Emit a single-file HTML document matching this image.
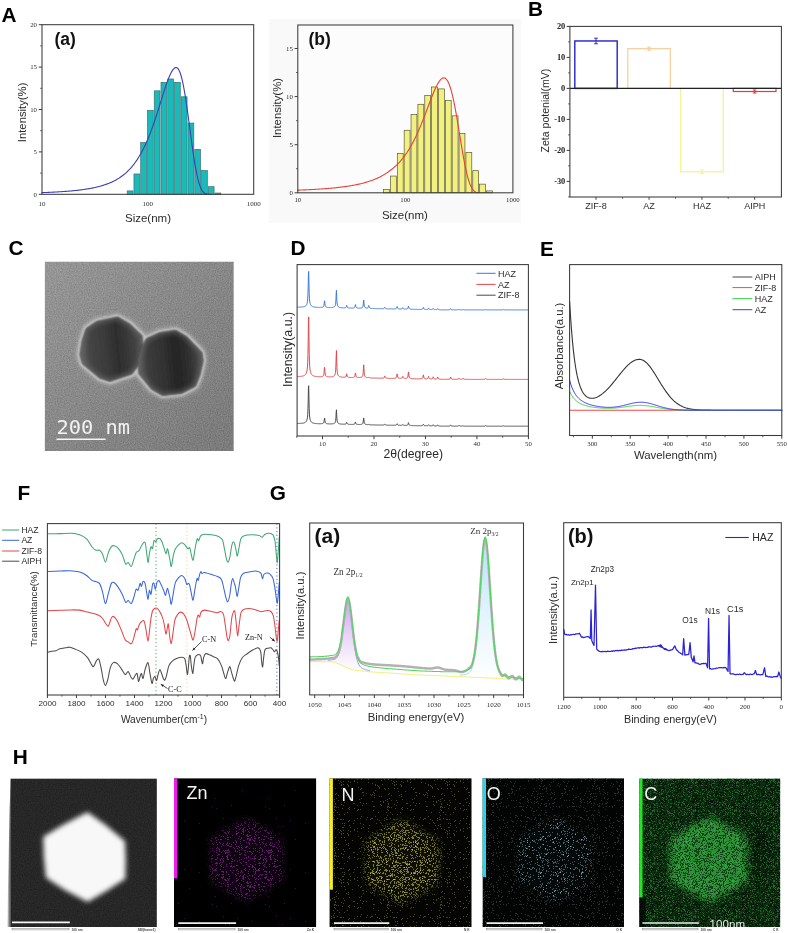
<!DOCTYPE html>
<html lang="en"><head><meta charset="utf-8"><title>Figure: characterization of HAZ nanoparticles</title>
<style>html,body{margin:0;padding:0;background:#fff}body{width:788px;height:933px;overflow:hidden}svg{display:block;filter:blur(0.35px)}text{white-space:pre}</style>
</head><body>
<svg width="788" height="933" viewBox="0 0 788 933">
<defs>
<clipPath id="clipC"><rect x="44.7" y="261.6" width="189.1" height="189.4"/></clipPath>
<clipPath id="clipH1"><rect x="7" y="778.4" width="149.9" height="148.6"/></clipPath>
<clipPath id="clipH5"><rect x="639.2" y="778.4" width="141.2" height="148.6"/></clipPath>
<linearGradient id="temBg" x1="0" y1="0" x2="1" y2="1"><stop offset="0" stop-color="#9a9a9a"/><stop offset="0.5" stop-color="#898989"/><stop offset="1" stop-color="#7a7a7a"/></linearGradient>
<linearGradient id="p1g" x1="0" y1="0.1" x2="1" y2="0"><stop offset="0" stop-color="#5c5c5c"/><stop offset="0.12" stop-color="#454545"/><stop offset="0.38" stop-color="#3a3a3a"/><stop offset="0.55" stop-color="#2e2e2e"/><stop offset="0.72" stop-color="#393939"/><stop offset="0.9" stop-color="#4a4a4a"/><stop offset="1" stop-color="#5e5e5e"/></linearGradient>
<linearGradient id="p2g" x1="0" y1="0.1" x2="1" y2="0"><stop offset="0" stop-color="#545454"/><stop offset="0.12" stop-color="#3c3c3c"/><stop offset="0.36" stop-color="#313131"/><stop offset="0.55" stop-color="#242424"/><stop offset="0.74" stop-color="#303030"/><stop offset="0.88" stop-color="#444"/><stop offset="1" stop-color="#5a5a5a"/></linearGradient>
<linearGradient id="stripG" x1="0" y1="0" x2="1" y2="0"><stop offset="0" stop-color="#e8e8e8"/><stop offset="1" stop-color="#3a3a3a"/></linearGradient>
<linearGradient id="fillP" x1="0" y1="0" x2="0" y2="1"><stop offset="0" stop-color="#d2a2f4"/><stop offset="0.5" stop-color="#ead6fb"/><stop offset="1" stop-color="#ffffff"/></linearGradient>
<linearGradient id="fillB" x1="0" y1="0" x2="0" y2="1"><stop offset="0" stop-color="#b4e2f8"/><stop offset="0.5" stop-color="#e0f3fc"/><stop offset="1" stop-color="#ffffff"/></linearGradient>
<filter id="blur04" x="0" y="0" width="100%" height="100%"><feGaussianBlur stdDeviation="0.45"/></filter>
<filter id="blur05" x="-20%" y="-5%" width="140%" height="110%"><feGaussianBlur stdDeviation="0.6"/></filter>
<filter id="blur1" x="-10%" y="-10%" width="120%" height="120%"><feGaussianBlur stdDeviation="1.1"/></filter>
<filter id="blur2" x="-20%" y="-20%" width="140%" height="140%"><feGaussianBlur stdDeviation="2.2"/></filter>
<filter id="blur25" x="-20%" y="-20%" width="140%" height="140%"><feGaussianBlur stdDeviation="2.4"/></filter>
<filter id="blur3b" x="-30%" y="-30%" width="160%" height="160%"><feGaussianBlur stdDeviation="3"/></filter>
<filter id="blur3" x="-30%" y="-30%" width="160%" height="160%"><feGaussianBlur stdDeviation="4"/></filter>
<filter id="grain" color-interpolation-filters="sRGB" x="0" y="0" width="100%" height="100%"><feTurbulence type="fractalNoise" baseFrequency="0.85" numOctaves="2" seed="4"/><feColorMatrix type="matrix" values="1.4 0 0 0 -0.2  1.4 0 0 0 -0.2  1.4 0 0 0 -0.2  0 0 0 0 1"/></filter>
<pattern id="dZn" width="43" height="47" patternUnits="userSpaceOnUse"><path d="M0 13h1v1h-1zM0 17h1v1h-1zM0 23h1v1h-1zM0 24h1v1h-1zM0 30h1v1h-1zM0 33h1v1h-1zM0 38h1v1h-1zM0 39h1v1h-1zM1 2h1v1h-1zM1 4h1v1h-1zM1 6h1v1h-1zM1 13h1v1h-1zM1 16h1v1h-1zM1 17h1v1h-1zM1 19h1v1h-1zM1 22h1v1h-1zM1 24h1v1h-1zM1 29h1v1h-1zM1 38h1v1h-1zM1 41h1v1h-1zM1 43h1v1h-1zM2 1h1v1h-1zM2 9h1v1h-1zM2 11h1v1h-1zM2 12h1v1h-1zM2 17h1v1h-1zM2 28h1v1h-1zM2 32h1v1h-1zM2 45h1v1h-1zM3 2h1v1h-1zM3 8h1v1h-1zM3 29h1v1h-1zM3 40h1v1h-1zM4 3h1v1h-1zM4 4h1v1h-1zM4 5h1v1h-1zM4 8h1v1h-1zM4 17h1v1h-1zM4 28h1v1h-1zM4 36h1v1h-1zM4 43h1v1h-1zM5 13h1v1h-1zM5 14h1v1h-1zM5 16h1v1h-1zM5 19h1v1h-1zM5 23h1v1h-1zM5 40h1v1h-1zM5 44h1v1h-1zM6 0h1v1h-1zM6 6h1v1h-1zM6 12h1v1h-1zM6 18h1v1h-1zM6 20h1v1h-1zM6 25h1v1h-1zM6 31h1v1h-1zM6 37h1v1h-1zM6 40h1v1h-1zM7 10h1v1h-1zM7 13h1v1h-1zM7 16h1v1h-1zM7 25h1v1h-1zM7 28h1v1h-1zM7 31h1v1h-1zM7 32h1v1h-1zM7 45h1v1h-1zM8 4h1v1h-1zM8 12h1v1h-1zM8 14h1v1h-1zM8 15h1v1h-1zM8 21h1v1h-1zM8 25h1v1h-1zM8 26h1v1h-1zM8 28h1v1h-1zM8 30h1v1h-1zM8 31h1v1h-1zM8 37h1v1h-1zM8 44h1v1h-1zM8 46h1v1h-1zM9 5h1v1h-1zM9 33h1v1h-1zM10 4h1v1h-1zM10 6h1v1h-1zM10 7h1v1h-1zM10 33h1v1h-1zM10 34h1v1h-1zM10 39h1v1h-1zM11 4h1v1h-1zM11 6h1v1h-1zM11 10h1v1h-1zM11 18h1v1h-1zM11 20h1v1h-1zM11 25h1v1h-1zM11 26h1v1h-1zM11 34h1v1h-1zM11 45h1v1h-1zM12 4h1v1h-1zM12 6h1v1h-1zM12 9h1v1h-1zM12 10h1v1h-1zM12 11h1v1h-1zM12 12h1v1h-1zM12 13h1v1h-1zM12 32h1v1h-1zM12 36h1v1h-1zM12 38h1v1h-1zM12 40h1v1h-1zM12 43h1v1h-1zM12 44h1v1h-1zM12 46h1v1h-1zM13 3h1v1h-1zM13 4h1v1h-1zM13 6h1v1h-1zM13 8h1v1h-1zM13 13h1v1h-1zM13 28h1v1h-1zM13 33h1v1h-1zM13 34h1v1h-1zM13 38h1v1h-1zM13 40h1v1h-1zM13 46h1v1h-1zM14 0h1v1h-1zM14 5h1v1h-1zM14 17h1v1h-1zM14 30h1v1h-1zM14 32h1v1h-1zM14 44h1v1h-1zM15 0h1v1h-1zM15 9h1v1h-1zM15 20h1v1h-1zM15 24h1v1h-1zM15 38h1v1h-1zM16 0h1v1h-1zM16 12h1v1h-1zM16 15h1v1h-1zM16 17h1v1h-1zM16 19h1v1h-1zM16 20h1v1h-1zM16 45h1v1h-1zM17 13h1v1h-1zM17 15h1v1h-1zM17 21h1v1h-1zM17 26h1v1h-1zM17 36h1v1h-1zM18 1h1v1h-1zM18 20h1v1h-1zM18 24h1v1h-1zM18 43h1v1h-1zM19 2h1v1h-1zM19 9h1v1h-1zM19 14h1v1h-1zM19 20h1v1h-1zM20 4h1v1h-1zM20 5h1v1h-1zM20 28h1v1h-1zM20 41h1v1h-1zM20 45h1v1h-1zM21 0h1v1h-1zM21 19h1v1h-1zM21 24h1v1h-1zM21 29h1v1h-1zM21 32h1v1h-1zM21 34h1v1h-1zM21 35h1v1h-1zM21 42h1v1h-1zM21 43h1v1h-1zM22 2h1v1h-1zM22 5h1v1h-1zM22 15h1v1h-1zM22 19h1v1h-1zM22 23h1v1h-1zM22 27h1v1h-1zM22 34h1v1h-1zM23 0h1v1h-1zM23 25h1v1h-1zM23 27h1v1h-1zM23 33h1v1h-1zM23 39h1v1h-1zM24 1h1v1h-1zM24 4h1v1h-1zM24 6h1v1h-1zM24 8h1v1h-1zM24 11h1v1h-1zM24 14h1v1h-1zM24 30h1v1h-1zM24 37h1v1h-1zM25 8h1v1h-1zM25 16h1v1h-1zM25 26h1v1h-1zM25 29h1v1h-1zM25 40h1v1h-1zM25 42h1v1h-1zM25 44h1v1h-1zM26 1h1v1h-1zM26 3h1v1h-1zM26 7h1v1h-1zM26 13h1v1h-1zM26 17h1v1h-1zM26 24h1v1h-1zM26 25h1v1h-1zM26 34h1v1h-1zM26 38h1v1h-1zM26 39h1v1h-1zM26 46h1v1h-1zM27 2h1v1h-1zM27 26h1v1h-1zM27 30h1v1h-1zM27 32h1v1h-1zM28 15h1v1h-1zM28 19h1v1h-1zM28 29h1v1h-1zM28 30h1v1h-1zM28 31h1v1h-1zM28 32h1v1h-1zM28 33h1v1h-1zM28 35h1v1h-1zM28 41h1v1h-1zM29 4h1v1h-1zM29 8h1v1h-1zM29 12h1v1h-1zM29 23h1v1h-1zM29 28h1v1h-1zM29 41h1v1h-1zM30 1h1v1h-1zM30 4h1v1h-1zM30 6h1v1h-1zM30 9h1v1h-1zM30 16h1v1h-1zM30 22h1v1h-1zM30 24h1v1h-1zM30 31h1v1h-1zM31 0h1v1h-1zM31 1h1v1h-1zM31 11h1v1h-1zM31 12h1v1h-1zM31 16h1v1h-1zM31 18h1v1h-1zM31 36h1v1h-1zM31 43h1v1h-1zM32 0h1v1h-1zM32 5h1v1h-1zM32 30h1v1h-1zM32 35h1v1h-1zM32 36h1v1h-1zM32 37h1v1h-1zM32 39h1v1h-1zM32 40h1v1h-1zM33 10h1v1h-1zM33 11h1v1h-1zM33 14h1v1h-1zM33 20h1v1h-1zM33 25h1v1h-1zM33 27h1v1h-1zM33 32h1v1h-1zM33 37h1v1h-1zM33 39h1v1h-1zM33 43h1v1h-1zM34 2h1v1h-1zM34 5h1v1h-1zM34 20h1v1h-1zM34 23h1v1h-1zM34 29h1v1h-1zM34 33h1v1h-1zM34 36h1v1h-1zM34 40h1v1h-1zM34 41h1v1h-1zM34 44h1v1h-1zM34 45h1v1h-1zM35 5h1v1h-1zM35 12h1v1h-1zM35 18h1v1h-1zM35 36h1v1h-1zM35 39h1v1h-1zM35 40h1v1h-1zM35 41h1v1h-1zM36 6h1v1h-1zM36 8h1v1h-1zM36 38h1v1h-1zM37 7h1v1h-1zM37 12h1v1h-1zM37 19h1v1h-1zM37 20h1v1h-1zM37 21h1v1h-1zM37 29h1v1h-1zM37 30h1v1h-1zM37 40h1v1h-1zM37 44h1v1h-1zM38 2h1v1h-1zM38 5h1v1h-1zM38 20h1v1h-1zM38 23h1v1h-1zM38 25h1v1h-1zM38 41h1v1h-1zM39 10h1v1h-1zM39 12h1v1h-1zM39 13h1v1h-1zM39 15h1v1h-1zM39 21h1v1h-1zM39 28h1v1h-1zM39 31h1v1h-1zM39 37h1v1h-1zM39 39h1v1h-1zM39 41h1v1h-1zM39 42h1v1h-1zM40 2h1v1h-1zM40 4h1v1h-1zM40 9h1v1h-1zM40 12h1v1h-1zM40 18h1v1h-1zM40 22h1v1h-1zM40 23h1v1h-1zM40 25h1v1h-1zM40 26h1v1h-1zM40 27h1v1h-1zM40 33h1v1h-1zM40 35h1v1h-1zM40 39h1v1h-1zM40 44h1v1h-1zM41 24h1v1h-1zM41 32h1v1h-1zM41 36h1v1h-1zM41 45h1v1h-1zM42 5h1v1h-1zM42 24h1v1h-1z" fill="#601f68" opacity="1"/></pattern>
<pattern id="dZnBg" width="53" height="49" patternUnits="userSpaceOnUse"><path d="M0 22h1v1h-1zM3 14h1v1h-1zM4 24h1v1h-1zM11 34h1v1h-1zM13 42h1v1h-1zM17 42h1v1h-1zM19 21h1v1h-1zM25 36h1v1h-1zM30 6h1v1h-1zM40 39h1v1h-1z" fill="#3a1040" opacity="1"/></pattern>
<pattern id="dN" width="43" height="47" patternUnits="userSpaceOnUse"><path d="M0 4h1v1h-1zM0 6h1v1h-1zM0 7h1v1h-1zM0 15h1v1h-1zM0 18h1v1h-1zM0 24h1v1h-1zM0 30h1v1h-1zM0 38h1v1h-1zM0 46h1v1h-1zM1 12h1v1h-1zM1 14h1v1h-1zM1 29h1v1h-1zM1 33h1v1h-1zM1 40h1v1h-1zM1 41h1v1h-1zM2 0h1v1h-1zM2 8h1v1h-1zM2 9h1v1h-1zM2 10h1v1h-1zM2 19h1v1h-1zM2 20h1v1h-1zM2 24h1v1h-1zM2 25h1v1h-1zM2 29h1v1h-1zM2 33h1v1h-1zM2 39h1v1h-1zM2 40h1v1h-1zM2 44h1v1h-1zM3 0h1v1h-1zM3 9h1v1h-1zM3 12h1v1h-1zM3 13h1v1h-1zM3 27h1v1h-1zM3 30h1v1h-1zM3 36h1v1h-1zM3 37h1v1h-1zM3 41h1v1h-1zM4 2h1v1h-1zM4 3h1v1h-1zM4 5h1v1h-1zM4 7h1v1h-1zM4 21h1v1h-1zM4 23h1v1h-1zM4 28h1v1h-1zM4 29h1v1h-1zM4 35h1v1h-1zM4 43h1v1h-1zM4 45h1v1h-1zM4 46h1v1h-1zM5 1h1v1h-1zM5 6h1v1h-1zM5 8h1v1h-1zM5 10h1v1h-1zM5 16h1v1h-1zM5 17h1v1h-1zM5 21h1v1h-1zM5 23h1v1h-1zM5 25h1v1h-1zM5 27h1v1h-1zM5 28h1v1h-1zM5 29h1v1h-1zM5 30h1v1h-1zM5 34h1v1h-1zM5 41h1v1h-1zM5 44h1v1h-1zM6 8h1v1h-1zM6 12h1v1h-1zM6 14h1v1h-1zM6 15h1v1h-1zM6 19h1v1h-1zM6 20h1v1h-1zM6 23h1v1h-1zM6 33h1v1h-1zM6 39h1v1h-1zM6 40h1v1h-1zM7 1h1v1h-1zM7 3h1v1h-1zM7 4h1v1h-1zM7 19h1v1h-1zM7 20h1v1h-1zM7 21h1v1h-1zM7 25h1v1h-1zM7 28h1v1h-1zM7 29h1v1h-1zM7 33h1v1h-1zM7 35h1v1h-1zM7 36h1v1h-1zM7 37h1v1h-1zM7 39h1v1h-1zM7 45h1v1h-1zM8 2h1v1h-1zM8 4h1v1h-1zM8 5h1v1h-1zM8 6h1v1h-1zM8 7h1v1h-1zM8 9h1v1h-1zM8 15h1v1h-1zM8 16h1v1h-1zM8 19h1v1h-1zM8 21h1v1h-1zM8 24h1v1h-1zM8 31h1v1h-1zM8 33h1v1h-1zM8 41h1v1h-1zM8 42h1v1h-1zM9 3h1v1h-1zM9 6h1v1h-1zM9 7h1v1h-1zM9 14h1v1h-1zM9 15h1v1h-1zM9 16h1v1h-1zM9 18h1v1h-1zM9 23h1v1h-1zM9 30h1v1h-1zM9 36h1v1h-1zM9 37h1v1h-1zM9 39h1v1h-1zM9 41h1v1h-1zM10 7h1v1h-1zM10 11h1v1h-1zM10 12h1v1h-1zM10 16h1v1h-1zM10 19h1v1h-1zM10 20h1v1h-1zM10 24h1v1h-1zM10 26h1v1h-1zM10 30h1v1h-1zM10 35h1v1h-1zM10 40h1v1h-1zM11 0h1v1h-1zM11 3h1v1h-1zM11 4h1v1h-1zM11 5h1v1h-1zM11 9h1v1h-1zM11 11h1v1h-1zM11 16h1v1h-1zM11 19h1v1h-1zM11 22h1v1h-1zM11 27h1v1h-1zM11 31h1v1h-1zM11 35h1v1h-1zM11 36h1v1h-1zM11 38h1v1h-1zM11 40h1v1h-1zM11 42h1v1h-1zM11 46h1v1h-1zM12 9h1v1h-1zM12 12h1v1h-1zM12 17h1v1h-1zM12 21h1v1h-1zM12 25h1v1h-1zM12 33h1v1h-1zM12 36h1v1h-1zM12 38h1v1h-1zM13 2h1v1h-1zM13 3h1v1h-1zM13 8h1v1h-1zM13 9h1v1h-1zM13 12h1v1h-1zM13 17h1v1h-1zM13 19h1v1h-1zM13 21h1v1h-1zM13 24h1v1h-1zM13 25h1v1h-1zM13 26h1v1h-1zM13 32h1v1h-1zM13 34h1v1h-1zM13 37h1v1h-1zM13 38h1v1h-1zM13 39h1v1h-1zM13 45h1v1h-1zM14 2h1v1h-1zM14 6h1v1h-1zM14 19h1v1h-1zM14 23h1v1h-1zM14 25h1v1h-1zM14 27h1v1h-1zM14 31h1v1h-1zM14 37h1v1h-1zM14 41h1v1h-1zM15 2h1v1h-1zM15 7h1v1h-1zM15 10h1v1h-1zM15 11h1v1h-1zM15 12h1v1h-1zM15 16h1v1h-1zM15 26h1v1h-1zM15 30h1v1h-1zM15 32h1v1h-1zM15 34h1v1h-1zM15 36h1v1h-1zM15 38h1v1h-1zM15 39h1v1h-1zM15 40h1v1h-1zM15 42h1v1h-1zM15 45h1v1h-1zM15 46h1v1h-1zM16 1h1v1h-1zM16 2h1v1h-1zM16 10h1v1h-1zM16 16h1v1h-1zM16 21h1v1h-1zM16 24h1v1h-1zM16 28h1v1h-1zM16 31h1v1h-1zM16 33h1v1h-1zM16 45h1v1h-1zM17 3h1v1h-1zM17 8h1v1h-1zM17 16h1v1h-1zM17 21h1v1h-1zM17 23h1v1h-1zM17 25h1v1h-1zM17 28h1v1h-1zM17 29h1v1h-1zM17 33h1v1h-1zM17 35h1v1h-1zM17 39h1v1h-1zM17 46h1v1h-1zM18 1h1v1h-1zM18 12h1v1h-1zM18 15h1v1h-1zM18 16h1v1h-1zM18 17h1v1h-1zM18 23h1v1h-1zM18 31h1v1h-1zM18 32h1v1h-1zM18 33h1v1h-1zM18 35h1v1h-1zM18 36h1v1h-1zM18 42h1v1h-1zM18 44h1v1h-1zM18 46h1v1h-1zM19 1h1v1h-1zM19 11h1v1h-1zM19 13h1v1h-1zM19 17h1v1h-1zM19 21h1v1h-1zM19 23h1v1h-1zM19 25h1v1h-1zM19 27h1v1h-1zM19 31h1v1h-1zM19 34h1v1h-1zM19 41h1v1h-1zM19 42h1v1h-1zM19 46h1v1h-1zM20 3h1v1h-1zM20 4h1v1h-1zM20 9h1v1h-1zM20 11h1v1h-1zM20 15h1v1h-1zM20 17h1v1h-1zM20 18h1v1h-1zM20 19h1v1h-1zM20 22h1v1h-1zM20 23h1v1h-1zM20 24h1v1h-1zM20 25h1v1h-1zM20 26h1v1h-1zM20 31h1v1h-1zM20 39h1v1h-1zM20 46h1v1h-1zM21 3h1v1h-1zM21 18h1v1h-1zM21 21h1v1h-1zM21 25h1v1h-1zM21 26h1v1h-1zM21 31h1v1h-1zM21 33h1v1h-1zM21 36h1v1h-1zM21 38h1v1h-1zM21 43h1v1h-1zM22 0h1v1h-1zM22 15h1v1h-1zM22 17h1v1h-1zM22 21h1v1h-1zM22 33h1v1h-1zM22 39h1v1h-1zM22 42h1v1h-1zM22 44h1v1h-1zM23 1h1v1h-1zM23 8h1v1h-1zM23 15h1v1h-1zM23 20h1v1h-1zM23 28h1v1h-1zM23 30h1v1h-1zM23 43h1v1h-1zM24 0h1v1h-1zM24 3h1v1h-1zM24 5h1v1h-1zM24 9h1v1h-1zM24 12h1v1h-1zM24 16h1v1h-1zM24 20h1v1h-1zM24 26h1v1h-1zM24 30h1v1h-1zM24 34h1v1h-1zM24 38h1v1h-1zM24 43h1v1h-1zM24 46h1v1h-1zM25 4h1v1h-1zM25 9h1v1h-1zM25 11h1v1h-1zM25 15h1v1h-1zM25 21h1v1h-1zM25 31h1v1h-1zM25 32h1v1h-1zM25 37h1v1h-1zM25 38h1v1h-1zM25 39h1v1h-1zM26 1h1v1h-1zM26 12h1v1h-1zM26 23h1v1h-1zM26 26h1v1h-1zM26 27h1v1h-1zM26 29h1v1h-1zM26 36h1v1h-1zM26 38h1v1h-1zM26 39h1v1h-1zM26 42h1v1h-1zM26 43h1v1h-1zM26 45h1v1h-1zM27 1h1v1h-1zM27 4h1v1h-1zM27 26h1v1h-1zM27 32h1v1h-1zM27 33h1v1h-1zM27 36h1v1h-1zM28 5h1v1h-1zM28 6h1v1h-1zM28 11h1v1h-1zM28 15h1v1h-1zM28 24h1v1h-1zM28 25h1v1h-1zM28 26h1v1h-1zM28 27h1v1h-1zM28 33h1v1h-1zM28 35h1v1h-1zM28 36h1v1h-1zM28 41h1v1h-1zM28 42h1v1h-1zM28 46h1v1h-1zM29 0h1v1h-1zM29 1h1v1h-1zM29 3h1v1h-1zM29 5h1v1h-1zM29 7h1v1h-1zM29 9h1v1h-1zM29 18h1v1h-1zM29 19h1v1h-1zM29 20h1v1h-1zM29 23h1v1h-1zM29 25h1v1h-1zM29 33h1v1h-1zM29 34h1v1h-1zM29 37h1v1h-1zM29 42h1v1h-1zM29 44h1v1h-1zM30 1h1v1h-1zM30 7h1v1h-1zM30 10h1v1h-1zM30 15h1v1h-1zM30 16h1v1h-1zM30 22h1v1h-1zM30 27h1v1h-1zM30 28h1v1h-1zM30 34h1v1h-1zM30 38h1v1h-1zM30 41h1v1h-1zM30 44h1v1h-1zM31 2h1v1h-1zM31 3h1v1h-1zM31 26h1v1h-1zM31 34h1v1h-1zM31 38h1v1h-1zM31 40h1v1h-1zM31 43h1v1h-1zM31 44h1v1h-1zM32 10h1v1h-1zM32 14h1v1h-1zM32 19h1v1h-1zM32 25h1v1h-1zM32 26h1v1h-1zM32 31h1v1h-1zM32 32h1v1h-1zM32 38h1v1h-1zM32 39h1v1h-1zM33 1h1v1h-1zM33 2h1v1h-1zM33 3h1v1h-1zM33 4h1v1h-1zM33 6h1v1h-1zM33 8h1v1h-1zM33 9h1v1h-1zM33 14h1v1h-1zM33 15h1v1h-1zM33 16h1v1h-1zM33 18h1v1h-1zM33 19h1v1h-1zM33 21h1v1h-1zM33 22h1v1h-1zM33 23h1v1h-1zM33 24h1v1h-1zM33 27h1v1h-1zM33 31h1v1h-1zM33 33h1v1h-1zM33 34h1v1h-1zM33 36h1v1h-1zM34 3h1v1h-1zM34 10h1v1h-1zM34 16h1v1h-1zM34 17h1v1h-1zM34 19h1v1h-1zM34 26h1v1h-1zM34 35h1v1h-1zM34 36h1v1h-1zM34 40h1v1h-1zM34 45h1v1h-1zM35 1h1v1h-1zM35 12h1v1h-1zM35 14h1v1h-1zM35 16h1v1h-1zM35 19h1v1h-1zM35 24h1v1h-1zM35 30h1v1h-1zM35 34h1v1h-1zM35 41h1v1h-1zM35 42h1v1h-1zM36 1h1v1h-1zM36 10h1v1h-1zM36 11h1v1h-1zM36 18h1v1h-1zM36 23h1v1h-1zM36 26h1v1h-1zM36 30h1v1h-1zM36 34h1v1h-1zM36 36h1v1h-1zM36 41h1v1h-1zM36 44h1v1h-1zM37 2h1v1h-1zM37 4h1v1h-1zM37 6h1v1h-1zM37 11h1v1h-1zM37 12h1v1h-1zM37 14h1v1h-1zM37 18h1v1h-1zM37 30h1v1h-1zM37 31h1v1h-1zM37 34h1v1h-1zM37 45h1v1h-1zM37 46h1v1h-1zM38 1h1v1h-1zM38 6h1v1h-1zM38 15h1v1h-1zM38 16h1v1h-1zM38 20h1v1h-1zM38 27h1v1h-1zM38 31h1v1h-1zM38 35h1v1h-1zM38 42h1v1h-1zM38 43h1v1h-1zM39 0h1v1h-1zM39 2h1v1h-1zM39 13h1v1h-1zM39 14h1v1h-1zM39 26h1v1h-1zM39 27h1v1h-1zM39 37h1v1h-1zM39 38h1v1h-1zM39 45h1v1h-1zM40 1h1v1h-1zM40 10h1v1h-1zM40 17h1v1h-1zM40 21h1v1h-1zM40 24h1v1h-1zM40 34h1v1h-1zM40 35h1v1h-1zM40 37h1v1h-1zM40 39h1v1h-1zM40 41h1v1h-1zM40 42h1v1h-1zM40 43h1v1h-1zM40 45h1v1h-1zM41 2h1v1h-1zM41 3h1v1h-1zM41 9h1v1h-1zM41 12h1v1h-1zM41 13h1v1h-1zM41 23h1v1h-1zM41 24h1v1h-1zM41 27h1v1h-1zM41 28h1v1h-1zM42 3h1v1h-1zM42 9h1v1h-1zM42 12h1v1h-1zM42 14h1v1h-1zM42 15h1v1h-1zM42 18h1v1h-1zM42 23h1v1h-1zM42 24h1v1h-1zM42 25h1v1h-1zM42 30h1v1h-1zM42 33h1v1h-1zM42 35h1v1h-1zM42 38h1v1h-1z" fill="#80802a" opacity="1"/></pattern>
<pattern id="dNhi" width="41" height="53" patternUnits="userSpaceOnUse"><path d="M1 25h1v1h-1zM2 1h1v1h-1zM3 31h1v1h-1zM4 13h1v1h-1zM4 25h1v1h-1zM5 47h1v1h-1zM5 51h1v1h-1zM7 23h1v1h-1zM7 49h1v1h-1zM9 30h1v1h-1zM10 22h1v1h-1zM10 25h1v1h-1zM12 30h1v1h-1zM15 33h1v1h-1zM17 3h1v1h-1zM17 14h1v1h-1zM18 31h1v1h-1zM19 42h1v1h-1zM21 27h1v1h-1zM22 42h1v1h-1zM23 15h1v1h-1zM24 21h1v1h-1zM24 31h1v1h-1zM25 31h1v1h-1zM27 7h1v1h-1zM35 19h1v1h-1zM35 44h1v1h-1zM36 0h1v1h-1zM37 16h1v1h-1zM37 19h1v1h-1zM40 16h1v1h-1zM40 30h1v1h-1z" fill="#bdbd5c" opacity="1"/></pattern>
<pattern id="dNBg" width="53" height="49" patternUnits="userSpaceOnUse"><path d="M0 11h1v1h-1zM0 34h1v1h-1zM1 10h1v1h-1zM1 17h1v1h-1zM1 34h1v1h-1zM1 48h1v1h-1zM2 8h1v1h-1zM2 22h1v1h-1zM2 26h1v1h-1zM3 9h1v1h-1zM3 11h1v1h-1zM3 13h1v1h-1zM3 22h1v1h-1zM4 0h1v1h-1zM4 1h1v1h-1zM4 6h1v1h-1zM4 32h1v1h-1zM5 39h1v1h-1zM6 1h1v1h-1zM6 35h1v1h-1zM7 2h1v1h-1zM7 28h1v1h-1zM8 3h1v1h-1zM8 4h1v1h-1zM8 12h1v1h-1zM8 36h1v1h-1zM9 17h1v1h-1zM9 20h1v1h-1zM9 38h1v1h-1zM10 12h1v1h-1zM10 21h1v1h-1zM10 39h1v1h-1zM10 45h1v1h-1zM11 0h1v1h-1zM11 41h1v1h-1zM12 17h1v1h-1zM12 18h1v1h-1zM13 4h1v1h-1zM13 34h1v1h-1zM13 36h1v1h-1zM13 44h1v1h-1zM14 5h1v1h-1zM14 16h1v1h-1zM14 41h1v1h-1zM15 28h1v1h-1zM15 33h1v1h-1zM15 35h1v1h-1zM16 15h1v1h-1zM16 17h1v1h-1zM16 22h1v1h-1zM16 23h1v1h-1zM16 25h1v1h-1zM16 31h1v1h-1zM16 35h1v1h-1zM16 40h1v1h-1zM16 42h1v1h-1zM17 4h1v1h-1zM17 10h1v1h-1zM17 19h1v1h-1zM17 20h1v1h-1zM17 22h1v1h-1zM17 26h1v1h-1zM17 44h1v1h-1zM18 9h1v1h-1zM18 14h1v1h-1zM18 23h1v1h-1zM19 28h1v1h-1zM19 34h1v1h-1zM20 11h1v1h-1zM20 16h1v1h-1zM20 23h1v1h-1zM20 45h1v1h-1zM21 30h1v1h-1zM21 48h1v1h-1zM22 35h1v1h-1zM22 46h1v1h-1zM23 0h1v1h-1zM23 1h1v1h-1zM23 4h1v1h-1zM23 20h1v1h-1zM23 35h1v1h-1zM23 47h1v1h-1zM24 24h1v1h-1zM24 39h1v1h-1zM24 43h1v1h-1zM25 0h1v1h-1zM25 16h1v1h-1zM25 21h1v1h-1zM25 35h1v1h-1zM25 43h1v1h-1zM25 46h1v1h-1zM26 4h1v1h-1zM26 18h1v1h-1zM26 30h1v1h-1zM26 39h1v1h-1zM26 41h1v1h-1zM27 7h1v1h-1zM28 11h1v1h-1zM29 0h1v1h-1zM29 28h1v1h-1zM30 1h1v1h-1zM30 2h1v1h-1zM30 10h1v1h-1zM30 12h1v1h-1zM30 24h1v1h-1zM30 37h1v1h-1zM30 46h1v1h-1zM31 15h1v1h-1zM31 23h1v1h-1zM31 25h1v1h-1zM31 36h1v1h-1zM31 41h1v1h-1zM32 43h1v1h-1zM32 47h1v1h-1zM34 7h1v1h-1zM35 19h1v1h-1zM35 39h1v1h-1zM36 19h1v1h-1zM36 24h1v1h-1zM36 36h1v1h-1zM36 45h1v1h-1zM36 46h1v1h-1zM39 21h1v1h-1zM39 26h1v1h-1zM39 34h1v1h-1zM39 44h1v1h-1zM39 47h1v1h-1zM40 3h1v1h-1zM40 25h1v1h-1zM41 15h1v1h-1zM42 5h1v1h-1zM42 18h1v1h-1zM42 25h1v1h-1zM42 34h1v1h-1zM42 39h1v1h-1zM43 4h1v1h-1zM43 14h1v1h-1zM43 32h1v1h-1zM43 44h1v1h-1zM44 8h1v1h-1zM44 21h1v1h-1zM45 8h1v1h-1zM45 11h1v1h-1zM45 19h1v1h-1zM45 40h1v1h-1zM45 43h1v1h-1zM48 9h1v1h-1zM48 19h1v1h-1zM48 35h1v1h-1zM49 33h1v1h-1zM50 44h1v1h-1zM50 47h1v1h-1zM51 41h1v1h-1zM52 10h1v1h-1zM52 35h1v1h-1z" fill="#46461a" opacity="1"/></pattern>
<pattern id="dO" width="43" height="47" patternUnits="userSpaceOnUse"><path d="M0 10h1v1h-1zM0 14h1v1h-1zM0 23h1v1h-1zM0 26h1v1h-1zM0 36h1v1h-1zM0 43h1v1h-1zM1 0h1v1h-1zM1 6h1v1h-1zM1 11h1v1h-1zM1 23h1v1h-1zM1 25h1v1h-1zM1 46h1v1h-1zM2 8h1v1h-1zM2 20h1v1h-1zM2 22h1v1h-1zM2 24h1v1h-1zM2 32h1v1h-1zM2 33h1v1h-1zM3 5h1v1h-1zM3 8h1v1h-1zM3 13h1v1h-1zM3 14h1v1h-1zM3 19h1v1h-1zM3 25h1v1h-1zM3 35h1v1h-1zM4 6h1v1h-1zM4 9h1v1h-1zM4 23h1v1h-1zM4 29h1v1h-1zM4 31h1v1h-1zM4 43h1v1h-1zM4 44h1v1h-1zM5 13h1v1h-1zM5 18h1v1h-1zM5 23h1v1h-1zM5 27h1v1h-1zM5 32h1v1h-1zM5 35h1v1h-1zM5 41h1v1h-1zM5 43h1v1h-1zM6 0h1v1h-1zM6 5h1v1h-1zM6 19h1v1h-1zM6 20h1v1h-1zM6 21h1v1h-1zM6 32h1v1h-1zM6 34h1v1h-1zM6 37h1v1h-1zM6 45h1v1h-1zM7 3h1v1h-1zM7 4h1v1h-1zM7 6h1v1h-1zM7 7h1v1h-1zM7 18h1v1h-1zM7 26h1v1h-1zM7 42h1v1h-1zM8 10h1v1h-1zM8 21h1v1h-1zM8 32h1v1h-1zM8 34h1v1h-1zM8 36h1v1h-1zM8 42h1v1h-1zM9 1h1v1h-1zM9 4h1v1h-1zM9 7h1v1h-1zM9 9h1v1h-1zM9 14h1v1h-1zM9 30h1v1h-1zM9 46h1v1h-1zM10 29h1v1h-1zM10 33h1v1h-1zM11 2h1v1h-1zM11 17h1v1h-1zM11 22h1v1h-1zM11 26h1v1h-1zM11 27h1v1h-1zM11 39h1v1h-1zM12 0h1v1h-1zM12 30h1v1h-1zM12 35h1v1h-1zM13 3h1v1h-1zM13 11h1v1h-1zM13 16h1v1h-1zM13 31h1v1h-1zM13 34h1v1h-1zM13 37h1v1h-1zM13 38h1v1h-1zM13 45h1v1h-1zM14 11h1v1h-1zM14 18h1v1h-1zM14 23h1v1h-1zM14 28h1v1h-1zM14 30h1v1h-1zM14 31h1v1h-1zM14 43h1v1h-1zM15 15h1v1h-1zM15 23h1v1h-1zM16 4h1v1h-1zM16 21h1v1h-1zM16 22h1v1h-1zM16 34h1v1h-1zM17 4h1v1h-1zM17 7h1v1h-1zM17 21h1v1h-1zM17 29h1v1h-1zM17 42h1v1h-1zM18 3h1v1h-1zM18 22h1v1h-1zM18 33h1v1h-1zM18 41h1v1h-1zM18 42h1v1h-1zM19 17h1v1h-1zM19 43h1v1h-1zM20 4h1v1h-1zM20 9h1v1h-1zM20 11h1v1h-1zM20 23h1v1h-1zM20 24h1v1h-1zM20 25h1v1h-1zM20 40h1v1h-1zM21 16h1v1h-1zM21 18h1v1h-1zM21 44h1v1h-1zM22 1h1v1h-1zM22 6h1v1h-1zM22 19h1v1h-1zM22 26h1v1h-1zM22 28h1v1h-1zM22 32h1v1h-1zM22 41h1v1h-1zM23 2h1v1h-1zM23 8h1v1h-1zM23 9h1v1h-1zM23 11h1v1h-1zM23 19h1v1h-1zM23 22h1v1h-1zM23 23h1v1h-1zM23 25h1v1h-1zM23 26h1v1h-1zM23 32h1v1h-1zM23 40h1v1h-1zM24 0h1v1h-1zM24 1h1v1h-1zM24 10h1v1h-1zM24 12h1v1h-1zM24 20h1v1h-1zM24 26h1v1h-1zM24 35h1v1h-1zM24 38h1v1h-1zM24 41h1v1h-1zM25 7h1v1h-1zM25 14h1v1h-1zM25 32h1v1h-1zM25 39h1v1h-1zM25 40h1v1h-1zM26 12h1v1h-1zM26 15h1v1h-1zM26 16h1v1h-1zM26 19h1v1h-1zM26 21h1v1h-1zM26 24h1v1h-1zM26 37h1v1h-1zM26 38h1v1h-1zM26 45h1v1h-1zM27 12h1v1h-1zM27 14h1v1h-1zM27 21h1v1h-1zM27 23h1v1h-1zM27 29h1v1h-1zM27 30h1v1h-1zM27 41h1v1h-1zM28 7h1v1h-1zM28 10h1v1h-1zM28 18h1v1h-1zM29 3h1v1h-1zM29 8h1v1h-1zM29 13h1v1h-1zM29 27h1v1h-1zM30 7h1v1h-1zM30 14h1v1h-1zM30 24h1v1h-1zM30 25h1v1h-1zM30 42h1v1h-1zM31 3h1v1h-1zM31 4h1v1h-1zM31 7h1v1h-1zM31 13h1v1h-1zM31 15h1v1h-1zM31 17h1v1h-1zM31 19h1v1h-1zM31 37h1v1h-1zM31 46h1v1h-1zM32 6h1v1h-1zM32 14h1v1h-1zM32 16h1v1h-1zM32 19h1v1h-1zM32 20h1v1h-1zM32 25h1v1h-1zM32 36h1v1h-1zM33 0h1v1h-1zM33 3h1v1h-1zM33 22h1v1h-1zM33 33h1v1h-1zM33 37h1v1h-1zM34 0h1v1h-1zM34 7h1v1h-1zM34 13h1v1h-1zM34 29h1v1h-1zM34 35h1v1h-1zM34 36h1v1h-1zM34 41h1v1h-1zM35 6h1v1h-1zM35 25h1v1h-1zM35 28h1v1h-1zM36 15h1v1h-1zM36 33h1v1h-1zM36 43h1v1h-1zM37 2h1v1h-1zM37 3h1v1h-1zM37 6h1v1h-1zM37 16h1v1h-1zM37 17h1v1h-1zM37 20h1v1h-1zM37 22h1v1h-1zM37 26h1v1h-1zM37 28h1v1h-1zM37 29h1v1h-1zM37 42h1v1h-1zM38 3h1v1h-1zM38 6h1v1h-1zM38 13h1v1h-1zM38 16h1v1h-1zM38 44h1v1h-1zM39 1h1v1h-1zM39 15h1v1h-1zM39 16h1v1h-1zM39 20h1v1h-1zM39 26h1v1h-1zM39 29h1v1h-1zM39 39h1v1h-1zM40 4h1v1h-1zM40 17h1v1h-1zM40 20h1v1h-1zM40 27h1v1h-1zM40 28h1v1h-1zM40 42h1v1h-1zM41 9h1v1h-1zM41 13h1v1h-1zM41 15h1v1h-1zM41 20h1v1h-1zM41 25h1v1h-1zM41 29h1v1h-1zM41 34h1v1h-1zM41 35h1v1h-1zM41 38h1v1h-1zM41 44h1v1h-1zM42 6h1v1h-1zM42 17h1v1h-1zM42 27h1v1h-1zM42 29h1v1h-1zM42 40h1v1h-1zM42 46h1v1h-1z" fill="#465c5e" opacity="1"/></pattern>
<pattern id="dOhi" width="41" height="53" patternUnits="userSpaceOnUse"><path d="M1 39h1v1h-1zM4 7h1v1h-1zM4 11h1v1h-1zM5 28h1v1h-1zM7 9h1v1h-1zM7 25h1v1h-1zM7 28h1v1h-1zM7 44h1v1h-1zM8 24h1v1h-1zM10 41h1v1h-1zM10 49h1v1h-1zM12 0h1v1h-1zM12 43h1v1h-1zM13 6h1v1h-1zM13 37h1v1h-1zM17 30h1v1h-1zM19 44h1v1h-1zM20 47h1v1h-1zM21 43h1v1h-1zM22 24h1v1h-1zM22 42h1v1h-1zM22 52h1v1h-1zM24 28h1v1h-1zM24 32h1v1h-1zM26 2h1v1h-1zM26 20h1v1h-1zM27 24h1v1h-1zM27 44h1v1h-1zM27 51h1v1h-1zM28 43h1v1h-1zM30 6h1v1h-1zM30 26h1v1h-1zM31 31h1v1h-1zM33 43h1v1h-1zM34 0h1v1h-1zM34 8h1v1h-1zM35 7h1v1h-1zM35 45h1v1h-1zM35 47h1v1h-1zM37 20h1v1h-1zM37 51h1v1h-1zM40 45h1v1h-1zM40 52h1v1h-1z" fill="#8aa2a4" opacity="1"/></pattern>
<pattern id="dOBg" width="53" height="49" patternUnits="userSpaceOnUse"><path d="M0 15h1v1h-1zM0 23h1v1h-1zM1 11h1v1h-1zM1 18h1v1h-1zM1 26h1v1h-1zM1 35h1v1h-1zM2 9h1v1h-1zM2 24h1v1h-1zM2 44h1v1h-1zM3 7h1v1h-1zM3 27h1v1h-1zM3 31h1v1h-1zM3 42h1v1h-1zM4 4h1v1h-1zM4 13h1v1h-1zM4 17h1v1h-1zM4 19h1v1h-1zM4 27h1v1h-1zM4 35h1v1h-1zM5 33h1v1h-1zM5 34h1v1h-1zM5 41h1v1h-1zM5 43h1v1h-1zM6 7h1v1h-1zM6 15h1v1h-1zM6 18h1v1h-1zM6 26h1v1h-1zM6 36h1v1h-1zM6 45h1v1h-1zM7 10h1v1h-1zM7 12h1v1h-1zM7 14h1v1h-1zM7 17h1v1h-1zM8 9h1v1h-1zM8 19h1v1h-1zM8 23h1v1h-1zM8 31h1v1h-1zM8 39h1v1h-1zM8 44h1v1h-1zM9 1h1v1h-1zM9 4h1v1h-1zM9 13h1v1h-1zM9 30h1v1h-1zM9 43h1v1h-1zM10 2h1v1h-1zM10 9h1v1h-1zM10 21h1v1h-1zM10 31h1v1h-1zM10 34h1v1h-1zM10 35h1v1h-1zM11 12h1v1h-1zM11 15h1v1h-1zM11 19h1v1h-1zM11 26h1v1h-1zM11 37h1v1h-1zM11 44h1v1h-1zM11 46h1v1h-1zM11 48h1v1h-1zM12 5h1v1h-1zM12 9h1v1h-1zM12 15h1v1h-1zM12 45h1v1h-1zM13 2h1v1h-1zM13 12h1v1h-1zM14 1h1v1h-1zM14 4h1v1h-1zM14 20h1v1h-1zM14 30h1v1h-1zM14 40h1v1h-1zM14 44h1v1h-1zM15 22h1v1h-1zM15 26h1v1h-1zM15 28h1v1h-1zM16 3h1v1h-1zM16 4h1v1h-1zM16 5h1v1h-1zM16 7h1v1h-1zM16 19h1v1h-1zM16 21h1v1h-1zM16 22h1v1h-1zM16 28h1v1h-1zM16 31h1v1h-1zM17 9h1v1h-1zM17 36h1v1h-1zM18 16h1v1h-1zM19 0h1v1h-1zM19 19h1v1h-1zM19 20h1v1h-1zM19 32h1v1h-1zM20 2h1v1h-1zM20 5h1v1h-1zM20 10h1v1h-1zM20 23h1v1h-1zM21 8h1v1h-1zM21 13h1v1h-1zM21 14h1v1h-1zM21 33h1v1h-1zM21 47h1v1h-1zM22 9h1v1h-1zM22 19h1v1h-1zM22 25h1v1h-1zM22 36h1v1h-1zM22 43h1v1h-1zM23 19h1v1h-1zM23 22h1v1h-1zM23 44h1v1h-1zM23 46h1v1h-1zM24 8h1v1h-1zM24 10h1v1h-1zM24 15h1v1h-1zM24 18h1v1h-1zM24 31h1v1h-1zM25 14h1v1h-1zM26 22h1v1h-1zM26 35h1v1h-1zM26 36h1v1h-1zM26 42h1v1h-1zM27 1h1v1h-1zM27 33h1v1h-1zM27 39h1v1h-1zM28 43h1v1h-1zM28 48h1v1h-1zM29 2h1v1h-1zM29 22h1v1h-1zM29 23h1v1h-1zM29 41h1v1h-1zM30 0h1v1h-1zM30 14h1v1h-1zM30 38h1v1h-1zM30 43h1v1h-1zM31 9h1v1h-1zM31 21h1v1h-1zM32 9h1v1h-1zM32 11h1v1h-1zM33 29h1v1h-1zM33 33h1v1h-1zM33 46h1v1h-1zM34 4h1v1h-1zM34 5h1v1h-1zM34 9h1v1h-1zM34 16h1v1h-1zM34 36h1v1h-1zM34 47h1v1h-1zM35 5h1v1h-1zM35 7h1v1h-1zM35 8h1v1h-1zM35 37h1v1h-1zM36 1h1v1h-1zM36 2h1v1h-1zM36 16h1v1h-1zM36 37h1v1h-1zM36 42h1v1h-1zM37 10h1v1h-1zM37 23h1v1h-1zM37 48h1v1h-1zM38 31h1v1h-1zM38 33h1v1h-1zM38 46h1v1h-1zM39 6h1v1h-1zM39 16h1v1h-1zM39 22h1v1h-1zM39 31h1v1h-1zM39 39h1v1h-1zM40 32h1v1h-1zM40 36h1v1h-1zM41 34h1v1h-1zM42 4h1v1h-1zM42 5h1v1h-1zM42 18h1v1h-1zM42 22h1v1h-1zM43 2h1v1h-1zM43 11h1v1h-1zM43 15h1v1h-1zM43 19h1v1h-1zM43 22h1v1h-1zM43 36h1v1h-1zM43 41h1v1h-1zM44 22h1v1h-1zM44 31h1v1h-1zM44 37h1v1h-1zM45 13h1v1h-1zM45 25h1v1h-1zM46 13h1v1h-1zM46 22h1v1h-1zM46 26h1v1h-1zM46 42h1v1h-1zM47 4h1v1h-1zM48 12h1v1h-1zM48 32h1v1h-1zM48 42h1v1h-1zM48 43h1v1h-1zM49 23h1v1h-1zM49 37h1v1h-1zM49 40h1v1h-1zM50 9h1v1h-1zM50 14h1v1h-1zM50 15h1v1h-1zM50 17h1v1h-1zM50 21h1v1h-1zM50 33h1v1h-1zM50 37h1v1h-1zM51 16h1v1h-1zM51 18h1v1h-1zM51 33h1v1h-1zM51 45h1v1h-1zM51 46h1v1h-1zM52 34h1v1h-1z" fill="#283131" opacity="1"/></pattern>
<pattern id="dCk" width="47" height="43" patternUnits="userSpaceOnUse"><path d="M0 1h1v1h-1zM0 6h1v1h-1zM0 9h1v1h-1zM0 10h1v1h-1zM0 13h1v1h-1zM0 15h1v1h-1zM0 17h1v1h-1zM0 18h1v1h-1zM0 21h1v1h-1zM0 22h1v1h-1zM0 28h1v1h-1zM0 31h1v1h-1zM0 33h1v1h-1zM0 36h1v1h-1zM0 38h1v1h-1zM0 41h1v1h-1zM1 0h1v1h-1zM1 1h1v1h-1zM1 7h1v1h-1zM1 8h1v1h-1zM1 9h1v1h-1zM1 10h1v1h-1zM1 12h1v1h-1zM1 13h1v1h-1zM1 16h1v1h-1zM1 17h1v1h-1zM1 23h1v1h-1zM1 24h1v1h-1zM1 26h1v1h-1zM1 28h1v1h-1zM1 29h1v1h-1zM1 30h1v1h-1zM1 33h1v1h-1zM1 39h1v1h-1zM1 41h1v1h-1zM1 42h1v1h-1zM2 1h1v1h-1zM2 3h1v1h-1zM2 6h1v1h-1zM2 8h1v1h-1zM2 11h1v1h-1zM2 13h1v1h-1zM2 15h1v1h-1zM2 16h1v1h-1zM2 25h1v1h-1zM2 26h1v1h-1zM2 32h1v1h-1zM2 33h1v1h-1zM2 35h1v1h-1zM2 37h1v1h-1zM2 38h1v1h-1zM2 39h1v1h-1zM2 41h1v1h-1zM3 1h1v1h-1zM3 4h1v1h-1zM3 5h1v1h-1zM3 7h1v1h-1zM3 10h1v1h-1zM3 13h1v1h-1zM3 15h1v1h-1zM3 21h1v1h-1zM3 22h1v1h-1zM3 26h1v1h-1zM3 27h1v1h-1zM3 28h1v1h-1zM3 29h1v1h-1zM3 30h1v1h-1zM3 32h1v1h-1zM3 34h1v1h-1zM3 36h1v1h-1zM3 37h1v1h-1zM3 38h1v1h-1zM3 39h1v1h-1zM3 41h1v1h-1zM3 42h1v1h-1zM4 0h1v1h-1zM4 2h1v1h-1zM4 3h1v1h-1zM4 5h1v1h-1zM4 6h1v1h-1zM4 10h1v1h-1zM4 14h1v1h-1zM4 15h1v1h-1zM4 16h1v1h-1zM4 21h1v1h-1zM4 22h1v1h-1zM4 25h1v1h-1zM4 26h1v1h-1zM4 27h1v1h-1zM4 29h1v1h-1zM4 30h1v1h-1zM4 34h1v1h-1zM4 37h1v1h-1zM4 40h1v1h-1zM5 0h1v1h-1zM5 2h1v1h-1zM5 8h1v1h-1zM5 9h1v1h-1zM5 11h1v1h-1zM5 12h1v1h-1zM5 13h1v1h-1zM5 14h1v1h-1zM5 17h1v1h-1zM5 20h1v1h-1zM5 22h1v1h-1zM5 26h1v1h-1zM5 27h1v1h-1zM5 29h1v1h-1zM5 32h1v1h-1zM5 34h1v1h-1zM5 36h1v1h-1zM5 37h1v1h-1zM5 38h1v1h-1zM5 40h1v1h-1zM6 1h1v1h-1zM6 4h1v1h-1zM6 10h1v1h-1zM6 14h1v1h-1zM6 15h1v1h-1zM6 17h1v1h-1zM6 20h1v1h-1zM6 21h1v1h-1zM6 25h1v1h-1zM6 26h1v1h-1zM6 27h1v1h-1zM6 28h1v1h-1zM6 32h1v1h-1zM6 35h1v1h-1zM6 38h1v1h-1zM6 39h1v1h-1zM6 40h1v1h-1zM7 0h1v1h-1zM7 2h1v1h-1zM7 5h1v1h-1zM7 8h1v1h-1zM7 9h1v1h-1zM7 10h1v1h-1zM7 11h1v1h-1zM7 15h1v1h-1zM7 16h1v1h-1zM7 19h1v1h-1zM7 21h1v1h-1zM7 23h1v1h-1zM7 26h1v1h-1zM7 27h1v1h-1zM7 28h1v1h-1zM7 30h1v1h-1zM7 32h1v1h-1zM7 40h1v1h-1zM8 1h1v1h-1zM8 3h1v1h-1zM8 5h1v1h-1zM8 7h1v1h-1zM8 10h1v1h-1zM8 15h1v1h-1zM8 19h1v1h-1zM8 21h1v1h-1zM8 23h1v1h-1zM8 26h1v1h-1zM8 37h1v1h-1zM8 38h1v1h-1zM9 2h1v1h-1zM9 16h1v1h-1zM9 17h1v1h-1zM9 18h1v1h-1zM9 22h1v1h-1zM9 28h1v1h-1zM9 31h1v1h-1zM9 32h1v1h-1zM9 41h1v1h-1zM10 0h1v1h-1zM10 1h1v1h-1zM10 2h1v1h-1zM10 3h1v1h-1zM10 6h1v1h-1zM10 15h1v1h-1zM10 19h1v1h-1zM10 20h1v1h-1zM10 21h1v1h-1zM10 24h1v1h-1zM10 29h1v1h-1zM10 31h1v1h-1zM10 36h1v1h-1zM10 39h1v1h-1zM11 3h1v1h-1zM11 7h1v1h-1zM11 11h1v1h-1zM11 12h1v1h-1zM11 14h1v1h-1zM11 15h1v1h-1zM11 17h1v1h-1zM11 19h1v1h-1zM11 20h1v1h-1zM11 21h1v1h-1zM11 23h1v1h-1zM11 26h1v1h-1zM11 30h1v1h-1zM11 34h1v1h-1zM11 35h1v1h-1zM11 39h1v1h-1zM11 40h1v1h-1zM12 0h1v1h-1zM12 4h1v1h-1zM12 8h1v1h-1zM12 12h1v1h-1zM12 17h1v1h-1zM12 18h1v1h-1zM12 19h1v1h-1zM12 23h1v1h-1zM12 24h1v1h-1zM12 29h1v1h-1zM12 31h1v1h-1zM12 34h1v1h-1zM12 36h1v1h-1zM12 40h1v1h-1zM13 0h1v1h-1zM13 4h1v1h-1zM13 5h1v1h-1zM13 10h1v1h-1zM13 11h1v1h-1zM13 12h1v1h-1zM13 15h1v1h-1zM13 20h1v1h-1zM13 21h1v1h-1zM13 24h1v1h-1zM13 28h1v1h-1zM13 29h1v1h-1zM13 32h1v1h-1zM13 33h1v1h-1zM13 34h1v1h-1zM13 38h1v1h-1zM13 39h1v1h-1zM13 41h1v1h-1zM14 6h1v1h-1zM14 7h1v1h-1zM14 8h1v1h-1zM14 9h1v1h-1zM14 11h1v1h-1zM14 14h1v1h-1zM14 15h1v1h-1zM14 18h1v1h-1zM14 20h1v1h-1zM14 23h1v1h-1zM14 24h1v1h-1zM14 25h1v1h-1zM14 26h1v1h-1zM14 27h1v1h-1zM14 30h1v1h-1zM14 31h1v1h-1zM14 32h1v1h-1zM14 33h1v1h-1zM14 38h1v1h-1zM14 42h1v1h-1zM15 3h1v1h-1zM15 6h1v1h-1zM15 8h1v1h-1zM15 10h1v1h-1zM15 18h1v1h-1zM15 20h1v1h-1zM15 21h1v1h-1zM15 25h1v1h-1zM15 26h1v1h-1zM15 27h1v1h-1zM15 28h1v1h-1zM15 31h1v1h-1zM15 35h1v1h-1zM15 37h1v1h-1zM15 39h1v1h-1zM15 41h1v1h-1zM16 1h1v1h-1zM16 2h1v1h-1zM16 3h1v1h-1zM16 4h1v1h-1zM16 5h1v1h-1zM16 6h1v1h-1zM16 7h1v1h-1zM16 12h1v1h-1zM16 18h1v1h-1zM16 21h1v1h-1zM16 24h1v1h-1zM16 25h1v1h-1zM16 31h1v1h-1zM16 35h1v1h-1zM16 37h1v1h-1zM16 39h1v1h-1zM17 2h1v1h-1zM17 3h1v1h-1zM17 6h1v1h-1zM17 9h1v1h-1zM17 11h1v1h-1zM17 12h1v1h-1zM17 14h1v1h-1zM17 18h1v1h-1zM17 20h1v1h-1zM17 32h1v1h-1zM17 33h1v1h-1zM17 34h1v1h-1zM17 35h1v1h-1zM17 37h1v1h-1zM17 40h1v1h-1zM17 41h1v1h-1zM18 1h1v1h-1zM18 2h1v1h-1zM18 3h1v1h-1zM18 10h1v1h-1zM18 12h1v1h-1zM18 14h1v1h-1zM18 18h1v1h-1zM18 19h1v1h-1zM18 21h1v1h-1zM18 22h1v1h-1zM18 23h1v1h-1zM18 24h1v1h-1zM18 25h1v1h-1zM18 26h1v1h-1zM18 33h1v1h-1zM18 34h1v1h-1zM18 38h1v1h-1zM18 40h1v1h-1zM19 1h1v1h-1zM19 2h1v1h-1zM19 7h1v1h-1zM19 10h1v1h-1zM19 11h1v1h-1zM19 12h1v1h-1zM19 14h1v1h-1zM19 15h1v1h-1zM19 16h1v1h-1zM19 18h1v1h-1zM19 21h1v1h-1zM19 26h1v1h-1zM19 27h1v1h-1zM19 29h1v1h-1zM19 30h1v1h-1zM19 34h1v1h-1zM19 38h1v1h-1zM19 40h1v1h-1zM19 41h1v1h-1zM19 42h1v1h-1zM20 0h1v1h-1zM20 3h1v1h-1zM20 9h1v1h-1zM20 10h1v1h-1zM20 13h1v1h-1zM20 16h1v1h-1zM20 17h1v1h-1zM20 18h1v1h-1zM20 19h1v1h-1zM20 20h1v1h-1zM20 25h1v1h-1zM20 29h1v1h-1zM20 31h1v1h-1zM20 32h1v1h-1zM20 36h1v1h-1zM20 39h1v1h-1zM20 40h1v1h-1zM20 42h1v1h-1zM21 0h1v1h-1zM21 9h1v1h-1zM21 11h1v1h-1zM21 12h1v1h-1zM21 13h1v1h-1zM21 16h1v1h-1zM21 21h1v1h-1zM21 24h1v1h-1zM21 28h1v1h-1zM21 30h1v1h-1zM21 31h1v1h-1zM21 33h1v1h-1zM21 36h1v1h-1zM21 37h1v1h-1zM21 39h1v1h-1zM21 40h1v1h-1zM22 1h1v1h-1zM22 2h1v1h-1zM22 3h1v1h-1zM22 4h1v1h-1zM22 5h1v1h-1zM22 8h1v1h-1zM22 9h1v1h-1zM22 14h1v1h-1zM22 15h1v1h-1zM22 16h1v1h-1zM22 17h1v1h-1zM22 24h1v1h-1zM22 27h1v1h-1zM22 29h1v1h-1zM22 30h1v1h-1zM22 31h1v1h-1zM22 32h1v1h-1zM22 35h1v1h-1zM22 38h1v1h-1zM23 0h1v1h-1zM23 3h1v1h-1zM23 4h1v1h-1zM23 6h1v1h-1zM23 7h1v1h-1zM23 10h1v1h-1zM23 12h1v1h-1zM23 13h1v1h-1zM23 19h1v1h-1zM23 24h1v1h-1zM23 26h1v1h-1zM23 30h1v1h-1zM23 35h1v1h-1zM23 37h1v1h-1zM23 42h1v1h-1zM24 0h1v1h-1zM24 3h1v1h-1zM24 4h1v1h-1zM24 5h1v1h-1zM24 7h1v1h-1zM24 9h1v1h-1zM24 10h1v1h-1zM24 18h1v1h-1zM24 20h1v1h-1zM24 21h1v1h-1zM24 23h1v1h-1zM24 25h1v1h-1zM24 32h1v1h-1zM24 35h1v1h-1zM24 36h1v1h-1zM24 40h1v1h-1zM24 42h1v1h-1zM25 2h1v1h-1zM25 4h1v1h-1zM25 7h1v1h-1zM25 9h1v1h-1zM25 12h1v1h-1zM25 13h1v1h-1zM25 15h1v1h-1zM25 17h1v1h-1zM25 18h1v1h-1zM25 21h1v1h-1zM25 23h1v1h-1zM25 30h1v1h-1zM25 32h1v1h-1zM25 41h1v1h-1zM25 42h1v1h-1zM26 0h1v1h-1zM26 2h1v1h-1zM26 9h1v1h-1zM26 13h1v1h-1zM26 15h1v1h-1zM26 17h1v1h-1zM26 18h1v1h-1zM26 19h1v1h-1zM26 22h1v1h-1zM26 23h1v1h-1zM26 25h1v1h-1zM26 26h1v1h-1zM26 28h1v1h-1zM26 31h1v1h-1zM26 32h1v1h-1zM26 34h1v1h-1zM26 37h1v1h-1zM26 39h1v1h-1zM27 3h1v1h-1zM27 4h1v1h-1zM27 6h1v1h-1zM27 8h1v1h-1zM27 12h1v1h-1zM27 13h1v1h-1zM27 14h1v1h-1zM27 15h1v1h-1zM27 17h1v1h-1zM27 26h1v1h-1zM27 29h1v1h-1zM27 30h1v1h-1zM27 31h1v1h-1zM27 34h1v1h-1zM27 35h1v1h-1zM27 37h1v1h-1zM27 39h1v1h-1zM27 40h1v1h-1zM28 4h1v1h-1zM28 7h1v1h-1zM28 8h1v1h-1zM28 9h1v1h-1zM28 11h1v1h-1zM28 13h1v1h-1zM28 18h1v1h-1zM28 27h1v1h-1zM28 30h1v1h-1zM28 31h1v1h-1zM28 34h1v1h-1zM28 35h1v1h-1zM28 38h1v1h-1zM28 41h1v1h-1zM28 42h1v1h-1zM29 1h1v1h-1zM29 3h1v1h-1zM29 4h1v1h-1zM29 5h1v1h-1zM29 7h1v1h-1zM29 8h1v1h-1zM29 10h1v1h-1zM29 13h1v1h-1zM29 14h1v1h-1zM29 16h1v1h-1zM29 19h1v1h-1zM29 23h1v1h-1zM29 28h1v1h-1zM29 29h1v1h-1zM29 30h1v1h-1zM29 32h1v1h-1zM29 33h1v1h-1zM29 34h1v1h-1zM29 38h1v1h-1zM29 39h1v1h-1zM29 42h1v1h-1zM30 3h1v1h-1zM30 5h1v1h-1zM30 6h1v1h-1zM30 8h1v1h-1zM30 9h1v1h-1zM30 10h1v1h-1zM30 11h1v1h-1zM30 12h1v1h-1zM30 14h1v1h-1zM30 16h1v1h-1zM30 19h1v1h-1zM30 20h1v1h-1zM30 22h1v1h-1zM30 25h1v1h-1zM30 26h1v1h-1zM30 32h1v1h-1zM30 33h1v1h-1zM30 38h1v1h-1zM30 41h1v1h-1zM30 42h1v1h-1zM31 0h1v1h-1zM31 3h1v1h-1zM31 4h1v1h-1zM31 6h1v1h-1zM31 14h1v1h-1zM31 19h1v1h-1zM31 24h1v1h-1zM31 30h1v1h-1zM31 31h1v1h-1zM31 32h1v1h-1zM31 35h1v1h-1zM31 36h1v1h-1zM31 37h1v1h-1zM31 39h1v1h-1zM31 40h1v1h-1zM31 41h1v1h-1zM32 1h1v1h-1zM32 6h1v1h-1zM32 10h1v1h-1zM32 16h1v1h-1zM32 17h1v1h-1zM32 27h1v1h-1zM32 32h1v1h-1zM32 33h1v1h-1zM32 35h1v1h-1zM32 38h1v1h-1zM32 42h1v1h-1zM33 0h1v1h-1zM33 3h1v1h-1zM33 6h1v1h-1zM33 10h1v1h-1zM33 15h1v1h-1zM33 16h1v1h-1zM33 19h1v1h-1zM33 24h1v1h-1zM33 27h1v1h-1zM33 31h1v1h-1zM33 33h1v1h-1zM33 36h1v1h-1zM33 39h1v1h-1zM34 3h1v1h-1zM34 5h1v1h-1zM34 7h1v1h-1zM34 14h1v1h-1zM34 16h1v1h-1zM34 18h1v1h-1zM34 21h1v1h-1zM34 22h1v1h-1zM34 23h1v1h-1zM34 24h1v1h-1zM34 26h1v1h-1zM34 27h1v1h-1zM34 28h1v1h-1zM34 32h1v1h-1zM34 34h1v1h-1zM34 39h1v1h-1zM35 1h1v1h-1zM35 4h1v1h-1zM35 7h1v1h-1zM35 13h1v1h-1zM35 14h1v1h-1zM35 18h1v1h-1zM35 20h1v1h-1zM35 21h1v1h-1zM35 25h1v1h-1zM35 27h1v1h-1zM35 28h1v1h-1zM35 29h1v1h-1zM35 33h1v1h-1zM35 41h1v1h-1zM36 1h1v1h-1zM36 4h1v1h-1zM36 6h1v1h-1zM36 9h1v1h-1zM36 15h1v1h-1zM36 17h1v1h-1zM36 18h1v1h-1zM36 19h1v1h-1zM36 21h1v1h-1zM36 22h1v1h-1zM36 25h1v1h-1zM36 26h1v1h-1zM36 27h1v1h-1zM36 28h1v1h-1zM36 33h1v1h-1zM36 34h1v1h-1zM36 36h1v1h-1zM36 40h1v1h-1zM37 0h1v1h-1zM37 1h1v1h-1zM37 3h1v1h-1zM37 7h1v1h-1zM37 10h1v1h-1zM37 11h1v1h-1zM37 12h1v1h-1zM37 13h1v1h-1zM37 17h1v1h-1zM37 20h1v1h-1zM37 21h1v1h-1zM37 23h1v1h-1zM37 24h1v1h-1zM37 25h1v1h-1zM37 29h1v1h-1zM37 31h1v1h-1zM37 33h1v1h-1zM37 34h1v1h-1zM37 37h1v1h-1zM37 38h1v1h-1zM37 39h1v1h-1zM37 41h1v1h-1zM37 42h1v1h-1zM38 1h1v1h-1zM38 2h1v1h-1zM38 3h1v1h-1zM38 11h1v1h-1zM38 16h1v1h-1zM38 19h1v1h-1zM38 21h1v1h-1zM38 22h1v1h-1zM38 23h1v1h-1zM38 24h1v1h-1zM38 26h1v1h-1zM38 27h1v1h-1zM38 31h1v1h-1zM38 32h1v1h-1zM38 33h1v1h-1zM38 34h1v1h-1zM38 35h1v1h-1zM38 37h1v1h-1zM38 38h1v1h-1zM38 39h1v1h-1zM38 41h1v1h-1zM38 42h1v1h-1zM39 0h1v1h-1zM39 1h1v1h-1zM39 3h1v1h-1zM39 5h1v1h-1zM39 6h1v1h-1zM39 9h1v1h-1zM39 11h1v1h-1zM39 15h1v1h-1zM39 21h1v1h-1zM39 23h1v1h-1zM39 24h1v1h-1zM39 26h1v1h-1zM39 29h1v1h-1zM39 32h1v1h-1zM39 34h1v1h-1zM39 35h1v1h-1zM39 36h1v1h-1zM39 38h1v1h-1zM39 42h1v1h-1zM40 1h1v1h-1zM40 4h1v1h-1zM40 5h1v1h-1zM40 7h1v1h-1zM40 8h1v1h-1zM40 10h1v1h-1zM40 11h1v1h-1zM40 21h1v1h-1zM40 25h1v1h-1zM40 27h1v1h-1zM40 31h1v1h-1zM40 32h1v1h-1zM40 33h1v1h-1zM40 34h1v1h-1zM40 35h1v1h-1zM40 36h1v1h-1zM40 37h1v1h-1zM40 39h1v1h-1zM40 42h1v1h-1zM41 1h1v1h-1zM41 2h1v1h-1zM41 3h1v1h-1zM41 4h1v1h-1zM41 7h1v1h-1zM41 8h1v1h-1zM41 9h1v1h-1zM41 13h1v1h-1zM41 16h1v1h-1zM41 17h1v1h-1zM41 19h1v1h-1zM41 21h1v1h-1zM41 24h1v1h-1zM41 25h1v1h-1zM41 30h1v1h-1zM41 31h1v1h-1zM41 32h1v1h-1zM41 34h1v1h-1zM41 39h1v1h-1zM41 40h1v1h-1zM41 42h1v1h-1zM42 1h1v1h-1zM42 3h1v1h-1zM42 7h1v1h-1zM42 8h1v1h-1zM42 9h1v1h-1zM42 10h1v1h-1zM42 14h1v1h-1zM42 15h1v1h-1zM42 18h1v1h-1zM42 20h1v1h-1zM42 28h1v1h-1zM42 29h1v1h-1zM42 31h1v1h-1zM42 38h1v1h-1zM42 41h1v1h-1zM43 0h1v1h-1zM43 2h1v1h-1zM43 5h1v1h-1zM43 6h1v1h-1zM43 9h1v1h-1zM43 12h1v1h-1zM43 16h1v1h-1zM43 19h1v1h-1zM43 20h1v1h-1zM43 25h1v1h-1zM43 26h1v1h-1zM43 28h1v1h-1zM43 32h1v1h-1zM43 34h1v1h-1zM43 35h1v1h-1zM43 36h1v1h-1zM43 39h1v1h-1zM43 41h1v1h-1zM44 0h1v1h-1zM44 8h1v1h-1zM44 9h1v1h-1zM44 10h1v1h-1zM44 14h1v1h-1zM44 16h1v1h-1zM44 17h1v1h-1zM44 18h1v1h-1zM44 20h1v1h-1zM44 23h1v1h-1zM44 24h1v1h-1zM44 25h1v1h-1zM44 26h1v1h-1zM44 27h1v1h-1zM44 28h1v1h-1zM44 31h1v1h-1zM44 32h1v1h-1zM44 37h1v1h-1zM44 41h1v1h-1zM45 0h1v1h-1zM45 6h1v1h-1zM45 14h1v1h-1zM45 16h1v1h-1zM45 17h1v1h-1zM45 20h1v1h-1zM45 21h1v1h-1zM45 22h1v1h-1zM45 23h1v1h-1zM45 29h1v1h-1zM45 34h1v1h-1zM45 38h1v1h-1zM45 39h1v1h-1zM45 41h1v1h-1zM45 42h1v1h-1zM46 0h1v1h-1zM46 1h1v1h-1zM46 2h1v1h-1zM46 3h1v1h-1zM46 4h1v1h-1zM46 5h1v1h-1zM46 8h1v1h-1zM46 12h1v1h-1zM46 14h1v1h-1zM46 17h1v1h-1zM46 18h1v1h-1zM46 20h1v1h-1zM46 23h1v1h-1zM46 26h1v1h-1zM46 29h1v1h-1zM46 31h1v1h-1zM46 38h1v1h-1zM46 42h1v1h-1z" fill="#000000" opacity="1"/></pattern>
<pattern id="dChi" width="41" height="53" patternUnits="userSpaceOnUse"><path d="M0 8h1v1h-1zM0 22h1v1h-1zM0 23h1v1h-1zM0 31h1v1h-1zM0 33h1v1h-1zM0 40h1v1h-1zM0 44h1v1h-1zM0 48h1v1h-1zM0 51h1v1h-1zM1 8h1v1h-1zM1 10h1v1h-1zM1 12h1v1h-1zM1 15h1v1h-1zM1 16h1v1h-1zM1 20h1v1h-1zM1 36h1v1h-1zM1 38h1v1h-1zM1 49h1v1h-1zM2 19h1v1h-1zM2 21h1v1h-1zM2 34h1v1h-1zM2 37h1v1h-1zM3 5h1v1h-1zM3 11h1v1h-1zM3 25h1v1h-1zM3 27h1v1h-1zM3 28h1v1h-1zM3 33h1v1h-1zM3 50h1v1h-1zM3 52h1v1h-1zM4 8h1v1h-1zM4 16h1v1h-1zM4 28h1v1h-1zM4 33h1v1h-1zM4 39h1v1h-1zM4 43h1v1h-1zM5 7h1v1h-1zM5 11h1v1h-1zM5 24h1v1h-1zM5 32h1v1h-1zM5 41h1v1h-1zM5 43h1v1h-1zM5 47h1v1h-1zM5 48h1v1h-1zM5 51h1v1h-1zM5 52h1v1h-1zM6 2h1v1h-1zM6 4h1v1h-1zM6 8h1v1h-1zM6 12h1v1h-1zM6 14h1v1h-1zM6 18h1v1h-1zM6 29h1v1h-1zM6 31h1v1h-1zM6 37h1v1h-1zM6 47h1v1h-1zM6 51h1v1h-1zM7 3h1v1h-1zM7 5h1v1h-1zM7 15h1v1h-1zM7 25h1v1h-1zM7 26h1v1h-1zM7 32h1v1h-1zM7 36h1v1h-1zM7 39h1v1h-1zM7 49h1v1h-1zM8 6h1v1h-1zM8 28h1v1h-1zM8 37h1v1h-1zM9 11h1v1h-1zM9 33h1v1h-1zM9 35h1v1h-1zM9 43h1v1h-1zM9 47h1v1h-1zM9 48h1v1h-1zM10 1h1v1h-1zM10 2h1v1h-1zM10 4h1v1h-1zM10 25h1v1h-1zM10 31h1v1h-1zM10 35h1v1h-1zM10 52h1v1h-1zM11 10h1v1h-1zM11 15h1v1h-1zM11 16h1v1h-1zM11 31h1v1h-1zM11 33h1v1h-1zM11 37h1v1h-1zM11 38h1v1h-1zM11 50h1v1h-1zM12 0h1v1h-1zM12 5h1v1h-1zM12 7h1v1h-1zM12 16h1v1h-1zM12 18h1v1h-1zM12 23h1v1h-1zM12 38h1v1h-1zM12 42h1v1h-1zM12 49h1v1h-1zM13 0h1v1h-1zM13 1h1v1h-1zM13 17h1v1h-1zM13 18h1v1h-1zM13 20h1v1h-1zM13 28h1v1h-1zM13 35h1v1h-1zM13 47h1v1h-1zM14 4h1v1h-1zM14 8h1v1h-1zM14 11h1v1h-1zM14 12h1v1h-1zM14 18h1v1h-1zM14 27h1v1h-1zM14 28h1v1h-1zM14 29h1v1h-1zM14 35h1v1h-1zM14 37h1v1h-1zM14 42h1v1h-1zM14 43h1v1h-1zM14 49h1v1h-1zM15 4h1v1h-1zM15 8h1v1h-1zM15 11h1v1h-1zM15 18h1v1h-1zM15 20h1v1h-1zM15 30h1v1h-1zM15 31h1v1h-1zM15 37h1v1h-1zM15 41h1v1h-1zM15 45h1v1h-1zM16 0h1v1h-1zM16 18h1v1h-1zM16 27h1v1h-1zM16 28h1v1h-1zM16 38h1v1h-1zM16 41h1v1h-1zM16 48h1v1h-1zM16 50h1v1h-1zM17 1h1v1h-1zM17 19h1v1h-1zM17 21h1v1h-1zM17 29h1v1h-1zM17 35h1v1h-1zM17 39h1v1h-1zM17 41h1v1h-1zM17 46h1v1h-1zM17 52h1v1h-1zM18 8h1v1h-1zM18 15h1v1h-1zM18 16h1v1h-1zM18 17h1v1h-1zM18 20h1v1h-1zM18 32h1v1h-1zM18 48h1v1h-1zM19 3h1v1h-1zM19 23h1v1h-1zM19 27h1v1h-1zM19 39h1v1h-1zM19 44h1v1h-1zM20 0h1v1h-1zM20 6h1v1h-1zM20 9h1v1h-1zM20 29h1v1h-1zM20 30h1v1h-1zM20 32h1v1h-1zM20 44h1v1h-1zM21 23h1v1h-1zM21 32h1v1h-1zM22 0h1v1h-1zM22 7h1v1h-1zM22 9h1v1h-1zM22 10h1v1h-1zM22 12h1v1h-1zM22 18h1v1h-1zM22 19h1v1h-1zM22 23h1v1h-1zM22 25h1v1h-1zM22 26h1v1h-1zM22 27h1v1h-1zM22 34h1v1h-1zM22 38h1v1h-1zM22 51h1v1h-1zM23 7h1v1h-1zM23 12h1v1h-1zM23 17h1v1h-1zM23 29h1v1h-1zM23 30h1v1h-1zM23 35h1v1h-1zM23 46h1v1h-1zM24 15h1v1h-1zM24 28h1v1h-1zM24 34h1v1h-1zM24 38h1v1h-1zM25 1h1v1h-1zM25 9h1v1h-1zM25 10h1v1h-1zM25 16h1v1h-1zM25 25h1v1h-1zM25 31h1v1h-1zM25 33h1v1h-1zM25 44h1v1h-1zM26 1h1v1h-1zM26 7h1v1h-1zM26 14h1v1h-1zM26 20h1v1h-1zM26 30h1v1h-1zM27 6h1v1h-1zM27 8h1v1h-1zM27 20h1v1h-1zM27 30h1v1h-1zM27 31h1v1h-1zM27 36h1v1h-1zM27 38h1v1h-1zM27 45h1v1h-1zM27 47h1v1h-1zM27 49h1v1h-1zM27 50h1v1h-1zM27 52h1v1h-1zM28 0h1v1h-1zM28 4h1v1h-1zM28 8h1v1h-1zM28 9h1v1h-1zM28 14h1v1h-1zM28 16h1v1h-1zM28 18h1v1h-1zM28 19h1v1h-1zM28 33h1v1h-1zM28 35h1v1h-1zM28 43h1v1h-1zM28 50h1v1h-1zM29 4h1v1h-1zM29 10h1v1h-1zM29 12h1v1h-1zM29 17h1v1h-1zM29 26h1v1h-1zM29 30h1v1h-1zM29 32h1v1h-1zM29 33h1v1h-1zM29 34h1v1h-1zM29 43h1v1h-1zM29 46h1v1h-1zM30 5h1v1h-1zM30 13h1v1h-1zM30 18h1v1h-1zM30 19h1v1h-1zM30 23h1v1h-1zM30 26h1v1h-1zM30 30h1v1h-1zM30 40h1v1h-1zM30 46h1v1h-1zM30 47h1v1h-1zM31 10h1v1h-1zM31 11h1v1h-1zM31 14h1v1h-1zM31 17h1v1h-1zM31 38h1v1h-1zM31 42h1v1h-1zM31 46h1v1h-1zM31 52h1v1h-1zM32 1h1v1h-1zM32 9h1v1h-1zM32 13h1v1h-1zM32 31h1v1h-1zM32 39h1v1h-1zM32 40h1v1h-1zM32 49h1v1h-1zM33 1h1v1h-1zM33 11h1v1h-1zM33 13h1v1h-1zM33 15h1v1h-1zM33 17h1v1h-1zM33 21h1v1h-1zM33 27h1v1h-1zM33 38h1v1h-1zM33 45h1v1h-1zM33 50h1v1h-1zM34 3h1v1h-1zM34 4h1v1h-1zM34 12h1v1h-1zM34 27h1v1h-1zM34 30h1v1h-1zM34 35h1v1h-1zM34 45h1v1h-1zM35 0h1v1h-1zM35 2h1v1h-1zM35 11h1v1h-1zM35 12h1v1h-1zM35 14h1v1h-1zM35 17h1v1h-1zM35 18h1v1h-1zM35 19h1v1h-1zM35 23h1v1h-1zM35 27h1v1h-1zM35 32h1v1h-1zM35 33h1v1h-1zM35 36h1v1h-1zM35 37h1v1h-1zM35 38h1v1h-1zM35 39h1v1h-1zM35 43h1v1h-1zM35 45h1v1h-1zM35 49h1v1h-1zM35 51h1v1h-1zM36 18h1v1h-1zM36 21h1v1h-1zM36 25h1v1h-1zM36 32h1v1h-1zM36 33h1v1h-1zM36 37h1v1h-1zM36 38h1v1h-1zM36 40h1v1h-1zM37 2h1v1h-1zM37 15h1v1h-1zM37 16h1v1h-1zM37 19h1v1h-1zM37 26h1v1h-1zM37 28h1v1h-1zM37 39h1v1h-1zM37 41h1v1h-1zM37 48h1v1h-1zM38 8h1v1h-1zM38 15h1v1h-1zM38 30h1v1h-1zM38 31h1v1h-1zM38 33h1v1h-1zM38 35h1v1h-1zM38 50h1v1h-1zM39 5h1v1h-1zM39 9h1v1h-1zM39 10h1v1h-1zM39 12h1v1h-1zM39 14h1v1h-1zM39 15h1v1h-1zM39 16h1v1h-1zM39 26h1v1h-1zM39 35h1v1h-1zM39 40h1v1h-1zM39 41h1v1h-1zM39 43h1v1h-1zM39 50h1v1h-1zM40 10h1v1h-1zM40 29h1v1h-1zM40 39h1v1h-1zM40 40h1v1h-1zM40 43h1v1h-1zM40 48h1v1h-1zM40 50h1v1h-1z" fill="#58c860" opacity="1"/></pattern>
</defs>
<rect x="0" y="0" width="788" height="933" fill="#ffffff" stroke="none" stroke-width="1"/>
<rect x="127.2" y="190.91" width="5.76" height="3.39" fill="#18bbb9" stroke="#3f6f72" stroke-width="0.7"/>
<rect x="133.96" y="173.95" width="5.76" height="20.35" fill="#18bbb9" stroke="#3f6f72" stroke-width="0.7"/>
<rect x="140.72" y="142.57" width="5.76" height="51.73" fill="#18bbb9" stroke="#3f6f72" stroke-width="0.7"/>
<rect x="147.48" y="110.35" width="5.76" height="83.95" fill="#18bbb9" stroke="#3f6f72" stroke-width="0.7"/>
<rect x="154.24" y="90.84" width="5.76" height="103.46" fill="#18bbb9" stroke="#3f6f72" stroke-width="0.7"/>
<rect x="161" y="82.36" width="5.76" height="111.94" fill="#18bbb9" stroke="#3f6f72" stroke-width="0.7"/>
<rect x="167.76" y="78.97" width="5.76" height="115.33" fill="#18bbb9" stroke="#3f6f72" stroke-width="0.7"/>
<rect x="174.52" y="82.36" width="5.76" height="111.94" fill="#18bbb9" stroke="#3f6f72" stroke-width="0.7"/>
<rect x="181.28" y="96.78" width="5.76" height="97.52" fill="#18bbb9" stroke="#3f6f72" stroke-width="0.7"/>
<rect x="188.04" y="123.07" width="5.76" height="71.23" fill="#18bbb9" stroke="#3f6f72" stroke-width="0.7"/>
<rect x="194.8" y="149.36" width="5.76" height="44.94" fill="#18bbb9" stroke="#3f6f72" stroke-width="0.7"/>
<rect x="201.56" y="170.56" width="5.76" height="23.74" fill="#18bbb9" stroke="#3f6f72" stroke-width="0.7"/>
<rect x="208.32" y="186.67" width="5.76" height="7.63" fill="#18bbb9" stroke="#3f6f72" stroke-width="0.7"/>
<rect x="215.08" y="193.03" width="5.76" height="1.27" fill="#18bbb9" stroke="#3f6f72" stroke-width="0.7"/>
<polyline points="42,192.63 43,192.59 44,192.55 45,192.51 46,192.47 47,192.43 48,192.39 49,192.34 50,192.3 51,192.25 52,192.21 53,192.16 54,192.1 55,192.05 56,192 57,191.94 58,191.88 59,191.82 60,191.76 61,191.7 62,191.63 63,191.56 64,191.49 65,191.42 66,191.35 67,191.27 68,191.19 69,191.11 70,191.02 71,190.93 72,190.84 73,190.75 74,190.65 75,190.54 76,190.44 77,190.33 78,190.22 79,190.1 80,189.98 81,189.85 82,189.72 83,189.58 84,189.44 85,189.29 86,189.14 87,188.98 88,188.82 89,188.65 90,188.47 91,188.28 92,188.09 93,187.89 94,187.68 95,187.46 96,187.24 97,187 98,186.75 99,186.5 100,186.23 101,185.95 102,185.66 103,185.36 104,185.04 105,184.71 106,184.36 107,184 108,183.62 109,183.23 110,182.81 111,182.38 112,181.93 113,181.45 114,180.96 115,180.44 116,179.9 117,179.33 118,178.73 119,178.11 120,177.45 121,176.76 122,176.04 123,175.29 124,174.5 125,173.67 126,172.8 127,171.88 128,170.92 129,169.92 130,168.87 131,167.76 132,166.6 133,165.38 134,164.11 135,162.77 136,161.37 137,159.91 138,158.37 139,156.76 140,155.08 141,153.32 142,151.48 143,149.56 144,147.56 145,145.47 146,143.3 147,141.03 148,138.68 149,136.24 150,133.71 151,131.09 152,128.39 153,125.61 154,122.74 155,119.8 156,116.79 157,113.72 158,110.6 159,107.44 160,104.24 161,101.04 162,97.83 163,94.65 164,91.51 165,88.43 166,85.44 167,82.58 168,79.86 169,77.31 170,74.99 171,72.91 172,71.11 173,69.64 174,68.53 175,67.81 176,67.53 177,67.76 178,68.64 179,70.21 180,72.48 181,75.49 182,79.23 183,83.68 184,88.82 185,94.58 186,100.91 187,107.7 188,114.86 189,122.27 190,129.79 191,137.3 192,144.65 193,151.72 194,158.4 195,164.58 196,170.18 197,175.14 198,179.45 199,183.09 200,186.09 201,188.49 202,190.35 203,191.74 204,192.74 205,193.43 206,193.88 207,194.15 208,194.3 209,194.3 210,194.3" fill="none" stroke="#3a3fb8" stroke-width="1.1" stroke-linejoin="round" stroke-linecap="round"/>
<rect x="42" y="24.7" width="211.7" height="169.6" fill="none" stroke="#3a3a3a" stroke-width="1.05"/>
<line x1="38.8" y1="194.3" x2="42" y2="194.3" stroke="#3a3a3a" stroke-width="1"/>
<text x="37" y="196.6" font-family='"Liberation Serif", "Times New Roman", serif' font-size="6.8" font-weight="normal" fill="#2a2a2a" text-anchor="end">0</text>
<line x1="38.8" y1="151.9" x2="42" y2="151.9" stroke="#3a3a3a" stroke-width="1"/>
<text x="37" y="154.2" font-family='"Liberation Serif", "Times New Roman", serif' font-size="6.8" font-weight="normal" fill="#2a2a2a" text-anchor="end">5</text>
<line x1="38.8" y1="109.5" x2="42" y2="109.5" stroke="#3a3a3a" stroke-width="1"/>
<text x="37" y="111.8" font-family='"Liberation Serif", "Times New Roman", serif' font-size="6.8" font-weight="normal" fill="#2a2a2a" text-anchor="end">10</text>
<line x1="38.8" y1="67.1" x2="42" y2="67.1" stroke="#3a3a3a" stroke-width="1"/>
<text x="37" y="69.4" font-family='"Liberation Serif", "Times New Roman", serif' font-size="6.8" font-weight="normal" fill="#2a2a2a" text-anchor="end">15</text>
<line x1="38.8" y1="24.7" x2="42" y2="24.7" stroke="#3a3a3a" stroke-width="1"/>
<text x="37" y="27" font-family='"Liberation Serif", "Times New Roman", serif' font-size="6.8" font-weight="normal" fill="#2a2a2a" text-anchor="end">20</text>
<line x1="40.2" y1="173.1" x2="42" y2="173.1" stroke="#3a3a3a" stroke-width="0.8"/>
<line x1="40.2" y1="130.7" x2="42" y2="130.7" stroke="#3a3a3a" stroke-width="0.8"/>
<line x1="40.2" y1="88.3" x2="42" y2="88.3" stroke="#3a3a3a" stroke-width="0.8"/>
<line x1="40.2" y1="45.9" x2="42" y2="45.9" stroke="#3a3a3a" stroke-width="0.8"/>
<text x="42" y="205.7" font-family='"Liberation Serif", "Times New Roman", serif' font-size="7" font-weight="normal" fill="#2a2a2a" text-anchor="middle">10</text>
<text x="147.85" y="205.7" font-family='"Liberation Serif", "Times New Roman", serif' font-size="7" font-weight="normal" fill="#2a2a2a" text-anchor="middle">100</text>
<text x="253.7" y="205.7" font-family='"Liberation Serif", "Times New Roman", serif' font-size="7" font-weight="normal" fill="#2a2a2a" text-anchor="middle">1000</text>
<text x="26" y="112.4" font-family='"Liberation Sans", Arial, sans-serif' font-size="11.3" font-weight="normal" fill="#2a2a2a" text-anchor="middle" transform="rotate(-90 26 112.4)">Intensity(%)</text>
<text x="148" y="222.2" font-family='"Liberation Sans", Arial, sans-serif' font-size="11.5" font-weight="normal" fill="#2a2a2a" text-anchor="middle">Size(nm)</text>
<text x="54.5" y="45" font-family='"Liberation Sans", Arial, sans-serif' font-size="17.5" font-weight="bold" fill="#111" text-anchor="start">(a)</text>
<rect x="269" y="19" width="252" height="204" fill="#f9f9f9" stroke="none" stroke-width="1"/>
<rect x="297.8" y="25" width="215.1" height="167.8" fill="#fcfcfc" stroke="none" stroke-width="1"/>
<rect x="383.6" y="189.43" width="5.86" height="3.37" fill="#f2f07e" stroke="#5c5a3a" stroke-width="0.7"/>
<rect x="390.46" y="176.06" width="5.86" height="16.74" fill="#f2f07e" stroke="#5c5a3a" stroke-width="0.7"/>
<rect x="397.32" y="153.36" width="5.86" height="39.44" fill="#f2f07e" stroke="#5c5a3a" stroke-width="0.7"/>
<rect x="404.18" y="130.27" width="5.86" height="62.53" fill="#f2f07e" stroke="#5c5a3a" stroke-width="0.7"/>
<rect x="411.04" y="114.4" width="5.86" height="78.4" fill="#f2f07e" stroke="#5c5a3a" stroke-width="0.7"/>
<rect x="417.9" y="104.3" width="5.86" height="88.5" fill="#f2f07e" stroke="#5c5a3a" stroke-width="0.7"/>
<rect x="424.76" y="95.64" width="5.86" height="97.16" fill="#f2f07e" stroke="#5c5a3a" stroke-width="0.7"/>
<rect x="431.62" y="86.98" width="5.86" height="105.82" fill="#f2f07e" stroke="#5c5a3a" stroke-width="0.7"/>
<rect x="438.48" y="88.9" width="5.86" height="103.9" fill="#f2f07e" stroke="#5c5a3a" stroke-width="0.7"/>
<rect x="445.34" y="100.45" width="5.86" height="92.35" fill="#f2f07e" stroke="#5c5a3a" stroke-width="0.7"/>
<rect x="452.2" y="115.84" width="5.86" height="76.96" fill="#f2f07e" stroke="#5c5a3a" stroke-width="0.7"/>
<rect x="459.06" y="133.64" width="5.86" height="59.16" fill="#f2f07e" stroke="#5c5a3a" stroke-width="0.7"/>
<rect x="465.92" y="152.4" width="5.86" height="40.4" fill="#f2f07e" stroke="#5c5a3a" stroke-width="0.7"/>
<rect x="472.78" y="170.67" width="5.86" height="22.13" fill="#f2f07e" stroke="#5c5a3a" stroke-width="0.7"/>
<rect x="479.64" y="184.14" width="5.86" height="8.66" fill="#f2f07e" stroke="#5c5a3a" stroke-width="0.7"/>
<rect x="486.5" y="190.88" width="5.86" height="1.92" fill="#f2f07e" stroke="#5c5a3a" stroke-width="0.7"/>
<polyline points="297.8,190.15 298.8,190.12 299.8,190.08 300.8,190.04 301.8,190 302.8,189.96 303.8,189.92 304.8,189.87 305.8,189.83 306.8,189.79 307.8,189.74 308.8,189.69 309.8,189.64 310.8,189.59 311.8,189.54 312.8,189.49 313.8,189.43 314.8,189.38 315.8,189.32 316.8,189.26 317.8,189.2 318.8,189.13 319.8,189.07 320.8,189 321.8,188.94 322.8,188.87 323.8,188.79 324.8,188.72 325.8,188.64 326.8,188.56 327.8,188.48 328.8,188.4 329.8,188.31 330.8,188.22 331.8,188.13 332.8,188.04 333.8,187.94 334.8,187.84 335.8,187.74 336.8,187.63 337.8,187.52 338.8,187.41 339.8,187.29 340.8,187.17 341.8,187.05 342.8,186.92 343.8,186.78 344.8,186.65 345.8,186.5 346.8,186.36 347.8,186.21 348.8,186.05 349.8,185.89 350.8,185.72 351.8,185.55 352.8,185.37 353.8,185.18 354.8,184.99 355.8,184.79 356.8,184.59 357.8,184.37 358.8,184.15 359.8,183.92 360.8,183.69 361.8,183.44 362.8,183.19 363.8,182.92 364.8,182.65 365.8,182.36 366.8,182.06 367.8,181.76 368.8,181.44 369.8,181.1 370.8,180.76 371.8,180.4 372.8,180.03 373.8,179.64 374.8,179.24 375.8,178.82 376.8,178.38 377.8,177.92 378.8,177.45 379.8,176.96 380.8,176.44 381.8,175.91 382.8,175.35 383.8,174.76 384.8,174.16 385.8,173.52 386.8,172.86 387.8,172.18 388.8,171.46 389.8,170.76 390.8,170.03 391.8,169.27 392.8,168.47 393.8,167.64 394.8,166.77 395.8,165.85 396.8,164.9 397.8,163.91 398.8,162.87 399.8,161.78 400.8,160.65 401.8,159.46 402.8,158.23 403.8,156.94 404.8,155.59 405.8,154.19 406.8,152.72 407.8,151.2 408.8,149.61 409.8,147.96 410.8,146.24 411.8,144.45 412.8,142.6 413.8,140.68 414.8,138.69 415.8,136.63 416.8,134.5 417.8,132.31 418.8,130.05 419.8,127.72 420.8,125.34 421.8,122.9 422.8,120.4 423.8,117.86 424.8,115.28 425.8,112.67 426.8,110.03 427.8,107.39 428.8,104.74 429.8,102.1 430.8,99.49 431.8,96.93 432.8,94.43 433.8,92.02 434.8,89.71 435.8,87.52 436.8,85.5 437.8,83.64 438.8,82 439.8,80.59 440.8,79.44 441.8,78.58 442.8,78.04 443.8,77.84 444.8,78.03 445.8,78.66 446.8,79.75 447.8,81.32 448.8,83.4 449.8,85.99 450.8,89.09 451.8,92.7 452.8,96.8 453.8,101.36 454.8,106.35 455.8,111.71 456.8,117.38 457.8,123.3 458.8,129.37 459.8,135.53 460.8,141.67 461.8,147.71 462.8,153.56 463.8,159.14 464.8,164.37 465.8,169.19 466.8,173.56 467.8,177.44 468.8,180.82 469.8,183.7 470.8,186.09 471.8,188.02 472.8,189.55 473.8,190.7 474.8,191.55 475.8,192.15 476.8,192.54 477.8,192.78" fill="none" stroke="#e8403a" stroke-width="1.1" stroke-linejoin="round" stroke-linecap="round"/>
<rect x="297.8" y="25" width="215.1" height="167.8" fill="none" stroke="#3a3a3a" stroke-width="1.05"/>
<line x1="294.6" y1="192.8" x2="297.8" y2="192.8" stroke="#3a3a3a" stroke-width="1"/>
<text x="292.8" y="195.1" font-family='"Liberation Serif", "Times New Roman", serif' font-size="6.8" font-weight="normal" fill="#2a2a2a" text-anchor="end">0</text>
<line x1="294.6" y1="144.7" x2="297.8" y2="144.7" stroke="#3a3a3a" stroke-width="1"/>
<text x="292.8" y="147" font-family='"Liberation Serif", "Times New Roman", serif' font-size="6.8" font-weight="normal" fill="#2a2a2a" text-anchor="end">5</text>
<line x1="294.6" y1="96.6" x2="297.8" y2="96.6" stroke="#3a3a3a" stroke-width="1"/>
<text x="292.8" y="98.9" font-family='"Liberation Serif", "Times New Roman", serif' font-size="6.8" font-weight="normal" fill="#2a2a2a" text-anchor="end">10</text>
<line x1="294.6" y1="48.5" x2="297.8" y2="48.5" stroke="#3a3a3a" stroke-width="1"/>
<text x="292.8" y="50.8" font-family='"Liberation Serif", "Times New Roman", serif' font-size="6.8" font-weight="normal" fill="#2a2a2a" text-anchor="end">15</text>
<line x1="296" y1="168.75" x2="297.8" y2="168.75" stroke="#3a3a3a" stroke-width="0.8"/>
<line x1="296" y1="120.65" x2="297.8" y2="120.65" stroke="#3a3a3a" stroke-width="0.8"/>
<line x1="296" y1="72.55" x2="297.8" y2="72.55" stroke="#3a3a3a" stroke-width="0.8"/>
<text x="297.8" y="202.3" font-family='"Liberation Serif", "Times New Roman", serif' font-size="6.8" font-weight="normal" fill="#2a2a2a" text-anchor="middle">10</text>
<text x="405.35" y="202.3" font-family='"Liberation Serif", "Times New Roman", serif' font-size="6.8" font-weight="normal" fill="#2a2a2a" text-anchor="middle">100</text>
<text x="512.9" y="202.3" font-family='"Liberation Serif", "Times New Roman", serif' font-size="6.8" font-weight="normal" fill="#2a2a2a" text-anchor="middle">1000</text>
<text x="280.6" y="108" font-family='"Liberation Sans", Arial, sans-serif' font-size="11.4" font-weight="normal" fill="#2a2a2a" text-anchor="middle" transform="rotate(-90 280.6 108)">Intensity(%)</text>
<text x="404.9" y="219" font-family='"Liberation Sans", Arial, sans-serif' font-size="11.5" font-weight="normal" fill="#2a2a2a" text-anchor="middle">Size(nm)</text>
<text x="308.5" y="44.5" font-family='"Liberation Sans", Arial, sans-serif' font-size="17.5" font-weight="bold" fill="#111" text-anchor="start">(b)</text>
<rect x="574.8" y="40.97" width="42.4" height="47.43" fill="none" stroke="#2a2ac8" stroke-width="1.45"/>
<line x1="596" y1="38.18" x2="596" y2="43.76" stroke="#2a2ac8" stroke-width="1"/>
<line x1="594.2" y1="38.18" x2="597.8" y2="38.18" stroke="#2a2ac8" stroke-width="1"/>
<line x1="594.2" y1="43.76" x2="597.8" y2="43.76" stroke="#2a2ac8" stroke-width="1"/>
<rect x="627.8" y="48.72" width="42.5" height="39.68" fill="none" stroke="#f3cb90" stroke-width="1.15"/>
<line x1="649.05" y1="47.17" x2="649.05" y2="50.27" stroke="#f3cb90" stroke-width="1"/>
<line x1="647.25" y1="47.17" x2="650.85" y2="47.17" stroke="#f3cb90" stroke-width="1"/>
<line x1="647.25" y1="50.27" x2="650.85" y2="50.27" stroke="#f3cb90" stroke-width="1"/>
<rect x="680.7" y="88.4" width="42.5" height="83.39" fill="none" stroke="#f5f08c" stroke-width="1.2"/>
<line x1="701.95" y1="169.93" x2="701.95" y2="173.65" stroke="#f5f08c" stroke-width="1"/>
<line x1="700.15" y1="169.93" x2="703.75" y2="169.93" stroke="#f5f08c" stroke-width="1"/>
<line x1="700.15" y1="173.65" x2="703.75" y2="173.65" stroke="#f5f08c" stroke-width="1"/>
<rect x="733.3" y="88.4" width="42.7" height="3.1" fill="none" stroke="#e23b3b" stroke-width="1.2"/>
<line x1="754.65" y1="89.95" x2="754.65" y2="93.05" stroke="#e23b3b" stroke-width="1"/>
<line x1="752.85" y1="89.95" x2="756.45" y2="89.95" stroke="#e23b3b" stroke-width="1"/>
<line x1="752.85" y1="93.05" x2="756.45" y2="93.05" stroke="#e23b3b" stroke-width="1"/>
<line x1="569.9" y1="88.4" x2="781.4" y2="88.4" stroke="#222" stroke-width="1.3"/>
<rect x="569.9" y="26.4" width="211.5" height="170.6" fill="none" stroke="#3a3a3a" stroke-width="1.05"/>
<line x1="566.7" y1="26.4" x2="569.9" y2="26.4" stroke="#3a3a3a" stroke-width="1"/>
<text x="565.3" y="29.2" font-family='"Liberation Serif", "Times New Roman", serif' font-size="8.4" font-weight="bold" fill="#222" text-anchor="end">20</text>
<line x1="566.7" y1="57.4" x2="569.9" y2="57.4" stroke="#3a3a3a" stroke-width="1"/>
<text x="565.3" y="60.2" font-family='"Liberation Serif", "Times New Roman", serif' font-size="8.4" font-weight="bold" fill="#222" text-anchor="end">10</text>
<line x1="566.7" y1="88.4" x2="569.9" y2="88.4" stroke="#3a3a3a" stroke-width="1"/>
<text x="565.3" y="91.2" font-family='"Liberation Serif", "Times New Roman", serif' font-size="8.4" font-weight="bold" fill="#222" text-anchor="end">0</text>
<line x1="566.7" y1="119.4" x2="569.9" y2="119.4" stroke="#3a3a3a" stroke-width="1"/>
<text x="565.3" y="122.2" font-family='"Liberation Serif", "Times New Roman", serif' font-size="8.4" font-weight="bold" fill="#222" text-anchor="end">-10</text>
<line x1="566.7" y1="150.4" x2="569.9" y2="150.4" stroke="#3a3a3a" stroke-width="1"/>
<text x="565.3" y="153.2" font-family='"Liberation Serif", "Times New Roman", serif' font-size="8.4" font-weight="bold" fill="#222" text-anchor="end">-20</text>
<line x1="566.7" y1="181.4" x2="569.9" y2="181.4" stroke="#3a3a3a" stroke-width="1"/>
<text x="565.3" y="184.2" font-family='"Liberation Serif", "Times New Roman", serif' font-size="8.4" font-weight="bold" fill="#222" text-anchor="end">-30</text>
<line x1="568.1" y1="41.9" x2="569.9" y2="41.9" stroke="#3a3a3a" stroke-width="0.8"/>
<line x1="568.1" y1="72.9" x2="569.9" y2="72.9" stroke="#3a3a3a" stroke-width="0.8"/>
<line x1="568.1" y1="103.9" x2="569.9" y2="103.9" stroke="#3a3a3a" stroke-width="0.8"/>
<line x1="568.1" y1="134.9" x2="569.9" y2="134.9" stroke="#3a3a3a" stroke-width="0.8"/>
<line x1="568.1" y1="165.9" x2="569.9" y2="165.9" stroke="#3a3a3a" stroke-width="0.8"/>
<line x1="568.1" y1="196.9" x2="569.9" y2="196.9" stroke="#3a3a3a" stroke-width="0.8"/>
<text x="596" y="208.7" font-family='"Liberation Sans", Arial, sans-serif' font-size="9" font-weight="normal" fill="#2a2a2a" text-anchor="middle">ZIF-8</text>
<line x1="596" y1="197" x2="596" y2="199.8" stroke="#3a3a3a" stroke-width="0.9"/>
<text x="649.05" y="208.7" font-family='"Liberation Sans", Arial, sans-serif' font-size="9" font-weight="normal" fill="#2a2a2a" text-anchor="middle">AZ</text>
<line x1="649.05" y1="197" x2="649.05" y2="199.8" stroke="#3a3a3a" stroke-width="0.9"/>
<text x="701.95" y="208.7" font-family='"Liberation Sans", Arial, sans-serif' font-size="9" font-weight="normal" fill="#2a2a2a" text-anchor="middle">HAZ</text>
<line x1="701.95" y1="197" x2="701.95" y2="199.8" stroke="#3a3a3a" stroke-width="0.9"/>
<text x="754.65" y="208.7" font-family='"Liberation Sans", Arial, sans-serif' font-size="9" font-weight="normal" fill="#2a2a2a" text-anchor="middle">AIPH</text>
<line x1="754.65" y1="197" x2="754.65" y2="199.8" stroke="#3a3a3a" stroke-width="0.9"/>
<line x1="622.6" y1="197" x2="622.6" y2="198.8" stroke="#3a3a3a" stroke-width="0.8"/>
<line x1="675.5" y1="197" x2="675.5" y2="198.8" stroke="#3a3a3a" stroke-width="0.8"/>
<line x1="728.2" y1="197" x2="728.2" y2="198.8" stroke="#3a3a3a" stroke-width="0.8"/>
<text x="549" y="110.6" font-family='"Liberation Sans", Arial, sans-serif' font-size="10.55" font-weight="normal" fill="#2a2a2a" text-anchor="middle" transform="rotate(-90 549 110.6)">Zeta potenial(mV)</text>
<g clip-path="url(#clipC)">
<rect x="44.7" y="261.6" width="189.1" height="189.4" fill="url(#temBg)" stroke="none" stroke-width="1"/>
<rect x="44.7" y="261.6" width="189.1" height="189.4" fill="#808080" stroke="none" stroke-width="1" filter="url(#grain)" opacity="0.13"/>
<path d="M117.87 316.85 L130.05 323.96 L142.23 335.53 L143.25 348.73 L140.41 362.94 L132.08 374.11 L109.75 381.62 L99.59 378.17 L82.34 363.96 L79.7 354.82 L81.93 340.61 L85.99 328.43 L96.55 321.32Z" fill="none" stroke="#cfcfcf" stroke-width="6" stroke-linejoin="round" filter="url(#blur2)" opacity="0.7"/>
<path d="M175.74 330.05 L186.9 336.55 L202.13 352.39 L203.35 360.91 L200.1 375.13 L195.63 386.29 L181.83 393.4 L162.54 395.63 L151.37 389.34 L138.78 374.11 L137.97 360.91 L140.81 348.73 L146.29 338.58 L159.49 332.49Z" fill="none" stroke="#cfcfcf" stroke-width="6" stroke-linejoin="round" filter="url(#blur2)" opacity="0.7"/>
<path d="M117.87 316.85 L130.05 323.96 L142.23 335.53 L143.25 348.73 L140.41 362.94 L132.08 374.11 L109.75 381.62 L99.59 378.17 L82.34 363.96 L79.7 354.82 L81.93 340.61 L85.99 328.43 L96.55 321.32Z" fill="none" stroke="#f6f6f6" stroke-width="2.8" stroke-linejoin="round" filter="url(#blur1)" opacity="0.95"/>
<path d="M175.74 330.05 L186.9 336.55 L202.13 352.39 L203.35 360.91 L200.1 375.13 L195.63 386.29 L181.83 393.4 L162.54 395.63 L151.37 389.34 L138.78 374.11 L137.97 360.91 L140.81 348.73 L146.29 338.58 L159.49 332.49Z" fill="none" stroke="#f6f6f6" stroke-width="2.8" stroke-linejoin="round" filter="url(#blur1)" opacity="0.95"/>
<clipPath id="cpP0"><path d="M117.87 316.85 L130.05 323.96 L142.23 335.53 L143.25 348.73 L140.41 362.94 L132.08 374.11 L109.75 381.62 L99.59 378.17 L82.34 363.96 L79.7 354.82 L81.93 340.61 L85.99 328.43 L96.55 321.32Z"/></clipPath>
<path d="M117.87 316.85 L130.05 323.96 L142.23 335.53 L143.25 348.73 L140.41 362.94 L132.08 374.11 L109.75 381.62 L99.59 378.17 L82.34 363.96 L79.7 354.82 L81.93 340.61 L85.99 328.43 L96.55 321.32Z" fill="url(#p1g)" stroke="#444" stroke-width="1.0" stroke-linejoin="round" filter="url(#blur1)"/>
<g clip-path="url(#cpP0)"><path d="M117.87 316.85 L130.05 323.96 L142.23 335.53 L143.25 348.73 L140.41 362.94 L132.08 374.11 L109.75 381.62 L99.59 378.17 L82.34 363.96 L79.7 354.82 L81.93 340.61 L85.99 328.43 L96.55 321.32Z" fill="none" stroke="#6a6a6a" stroke-width="7" stroke-linejoin="round" filter="url(#blur2)" opacity="0.55"/></g>
<clipPath id="cpP1"><path d="M175.74 330.05 L186.9 336.55 L202.13 352.39 L203.35 360.91 L200.1 375.13 L195.63 386.29 L181.83 393.4 L162.54 395.63 L151.37 389.34 L138.78 374.11 L137.97 360.91 L140.81 348.73 L146.29 338.58 L159.49 332.49Z"/></clipPath>
<path d="M175.74 330.05 L186.9 336.55 L202.13 352.39 L203.35 360.91 L200.1 375.13 L195.63 386.29 L181.83 393.4 L162.54 395.63 L151.37 389.34 L138.78 374.11 L137.97 360.91 L140.81 348.73 L146.29 338.58 L159.49 332.49Z" fill="url(#p2g)" stroke="#444" stroke-width="1.0" stroke-linejoin="round" filter="url(#blur1)"/>
<g clip-path="url(#cpP1)"><path d="M175.74 330.05 L186.9 336.55 L202.13 352.39 L203.35 360.91 L200.1 375.13 L195.63 386.29 L181.83 393.4 L162.54 395.63 L151.37 389.34 L138.78 374.11 L137.97 360.91 L140.81 348.73 L146.29 338.58 L159.49 332.49Z" fill="none" stroke="#6a6a6a" stroke-width="7" stroke-linejoin="round" filter="url(#blur2)" opacity="0.55"/></g>
<line x1="56.5" y1="439.2" x2="105.6" y2="439.2" stroke="#f4f4f4" stroke-width="1.6"/>
<text x="56.5" y="433.5" font-family='"DejaVu Sans Mono", "Liberation Mono", monospace' font-size="20" font-weight="normal" fill="#f2f2f2" text-anchor="start" textLength="73.5" lengthAdjust="spacingAndGlyphs">200 nm</text>
</g>
<polyline points="297.7,307.14 297.95,307.14 298.2,307.14 298.45,307.14 298.7,307.13 298.95,307.13 299.2,307.12 299.45,307.11 299.7,307.11 299.95,307.1 300.2,307.09 300.45,307.08 300.7,307.07 300.95,307.05 301.2,307.04 301.45,307.02 301.7,307 301.95,306.98 302.2,306.96 302.45,306.93 302.7,306.9 302.95,306.86 303.2,306.82 303.45,306.78 303.7,306.73 303.95,306.67 304.2,306.6 304.45,306.52 304.7,306.42 304.95,306.31 305.2,306.18 305.45,306.03 305.7,305.84 305.95,305.61 306.2,305.32 306.45,304.95 306.7,304.47 306.95,303.81 307.2,302.87 307.45,301.41 307.7,298.98 307.95,294.56 308.2,286.12 308.45,273.49 308.7,271.46 308.95,283.74 309.2,293.27 309.45,298.32 309.7,301.05 309.95,302.66 310.2,303.7 310.45,304.41 310.7,304.93 310.95,305.33 311.2,305.64 311.45,305.88 311.7,306.09 311.95,306.26 312.2,306.4 312.45,306.52 312.7,306.62 312.95,306.71 313.2,306.79 313.45,306.86 313.7,306.92 313.95,306.98 314.2,307.02 314.45,307.07 314.7,307.1 314.95,307.14 315.2,307.17 315.45,307.2 315.7,307.22 315.95,307.25 316.2,307.27 316.45,307.29 316.7,307.31 316.95,307.32 317.2,307.34 317.45,307.35 317.7,307.36 317.95,307.37 318.2,307.38 318.45,307.39 318.7,307.39 318.95,307.4 319.2,307.4 319.45,307.4 319.7,307.4 319.95,307.4 320.2,307.4 320.45,307.39 320.7,307.38 320.95,307.37 321.2,307.36 321.45,307.34 321.7,307.31 321.95,307.28 322.2,307.23 322.45,307.18 322.7,307.1 322.95,306.99 323.2,306.83 323.45,306.58 323.7,306.15 323.95,305.31 324.2,303.55 324.45,300.82 324.7,301.13 324.95,303.86 325.2,305.47 325.45,306.25 325.7,306.66 325.95,306.9 326.2,307.06 326.45,307.17 326.7,307.26 326.95,307.32 327.2,307.37 327.45,307.41 327.7,307.44 327.95,307.47 328.2,307.49 328.45,307.51 328.7,307.53 328.95,307.54 329.2,307.55 329.45,307.55 329.7,307.56 329.95,307.56 330.2,307.56 330.45,307.56 330.7,307.55 330.95,307.54 331.2,307.53 331.45,307.52 331.7,307.5 331.95,307.48 332.2,307.45 332.45,307.42 332.7,307.38 332.95,307.34 333.2,307.28 333.45,307.21 333.7,307.13 333.95,307.02 334.2,306.89 334.45,306.71 334.7,306.47 334.95,306.13 335.2,305.62 335.45,304.76 335.7,303.16 335.95,299.89 336.2,293.67 336.45,290.37 336.7,296.51 336.95,301.53 337.2,303.97 337.45,305.2 337.7,305.91 337.95,306.35 338.2,306.65 338.45,306.87 338.7,307.04 338.95,307.17 339.2,307.28 339.45,307.37 339.7,307.44 339.95,307.51 340.2,307.56 340.45,307.6 340.7,307.65 340.95,307.68 341.2,307.71 341.45,307.74 341.7,307.76 341.95,307.78 342.2,307.8 342.45,307.81 342.7,307.83 342.95,307.84 343.2,307.84 343.45,307.85 343.7,307.85 343.95,307.85 344.2,307.85 344.45,307.84 344.7,307.83 344.95,307.8 345.2,307.76 345.45,307.7 345.7,307.59 345.95,307.39 346.2,306.98 346.45,306.15 346.7,305.43 346.95,306.2 347.2,307.03 347.45,307.44 347.7,307.65 347.95,307.77 348.2,307.85 348.45,307.9 348.7,307.93 348.95,307.96 349.2,307.99 349.45,308.01 349.7,308.02 349.95,308.03 350.2,308.04 350.45,308.05 350.7,308.06 350.95,308.06 351.2,308.07 351.45,308.07 351.7,308.07 351.95,308.06 352.2,308.06 352.45,308.05 352.7,308.04 352.95,308.02 353.2,308 353.45,307.97 353.7,307.93 353.95,307.87 354.2,307.77 354.45,307.61 354.7,307.33 354.95,306.74 355.2,305.58 355.45,304.56 355.7,305.62 355.95,306.77 356.2,307.35 356.45,307.64 356.7,307.8 356.95,307.9 357.2,307.96 357.45,308.01 357.7,308.04 357.95,308.07 358.2,308.09 358.45,308.1 358.7,308.11 358.95,308.11 359.2,308.11 359.45,308.11 359.7,308.11 359.95,308.1 360.2,308.08 360.45,308.06 360.7,308.04 360.95,308 361.2,307.96 361.45,307.9 361.7,307.82 361.95,307.72 362.2,307.57 362.45,307.34 362.7,306.97 362.95,306.29 363.2,304.9 363.45,302.15 363.7,300.01 363.95,302.58 364.2,305.15 364.45,306.41 364.7,307.05 364.95,307.4 365.2,307.61 365.45,307.76 365.7,307.86 365.95,307.93 366.2,307.98 366.45,308.01 366.7,308.03 366.95,308.04 367.2,308.02 367.45,307.99 367.7,307.91 367.95,307.75 368.2,307.43 368.45,306.74 368.7,305.59 368.95,305.55 369.2,306.73 369.45,307.48 369.7,307.85 369.95,308.05 370.2,308.16 370.45,308.24 370.7,308.3 370.95,308.34 371.2,308.38 371.45,308.41 371.7,308.44 371.95,308.46 372.2,308.48 372.45,308.49 372.7,308.51 372.95,308.52 373.2,308.54 373.45,308.55 373.7,308.56 373.95,308.57 374.2,308.58 374.45,308.59 374.7,308.6 374.95,308.61 375.2,308.61 375.45,308.62 375.7,308.63 375.95,308.64 376.2,308.64 376.45,308.65 376.7,308.66 376.95,308.66 377.2,308.67 377.45,308.67 377.7,308.68 377.95,308.68 378.2,308.69 378.45,308.69 378.7,308.7 378.95,308.7 379.2,308.71 379.45,308.71 379.7,308.71 379.95,308.72 380.2,308.72 380.45,308.72 380.7,308.72 380.95,308.73 381.2,308.73 381.45,308.73 381.7,308.73 381.95,308.72 382.2,308.72 382.45,308.71 382.7,308.7 382.95,308.69 383.2,308.67 383.45,308.64 383.7,308.59 383.95,308.49 384.2,308.31 384.45,307.92 384.7,307.34 384.95,307.48 385.2,308.07 385.45,308.4 385.7,308.56 385.95,308.65 386.2,308.7 386.45,308.74 386.7,308.76 386.95,308.79 387.2,308.8 387.45,308.82 387.7,308.83 387.95,308.84 388.2,308.85 388.45,308.86 388.7,308.87 388.95,308.87 389.2,308.88 389.45,308.89 389.7,308.89 389.95,308.9 390.2,308.9 390.45,308.91 390.7,308.91 390.95,308.91 391.2,308.92 391.45,308.92 391.7,308.92 391.95,308.93 392.2,308.93 392.45,308.93 392.7,308.93 392.95,308.93 393.2,308.93 393.45,308.93 393.7,308.92 393.95,308.92 394.2,308.91 394.45,308.9 394.7,308.89 394.95,308.87 395.2,308.85 395.45,308.82 395.7,308.77 395.95,308.69 396.2,308.57 396.45,308.34 396.7,307.85 396.95,306.93 397.2,306.47 397.45,307.39 397.7,308.12 397.95,308.47 398.2,308.66 398.45,308.76 398.7,308.82 398.95,308.87 399.2,308.9 399.45,308.92 399.7,308.94 399.95,308.95 400.2,308.96 400.45,308.96 400.7,308.96 400.95,308.95 401.2,308.94 401.45,308.91 401.7,308.86 401.95,308.77 402.2,308.6 402.45,308.23 402.7,307.65 402.95,307.72 403.2,308.3 403.45,308.65 403.7,308.82 403.95,308.91 404.2,308.96 404.45,308.99 404.7,309.01 404.95,309.03 405.2,309.03 405.45,309.04 405.7,309.04 405.95,309.03 406.2,309.02 406.45,309 406.7,308.97 406.95,308.92 407.2,308.85 407.45,308.72 407.7,308.5 407.95,308.04 408.2,307.09 408.45,306.12 408.7,306.89 408.95,307.94 409.2,308.48 409.45,308.75 409.7,308.89 409.95,308.99 410.2,309.05 410.45,309.1 410.7,309.13 410.95,309.16 411.2,309.19 411.45,309.21 411.7,309.23 411.95,309.24 412.2,309.26 412.45,309.27 412.7,309.28 412.95,309.29 413.2,309.3 413.45,309.31 413.7,309.32 413.95,309.33 414.2,309.33 414.45,309.34 414.7,309.35 414.95,309.35 415.2,309.36 415.45,309.36 415.7,309.37 415.95,309.38 416.2,309.38 416.45,309.38 416.7,309.39 416.95,309.39 417.2,309.4 417.45,309.4 417.7,309.4 417.95,309.41 418.2,309.41 418.45,309.41 418.7,309.41 418.95,309.41 419.2,309.42 419.45,309.42 419.7,309.41 419.95,309.41 420.2,309.41 420.45,309.4 420.7,309.4 420.95,309.39 421.2,309.38 421.45,309.36 421.7,309.33 421.95,309.3 422.2,309.24 422.45,309.14 422.7,308.96 422.95,308.58 423.2,307.85 423.45,307.46 423.7,308.18 423.95,308.77 424.2,309.06 424.45,309.21 424.7,309.29 424.95,309.34 425.2,309.37 425.45,309.4 425.7,309.41 425.95,309.42 426.2,309.43 426.45,309.43 426.7,309.42 426.95,309.41 427.2,309.38 427.45,309.34 427.7,309.25 427.95,309.07 428.2,308.68 428.45,308.11 428.7,308.22 428.95,308.8 429.2,309.14 429.45,309.31 429.7,309.39 429.95,309.44 430.2,309.48 430.45,309.5 430.7,309.51 430.95,309.52 431.2,309.52 431.45,309.52 431.7,309.51 431.95,309.48 432.2,309.44 432.45,309.34 432.7,309.14 432.95,308.73 433.2,308.42 433.45,308.81 433.7,309.2 433.95,309.39 434.2,309.49 434.45,309.55 434.7,309.58 434.95,309.6 435.2,309.62 435.45,309.63 435.7,309.63 435.95,309.63 436.2,309.62 436.45,309.6 436.7,309.57 436.95,309.5 437.2,309.37 437.45,309.08 437.7,308.62 437.95,308.66 438.2,309.13 438.45,309.42 438.7,309.56 438.95,309.64 439.2,309.69 439.45,309.72 439.7,309.74 439.95,309.76 440.2,309.78 440.45,309.79 440.7,309.8 440.95,309.82 441.2,309.82 441.45,309.83 441.7,309.84 441.95,309.84 442.2,309.85 442.45,309.85 442.7,309.85 442.95,309.85 443.2,309.85 443.45,309.86 443.7,309.86 443.95,309.86 444.2,309.86 444.45,309.86 444.7,309.86 444.95,309.86 445.2,309.86 445.45,309.86 445.7,309.86 445.95,309.85 446.2,309.85 446.45,309.85 446.7,309.85 446.95,309.85 447.2,309.84 447.45,309.84 447.7,309.83 447.95,309.83 448.2,309.82 448.45,309.81 448.7,309.8 448.95,309.78 449.2,309.76 449.45,309.73 449.7,309.67 449.95,309.57 450.2,309.36 450.45,308.95 450.7,308.62 450.95,309.01 451.2,309.39 451.45,309.58 451.7,309.68 451.95,309.73 452.2,309.76 452.45,309.79 452.7,309.8 452.95,309.81 453.2,309.82 453.45,309.83 453.7,309.83 453.95,309.84 454.2,309.84 454.45,309.84 454.7,309.85 454.95,309.85 455.2,309.85 455.45,309.85 455.7,309.85 455.95,309.85 456.2,309.84 456.45,309.84 456.7,309.84 456.95,309.83 457.2,309.82 457.45,309.81 457.7,309.79 457.95,309.77 458.2,309.71 458.45,309.6 458.7,309.39 458.95,309.25 459.2,309.45 459.45,309.63 459.7,309.72 459.95,309.77 460.2,309.79 460.45,309.81 460.7,309.81 460.95,309.82 461.2,309.82 461.45,309.81 461.7,309.81 461.95,309.79 462.2,309.76 462.45,309.7 462.7,309.57 462.95,309.38 463.2,309.43 463.45,309.62 463.7,309.73 463.95,309.78 464.2,309.81 464.45,309.83 464.7,309.84 464.95,309.85 465.2,309.85 465.45,309.86 465.7,309.86 465.95,309.87 466.2,309.87 466.45,309.87 466.7,309.87 466.95,309.88 467.2,309.88 467.45,309.88 467.7,309.88 467.95,309.88 468.2,309.88 468.45,309.88 468.7,309.88 468.95,309.88 469.2,309.88 469.45,309.88 469.7,309.89 469.95,309.89 470.2,309.89 470.45,309.89 470.7,309.89 470.95,309.89 471.2,309.89 471.45,309.89 471.7,309.89 471.95,309.89 472.2,309.89 472.45,309.89 472.7,309.89 472.95,309.89 473.2,309.89 473.45,309.89 473.7,309.89 473.95,309.89 474.2,309.89 474.45,309.89 474.7,309.89 474.95,309.89 475.2,309.89 475.45,309.89 475.7,309.89 475.95,309.89 476.2,309.89 476.45,309.89 476.7,309.89 476.95,309.89 477.2,309.89 477.45,309.89 477.7,309.89 477.95,309.89 478.2,309.89 478.45,309.89 478.7,309.89 478.95,309.89 479.2,309.89 479.45,309.89 479.7,309.89 479.95,309.89 480.2,309.89 480.45,309.89 480.7,309.89 480.95,309.89 481.2,309.89 481.45,309.89 481.7,309.88 481.95,309.88 482.2,309.88 482.45,309.88 482.7,309.88 482.95,309.88 483.2,309.87 483.45,309.87 483.7,309.87 483.95,309.86 484.2,309.85 484.45,309.84 484.7,309.82 484.95,309.79 485.2,309.72 485.45,309.59 485.7,309.48 485.95,309.6 486.2,309.73 486.45,309.79 486.7,309.83 486.95,309.84 487.2,309.86 487.45,309.86 487.7,309.87 487.95,309.87 488.2,309.88 488.45,309.88 488.7,309.88 488.95,309.88 489.2,309.88 489.45,309.88 489.7,309.89 489.95,309.89 490.2,309.89 490.45,309.89 490.7,309.89 490.95,309.89 491.2,309.89 491.45,309.89 491.7,309.89 491.95,309.89 492.2,309.89 492.45,309.89 492.7,309.89 492.95,309.89 493.2,309.89 493.45,309.89 493.7,309.89 493.95,309.89 494.2,309.89 494.45,309.89 494.7,309.89 494.95,309.89 495.2,309.89 495.45,309.89 495.7,309.89 495.95,309.89 496.2,309.89 496.45,309.89 496.7,309.89 496.95,309.89 497.2,309.89 497.45,309.89 497.7,309.89 497.95,309.89 498.2,309.89 498.45,309.89 498.7,309.89 498.95,309.89 499.2,309.89 499.45,309.89 499.7,309.89 499.95,309.89 500.2,309.88 500.45,309.88 500.7,309.88 500.95,309.88 501.2,309.88 501.45,309.87 501.7,309.87 501.95,309.86 502.2,309.86 502.45,309.85 502.7,309.83 502.95,309.8 503.2,309.73 503.45,309.6 503.7,309.48 503.95,309.59 504.2,309.72 504.45,309.79 504.7,309.83 504.95,309.85 505.2,309.86 505.45,309.86 505.7,309.87 505.95,309.87 506.2,309.88 506.45,309.88 506.7,309.88 506.95,309.88 507.2,309.89 507.45,309.89 507.7,309.89 507.95,309.89 508.2,309.89 508.45,309.89 508.7,309.89 508.95,309.89 509.2,309.89 509.45,309.89 509.7,309.89 509.95,309.89 510.2,309.89 510.45,309.89 510.7,309.89 510.95,309.89 511.2,309.89 511.45,309.89 511.7,309.89 511.95,309.89 512.2,309.89 512.45,309.9 512.7,309.9 512.95,309.9 513.2,309.9 513.45,309.9 513.7,309.9 513.95,309.9 514.2,309.9 514.45,309.9 514.7,309.9 514.95,309.9 515.2,309.9 515.45,309.9 515.7,309.9 515.95,309.9 516.2,309.9 516.45,309.9 516.7,309.9 516.95,309.9 517.2,309.9 517.45,309.9 517.7,309.9 517.95,309.9 518.2,309.9 518.45,309.9 518.7,309.9 518.95,309.9 519.2,309.9 519.45,309.9 519.7,309.9 519.95,309.9 520.2,309.9 520.45,309.9 520.7,309.9 520.95,309.9 521.2,309.9 521.45,309.9 521.7,309.9 521.95,309.9 522.2,309.9 522.45,309.9 522.7,309.9 522.95,309.9 523.2,309.9 523.45,309.9 523.7,309.9 523.95,309.9 524.2,309.9 524.45,309.9 524.7,309.9 524.95,309.9 525.2,309.9 525.45,309.9 525.7,309.9 525.95,309.9 526.2,309.9 526.45,309.9 526.7,309.9 526.95,309.9 527.2,309.9 527.45,309.9 527.7,309.9 527.95,309.9" fill="none" stroke="#3d79d6" stroke-width="1" stroke-linejoin="round" stroke-linecap="round"/>
<polyline points="297.7,376.54 297.95,376.53 298.2,376.52 298.45,376.51 298.7,376.5 298.95,376.49 299.2,376.48 299.45,376.46 299.7,376.45 299.95,376.43 300.2,376.41 300.45,376.39 300.7,376.37 300.95,376.35 301.2,376.32 301.45,376.29 301.7,376.25 301.95,376.21 302.2,376.17 302.45,376.12 302.7,376.07 302.95,376.01 303.2,375.94 303.45,375.86 303.7,375.77 303.95,375.67 304.2,375.55 304.45,375.41 304.7,375.25 304.95,375.07 305.2,374.85 305.45,374.58 305.7,374.27 305.95,373.88 306.2,373.4 306.45,372.78 306.7,371.98 306.95,370.88 307.2,369.29 307.45,366.87 307.7,362.82 307.95,355.44 308.2,341.37 308.45,320.31 308.7,316.93 308.95,337.4 309.2,353.28 309.45,361.69 309.7,366.24 309.95,368.92 310.2,370.65 310.45,371.83 310.7,372.7 310.95,373.35 311.2,373.86 311.45,374.27 311.7,374.61 311.95,374.89 312.2,375.12 312.45,375.32 312.7,375.49 312.95,375.64 313.2,375.77 313.45,375.88 313.7,375.98 313.95,376.07 314.2,376.15 314.45,376.21 314.7,376.28 314.95,376.33 315.2,376.38 315.45,376.42 315.7,376.46 315.95,376.5 316.2,376.53 316.45,376.56 316.7,376.59 316.95,376.61 317.2,376.64 317.45,376.66 317.7,376.67 317.95,376.69 318.2,376.7 318.45,376.71 318.7,376.72 318.95,376.73 319.2,376.73 319.45,376.74 319.7,376.73 319.95,376.73 320.2,376.73 320.45,376.72 320.7,376.7 320.95,376.69 321.2,376.66 321.45,376.63 321.7,376.59 321.95,376.55 322.2,376.48 322.45,376.4 322.7,376.29 322.95,376.13 323.2,375.91 323.45,375.55 323.7,374.93 323.95,373.72 324.2,371.22 324.45,367.31 324.7,367.75 324.95,371.65 325.2,373.95 325.45,375.06 325.7,375.65 325.95,375.99 326.2,376.22 326.45,376.37 326.7,376.49 326.95,376.58 327.2,376.65 327.45,376.7 327.7,376.75 327.95,376.78 328.2,376.81 328.45,376.84 328.7,376.85 328.95,376.87 329.2,376.88 329.45,376.89 329.7,376.89 329.95,376.89 330.2,376.89 330.45,376.88 330.7,376.87 330.95,376.86 331.2,376.84 331.45,376.81 331.7,376.78 331.95,376.75 332.2,376.71 332.45,376.65 332.7,376.59 332.95,376.52 333.2,376.43 333.45,376.32 333.7,376.19 333.95,376.03 334.2,375.82 334.45,375.55 334.7,375.18 334.95,374.66 335.2,373.86 335.45,372.55 335.7,370.1 335.95,365.09 336.2,355.59 336.45,350.54 336.7,359.93 336.95,367.6 337.2,371.32 337.45,373.21 337.7,374.29 337.95,374.96 338.2,375.42 338.45,375.76 338.7,376.01 338.95,376.21 339.2,376.37 339.45,376.51 339.7,376.62 339.95,376.71 340.2,376.79 340.45,376.86 340.7,376.92 340.95,376.97 341.2,377.01 341.45,377.05 341.7,377.09 341.95,377.12 342.2,377.14 342.45,377.16 342.7,377.18 342.95,377.2 343.2,377.21 343.45,377.21 343.7,377.22 343.95,377.22 344.2,377.21 344.45,377.2 344.7,377.18 344.95,377.14 345.2,377.09 345.45,377 345.7,376.85 345.95,376.57 346.2,375.99 346.45,374.82 346.7,373.82 346.95,374.89 347.2,376.05 347.45,376.63 347.7,376.92 347.95,377.09 348.2,377.19 348.45,377.26 348.7,377.31 348.95,377.35 349.2,377.38 349.45,377.41 349.7,377.43 349.95,377.44 350.2,377.46 350.45,377.47 350.7,377.48 350.95,377.48 351.2,377.48 351.45,377.49 351.7,377.48 351.95,377.48 352.2,377.47 352.45,377.46 352.7,377.44 352.95,377.42 353.2,377.39 353.45,377.35 353.7,377.3 353.95,377.22 354.2,377.09 354.45,376.89 354.7,376.52 354.95,375.77 355.2,374.27 355.45,372.96 355.7,374.31 355.95,375.8 356.2,376.54 356.45,376.91 356.7,377.12 356.95,377.24 357.2,377.32 357.45,377.38 357.7,377.42 357.95,377.45 358.2,377.47 358.45,377.48 358.7,377.49 358.95,377.49 359.2,377.49 359.45,377.48 359.7,377.47 359.95,377.45 360.2,377.43 360.45,377.39 360.7,377.35 360.95,377.29 361.2,377.22 361.45,377.13 361.7,377.01 361.95,376.85 362.2,376.61 362.45,376.26 362.7,375.68 362.95,374.61 363.2,372.44 363.45,368.15 363.7,364.81 363.95,368.83 364.2,372.84 364.45,374.82 364.7,375.82 364.95,376.37 365.2,376.72 365.45,376.95 365.7,377.12 365.95,377.25 366.2,377.35 366.45,377.43 366.7,377.49 366.95,377.55 367.2,377.59 367.45,377.62 367.7,377.63 367.95,377.63 368.2,377.59 368.45,377.48 368.7,377.27 368.95,377.28 369.2,377.53 369.45,377.7 369.7,377.78 369.95,377.84 370.2,377.87 370.45,377.9 370.7,377.92 370.95,377.94 371.2,377.96 371.45,377.97 371.7,377.98 371.95,378 372.2,378.01 372.45,378.02 372.7,378.03 372.95,378.04 373.2,378.05 373.45,378.06 373.7,378.06 373.95,378.07 374.2,378.08 374.45,378.09 374.7,378.09 374.95,378.1 375.2,378.11 375.45,378.11 375.7,378.12 375.95,378.13 376.2,378.13 376.45,378.14 376.7,378.14 376.95,378.15 377.2,378.15 377.45,378.16 377.7,378.16 377.95,378.17 378.2,378.17 378.45,378.17 378.7,378.18 378.95,378.18 379.2,378.19 379.45,378.19 379.7,378.19 379.95,378.19 380.2,378.19 380.45,378.19 380.7,378.2 380.95,378.19 381.2,378.19 381.45,378.19 381.7,378.19 381.95,378.18 382.2,378.17 382.45,378.16 382.7,378.15 382.95,378.12 383.2,378.09 383.45,378.04 383.7,377.96 383.95,377.82 384.2,377.55 384.45,376.97 384.7,376.13 384.95,376.33 385.2,377.18 385.45,377.67 385.7,377.9 385.95,378.03 386.2,378.11 386.45,378.16 386.7,378.19 386.95,378.22 387.2,378.25 387.45,378.26 387.7,378.28 387.95,378.29 388.2,378.3 388.45,378.31 388.7,378.32 388.95,378.33 389.2,378.34 389.45,378.35 389.7,378.35 389.95,378.36 390.2,378.36 390.45,378.36 390.7,378.37 390.95,378.37 391.2,378.37 391.45,378.37 391.7,378.37 391.95,378.37 392.2,378.37 392.45,378.37 392.7,378.37 392.95,378.36 393.2,378.36 393.45,378.35 393.7,378.34 393.95,378.33 394.2,378.31 394.45,378.29 394.7,378.26 394.95,378.23 395.2,378.18 395.45,378.12 395.7,378.03 395.95,377.9 396.2,377.67 396.45,377.24 396.7,376.37 396.95,374.72 397.2,373.88 397.45,375.52 397.7,376.83 397.95,377.47 398.2,377.8 398.45,377.98 398.7,378.09 398.95,378.17 399.2,378.22 399.45,378.26 399.7,378.29 399.95,378.31 400.2,378.32 400.45,378.32 400.7,378.32 400.95,378.31 401.2,378.29 401.45,378.25 401.7,378.18 401.95,378.05 402.2,377.79 402.45,377.24 402.7,376.38 402.95,376.48 403.2,377.34 403.45,377.84 403.7,378.08 403.95,378.21 404.2,378.28 404.45,378.32 404.7,378.34 404.95,378.36 405.2,378.36 405.45,378.35 405.7,378.34 405.95,378.31 406.2,378.28 406.45,378.23 406.7,378.15 406.95,378.04 407.2,377.88 407.45,377.6 407.7,377.11 407.95,376.1 408.2,374.05 408.45,371.92 408.7,373.6 408.95,375.86 409.2,377.02 409.45,377.6 409.7,377.91 409.95,378.11 410.2,378.24 410.45,378.34 410.7,378.41 410.95,378.47 411.2,378.51 411.45,378.55 411.7,378.59 411.95,378.62 412.2,378.64 412.45,378.66 412.7,378.68 412.95,378.7 413.2,378.71 413.45,378.73 413.7,378.74 413.95,378.75 414.2,378.76 414.45,378.77 414.7,378.78 414.95,378.79 415.2,378.8 415.45,378.8 415.7,378.81 415.95,378.82 416.2,378.82 416.45,378.83 416.7,378.83 416.95,378.84 417.2,378.84 417.45,378.84 417.7,378.84 417.95,378.85 418.2,378.85 418.45,378.85 418.7,378.85 418.95,378.84 419.2,378.84 419.45,378.84 419.7,378.83 419.95,378.82 420.2,378.81 420.45,378.8 420.7,378.78 420.95,378.76 421.2,378.73 421.45,378.69 421.7,378.64 421.95,378.56 422.2,378.44 422.45,378.24 422.7,377.86 422.95,377.1 423.2,375.64 423.45,374.85 423.7,376.29 423.95,377.47 424.2,378.05 424.45,378.34 424.7,378.5 424.95,378.6 425.2,378.66 425.45,378.71 425.7,378.74 425.95,378.76 426.2,378.76 426.45,378.76 426.7,378.75 426.95,378.73 427.2,378.68 427.45,378.59 427.7,378.44 427.95,378.12 428.2,377.46 428.45,376.46 428.7,376.65 428.95,377.66 429.2,378.24 429.45,378.52 429.7,378.67 429.95,378.75 430.2,378.81 430.45,378.84 430.7,378.86 430.95,378.87 431.2,378.87 431.45,378.86 431.7,378.84 431.95,378.79 432.2,378.7 432.45,378.52 432.7,378.14 432.95,377.39 433.2,376.81 433.45,377.53 433.7,378.24 433.95,378.59 434.2,378.76 434.45,378.86 434.7,378.92 434.95,378.96 435.2,378.98 435.45,378.99 435.7,379 435.95,378.99 436.2,378.97 436.45,378.94 436.7,378.87 436.95,378.75 437.2,378.5 437.45,377.96 437.7,377.11 437.95,377.18 438.2,378.05 438.45,378.57 438.7,378.83 438.95,378.96 439.2,379.05 439.45,379.1 439.7,379.14 439.95,379.18 440.2,379.2 440.45,379.22 440.7,379.24 440.95,379.26 441.2,379.27 441.45,379.28 441.7,379.29 441.95,379.3 442.2,379.3 442.45,379.31 442.7,379.31 442.95,379.31 443.2,379.32 443.45,379.32 443.7,379.32 443.95,379.32 444.2,379.32 444.45,379.32 444.7,379.32 444.95,379.32 445.2,379.32 445.45,379.32 445.7,379.32 445.95,379.32 446.2,379.32 446.45,379.31 446.7,379.31 446.95,379.3 447.2,379.3 447.45,379.29 447.7,379.28 447.95,379.27 448.2,379.26 448.45,379.24 448.7,379.22 448.95,379.19 449.2,379.14 449.45,379.08 449.7,378.98 449.95,378.79 450.2,378.41 450.45,377.65 450.7,377.06 450.95,377.76 451.2,378.47 451.45,378.82 451.7,378.99 451.95,379.09 452.2,379.15 452.45,379.19 452.7,379.22 452.95,379.24 453.2,379.25 453.45,379.27 453.7,379.28 453.95,379.28 454.2,379.29 454.45,379.3 454.7,379.3 454.95,379.3 455.2,379.3 455.45,379.3 455.7,379.3 455.95,379.3 456.2,379.29 456.45,379.29 456.7,379.28 456.95,379.27 457.2,379.25 457.45,379.23 457.7,379.19 457.95,379.14 458.2,379.03 458.45,378.81 458.7,378.39 458.95,378.1 459.2,378.5 459.45,378.87 459.7,379.05 459.95,379.14 460.2,379.19 460.45,379.21 460.7,379.23 460.95,379.24 461.2,379.24 461.45,379.23 461.7,379.21 461.95,379.18 462.2,379.12 462.45,379 462.7,378.74 462.95,378.36 463.2,378.45 463.45,378.84 463.7,379.06 463.95,379.17 464.2,379.22 464.45,379.26 464.7,379.28 464.95,379.3 465.2,379.31 465.45,379.32 465.7,379.33 465.95,379.34 466.2,379.34 466.45,379.35 466.7,379.35 466.95,379.35 467.2,379.36 467.45,379.36 467.7,379.36 467.95,379.36 468.2,379.36 468.45,379.37 468.7,379.37 468.95,379.37 469.2,379.37 469.45,379.37 469.7,379.37 469.95,379.37 470.2,379.37 470.45,379.38 470.7,379.38 470.95,379.38 471.2,379.38 471.45,379.38 471.7,379.38 471.95,379.38 472.2,379.38 472.45,379.38 472.7,379.38 472.95,379.38 473.2,379.38 473.45,379.38 473.7,379.38 473.95,379.38 474.2,379.38 474.45,379.38 474.7,379.38 474.95,379.38 475.2,379.38 475.45,379.38 475.7,379.38 475.95,379.38 476.2,379.38 476.45,379.38 476.7,379.38 476.95,379.38 477.2,379.38 477.45,379.38 477.7,379.38 477.95,379.38 478.2,379.38 478.45,379.38 478.7,379.38 478.95,379.38 479.2,379.38 479.45,379.38 479.7,379.38 479.95,379.38 480.2,379.38 480.45,379.38 480.7,379.38 480.95,379.38 481.2,379.37 481.45,379.37 481.7,379.37 481.95,379.37 482.2,379.37 482.45,379.36 482.7,379.36 482.95,379.36 483.2,379.35 483.45,379.35 483.7,379.34 483.95,379.33 484.2,379.31 484.45,379.29 484.7,379.25 484.95,379.18 485.2,379.05 485.45,378.78 485.7,378.55 485.95,378.8 486.2,379.06 486.45,379.19 486.7,379.25 486.95,379.29 487.2,379.31 487.45,379.33 487.7,379.34 487.95,379.35 488.2,379.35 488.45,379.36 488.7,379.36 488.95,379.37 489.2,379.37 489.45,379.37 489.7,379.37 489.95,379.37 490.2,379.38 490.45,379.38 490.7,379.38 490.95,379.38 491.2,379.38 491.45,379.38 491.7,379.38 491.95,379.38 492.2,379.38 492.45,379.38 492.7,379.38 492.95,379.39 493.2,379.39 493.45,379.39 493.7,379.39 493.95,379.39 494.2,379.39 494.45,379.39 494.7,379.39 494.95,379.39 495.2,379.39 495.45,379.39 495.7,379.39 495.95,379.39 496.2,379.39 496.45,379.39 496.7,379.39 496.95,379.39 497.2,379.39 497.45,379.39 497.7,379.39 497.95,379.39 498.2,379.39 498.45,379.39 498.7,379.38 498.95,379.38 499.2,379.38 499.45,379.38 499.7,379.38 499.95,379.38 500.2,379.38 500.45,379.38 500.7,379.37 500.95,379.37 501.2,379.37 501.45,379.37 501.7,379.36 501.95,379.35 502.2,379.34 502.45,379.33 502.7,379.31 502.95,379.27 503.2,379.19 503.45,379.03 503.7,378.87 503.95,379.01 504.2,379.18 504.45,379.26 504.7,379.31 504.95,379.33 505.2,379.34 505.45,379.35 505.7,379.36 505.95,379.37 506.2,379.37 506.45,379.37 506.7,379.38 506.95,379.38 507.2,379.38 507.45,379.38 507.7,379.38 507.95,379.38 508.2,379.39 508.45,379.39 508.7,379.39 508.95,379.39 509.2,379.39 509.45,379.39 509.7,379.39 509.95,379.39 510.2,379.39 510.45,379.39 510.7,379.39 510.95,379.39 511.2,379.39 511.45,379.39 511.7,379.39 511.95,379.39 512.2,379.39 512.45,379.39 512.7,379.39 512.95,379.39 513.2,379.39 513.45,379.39 513.7,379.39 513.95,379.39 514.2,379.39 514.45,379.39 514.7,379.39 514.95,379.39 515.2,379.39 515.45,379.39 515.7,379.39 515.95,379.39 516.2,379.39 516.45,379.39 516.7,379.39 516.95,379.39 517.2,379.39 517.45,379.39 517.7,379.39 517.95,379.4 518.2,379.4 518.45,379.4 518.7,379.4 518.95,379.4 519.2,379.4 519.45,379.4 519.7,379.4 519.95,379.4 520.2,379.4 520.45,379.4 520.7,379.4 520.95,379.4 521.2,379.4 521.45,379.4 521.7,379.4 521.95,379.4 522.2,379.4 522.45,379.4 522.7,379.4 522.95,379.4 523.2,379.4 523.45,379.4 523.7,379.4 523.95,379.4 524.2,379.4 524.45,379.4 524.7,379.4 524.95,379.4 525.2,379.4 525.45,379.4 525.7,379.4 525.95,379.4 526.2,379.4 526.45,379.4 526.7,379.4 526.95,379.4 527.2,379.4 527.45,379.4 527.7,379.4 527.95,379.4" fill="none" stroke="#e0464a" stroke-width="1" stroke-linejoin="round" stroke-linecap="round"/>
<polyline points="297.7,423.44 297.95,423.44 298.2,423.43 298.45,423.43 298.7,423.42 298.95,423.42 299.2,423.41 299.45,423.4 299.7,423.4 299.95,423.39 300.2,423.38 300.45,423.37 300.7,423.35 300.95,423.34 301.2,423.32 301.45,423.31 301.7,423.29 301.95,423.26 302.2,423.24 302.45,423.21 302.7,423.17 302.95,423.14 303.2,423.1 303.45,423.05 303.7,422.99 303.95,422.93 304.2,422.86 304.45,422.77 304.7,422.67 304.95,422.56 305.2,422.42 305.45,422.25 305.7,422.05 305.95,421.81 306.2,421.51 306.45,421.12 306.7,420.61 306.95,419.92 307.2,418.92 307.45,417.38 307.7,414.82 307.95,410.15 308.2,401.24 308.45,387.9 308.7,385.76 308.95,398.73 309.2,408.79 309.45,414.12 309.7,417 309.95,418.7 310.2,419.79 310.45,420.55 310.7,421.09 310.95,421.51 311.2,421.84 311.45,422.1 311.7,422.31 311.95,422.49 312.2,422.64 312.45,422.77 312.7,422.88 312.95,422.98 313.2,423.06 313.45,423.13 313.7,423.2 313.95,423.25 314.2,423.3 314.45,423.35 314.7,423.39 314.95,423.43 315.2,423.46 315.45,423.49 315.7,423.52 315.95,423.54 316.2,423.56 316.45,423.58 316.7,423.6 316.95,423.62 317.2,423.64 317.45,423.65 317.7,423.66 317.95,423.67 318.2,423.68 318.45,423.69 318.7,423.7 318.95,423.71 319.2,423.71 319.45,423.72 319.7,423.72 319.95,423.72 320.2,423.72 320.45,423.71 320.7,423.71 320.95,423.7 321.2,423.69 321.45,423.67 321.7,423.65 321.95,423.62 322.2,423.59 322.45,423.54 322.7,423.48 322.95,423.39 323.2,423.25 323.45,423.04 323.7,422.67 323.95,421.95 324.2,420.45 324.45,418.11 324.7,418.37 324.95,420.71 325.2,422.1 325.45,422.76 325.7,423.12 325.95,423.33 326.2,423.46 326.45,423.56 326.7,423.63 326.95,423.69 327.2,423.73 327.45,423.77 327.7,423.8 327.95,423.82 328.2,423.84 328.45,423.86 328.7,423.87 328.95,423.88 329.2,423.89 329.45,423.9 329.7,423.9 329.95,423.91 330.2,423.91 330.45,423.91 330.7,423.9 330.95,423.9 331.2,423.89 331.45,423.88 331.7,423.87 331.95,423.85 332.2,423.83 332.45,423.81 332.7,423.77 332.95,423.74 333.2,423.69 333.45,423.64 333.7,423.57 333.95,423.48 334.2,423.37 334.45,423.23 334.7,423.03 334.95,422.75 335.2,422.33 335.45,421.62 335.7,420.31 335.95,417.61 336.2,412.5 336.45,409.78 336.7,414.84 336.95,418.97 337.2,420.98 337.45,422 337.7,422.58 337.95,422.94 338.2,423.19 338.45,423.38 338.7,423.51 338.95,423.62 339.2,423.71 339.45,423.79 339.7,423.85 339.95,423.9 340.2,423.95 340.45,423.99 340.7,424.02 340.95,424.05 341.2,424.08 341.45,424.1 341.7,424.12 341.95,424.14 342.2,424.15 342.45,424.17 342.7,424.18 342.95,424.19 343.2,424.2 343.45,424.2 343.7,424.2 343.95,424.21 344.2,424.2 344.45,424.2 344.7,424.19 344.95,424.17 345.2,424.14 345.45,424.09 345.7,424.01 345.95,423.85 346.2,423.52 346.45,422.85 346.7,422.28 346.95,422.9 347.2,423.56 347.45,423.9 347.7,424.06 347.95,424.16 348.2,424.22 348.45,424.26 348.7,424.29 348.95,424.32 349.2,424.34 349.45,424.35 349.7,424.37 349.95,424.38 350.2,424.39 350.45,424.4 350.7,424.4 350.95,424.41 351.2,424.41 351.45,424.42 351.7,424.42 351.95,424.42 352.2,424.41 352.45,424.41 352.7,424.4 352.95,424.39 353.2,424.38 353.45,424.36 353.7,424.33 353.95,424.29 354.2,424.22 354.45,424.11 354.7,423.91 354.95,423.49 355.2,422.66 355.45,421.94 355.7,422.69 355.95,423.52 356.2,423.93 356.45,424.14 356.7,424.26 356.95,424.33 357.2,424.37 357.45,424.41 357.7,424.43 357.95,424.45 358.2,424.47 358.45,424.48 358.7,424.48 358.95,424.49 359.2,424.49 359.45,424.49 359.7,424.48 359.95,424.48 360.2,424.46 360.45,424.45 360.7,424.43 360.95,424.4 361.2,424.37 361.45,424.32 361.7,424.26 361.95,424.18 362.2,424.06 362.45,423.88 362.7,423.58 362.95,423.03 363.2,421.9 363.45,419.67 363.7,417.94 363.95,420.03 364.2,422.12 364.45,423.15 364.7,423.67 364.95,423.96 365.2,424.14 365.45,424.27 365.7,424.36 365.95,424.42 366.2,424.48 366.45,424.52 366.7,424.55 366.95,424.58 367.2,424.61 367.45,424.62 367.7,424.63 367.95,424.62 368.2,424.6 368.45,424.52 368.7,424.38 368.95,424.38 369.2,424.55 369.45,424.66 369.7,424.72 369.95,424.75 370.2,424.78 370.45,424.8 370.7,424.81 370.95,424.82 371.2,424.84 371.45,424.85 371.7,424.86 371.95,424.87 372.2,424.87 372.45,424.88 372.7,424.89 372.95,424.9 373.2,424.9 373.45,424.91 373.7,424.92 373.95,424.92 374.2,424.93 374.45,424.94 374.7,424.94 374.95,424.95 375.2,424.95 375.45,424.96 375.7,424.97 375.95,424.97 376.2,424.98 376.45,424.98 376.7,424.99 376.95,424.99 377.2,425 377.45,425 377.7,425.01 377.95,425.01 378.2,425.01 378.45,425.02 378.7,425.02 378.95,425.03 379.2,425.03 379.45,425.04 379.7,425.04 379.95,425.04 380.2,425.05 380.45,425.05 380.7,425.05 380.95,425.05 381.2,425.06 381.45,425.06 381.7,425.06 381.95,425.06 382.2,425.06 382.45,425.05 382.7,425.05 382.95,425.04 383.2,425.03 383.45,425.01 383.7,424.98 383.95,424.92 384.2,424.79 384.45,424.53 384.7,424.15 384.95,424.25 385.2,424.64 385.45,424.86 385.7,424.97 385.95,425.03 386.2,425.07 386.45,425.09 386.7,425.11 386.95,425.13 387.2,425.14 387.45,425.15 387.7,425.16 387.95,425.17 388.2,425.18 388.45,425.19 388.7,425.19 388.95,425.2 389.2,425.2 389.45,425.21 389.7,425.22 389.95,425.22 390.2,425.22 390.45,425.23 390.7,425.23 390.95,425.24 391.2,425.24 391.45,425.25 391.7,425.25 391.95,425.25 392.2,425.25 392.45,425.26 392.7,425.26 392.95,425.26 393.2,425.26 393.45,425.26 393.7,425.26 393.95,425.26 394.2,425.26 394.45,425.25 394.7,425.24 394.95,425.24 395.2,425.22 395.45,425.2 395.7,425.17 395.95,425.13 396.2,425.05 396.45,424.9 396.7,424.59 396.95,424.01 397.2,423.72 397.45,424.3 397.7,424.77 397.95,425 398.2,425.12 398.45,425.19 398.7,425.23 398.95,425.26 399.2,425.28 399.45,425.3 399.7,425.31 399.95,425.32 400.2,425.33 400.45,425.33 400.7,425.33 400.95,425.33 401.2,425.33 401.45,425.31 401.7,425.29 401.95,425.25 402.2,425.15 402.45,424.96 402.7,424.65 402.95,424.69 403.2,425 403.45,425.19 403.7,425.28 403.95,425.32 404.2,425.35 404.45,425.37 404.7,425.38 404.95,425.38 405.2,425.39 405.45,425.39 405.7,425.38 405.95,425.37 406.2,425.36 406.45,425.34 406.7,425.31 406.95,425.26 407.2,425.19 407.45,425.08 407.7,424.87 407.95,424.44 408.2,423.56 408.45,422.64 408.7,423.36 408.95,424.34 409.2,424.84 409.45,425.09 409.7,425.23 409.95,425.32 410.2,425.38 410.45,425.42 410.7,425.46 410.95,425.48 411.2,425.51 411.45,425.53 411.7,425.54 411.95,425.56 412.2,425.57 412.45,425.58 412.7,425.59 412.95,425.6 413.2,425.61 413.45,425.62 413.7,425.63 413.95,425.64 414.2,425.64 414.45,425.65 414.7,425.66 414.95,425.66 415.2,425.67 415.45,425.67 415.7,425.68 415.95,425.69 416.2,425.69 416.45,425.69 416.7,425.7 416.95,425.7 417.2,425.71 417.45,425.71 417.7,425.72 417.95,425.72 418.2,425.72 418.45,425.72 418.7,425.73 418.95,425.73 419.2,425.73 419.45,425.73 419.7,425.73 419.95,425.73 420.2,425.73 420.45,425.73 420.7,425.72 420.95,425.72 421.2,425.71 421.45,425.69 421.7,425.67 421.95,425.64 422.2,425.6 422.45,425.52 422.7,425.38 422.95,425.07 423.2,424.49 423.45,424.18 423.7,424.76 423.95,425.23 424.2,425.46 424.45,425.58 424.7,425.65 424.95,425.69 425.2,425.72 425.45,425.74 425.7,425.75 425.95,425.76 426.2,425.76 426.45,425.77 426.7,425.76 426.95,425.75 427.2,425.73 427.45,425.69 427.7,425.62 427.95,425.48 428.2,425.17 428.45,424.71 428.7,424.8 428.95,425.27 429.2,425.54 429.45,425.67 429.7,425.74 429.95,425.78 430.2,425.81 430.45,425.83 430.7,425.84 430.95,425.84 431.2,425.84 431.45,425.84 431.7,425.82 431.95,425.8 432.2,425.75 432.45,425.65 432.7,425.45 432.95,425.04 433.2,424.73 433.45,425.12 433.7,425.51 433.95,425.7 434.2,425.8 434.45,425.85 434.7,425.89 434.95,425.91 435.2,425.92 435.45,425.93 435.7,425.94 435.95,425.93 436.2,425.93 436.45,425.91 436.7,425.87 436.95,425.81 437.2,425.67 437.45,425.39 437.7,424.92 437.95,424.96 438.2,425.44 438.45,425.72 438.7,425.87 438.95,425.94 439.2,425.99 439.45,426.02 439.7,426.05 439.95,426.07 440.2,426.08 440.45,426.09 440.7,426.11 440.95,426.12 441.2,426.13 441.45,426.14 441.7,426.14 441.95,426.15 442.2,426.15 442.45,426.15 442.7,426.15 442.95,426.15 443.2,426.16 443.45,426.16 443.7,426.16 443.95,426.16 444.2,426.16 444.45,426.16 444.7,426.16 444.95,426.16 445.2,426.16 445.45,426.16 445.7,426.16 445.95,426.16 446.2,426.15 446.45,426.15 446.7,426.15 446.95,426.15 447.2,426.14 447.45,426.14 447.7,426.14 447.95,426.13 448.2,426.12 448.45,426.11 448.7,426.1 448.95,426.08 449.2,426.06 449.45,426.03 449.7,425.97 449.95,425.87 450.2,425.66 450.45,425.25 450.7,424.92 450.95,425.31 451.2,425.69 451.45,425.88 451.7,425.98 451.95,426.03 452.2,426.06 452.45,426.08 452.7,426.1 452.95,426.11 453.2,426.12 453.45,426.13 453.7,426.13 453.95,426.14 454.2,426.14 454.45,426.14 454.7,426.14 454.95,426.14 455.2,426.14 455.45,426.14 455.7,426.14 455.95,426.14 456.2,426.14 456.45,426.13 456.7,426.13 456.95,426.12 457.2,426.11 457.45,426.09 457.7,426.07 457.95,426.03 458.2,425.96 458.45,425.81 458.7,425.53 458.95,425.34 459.2,425.6 459.45,425.85 459.7,425.97 459.95,426.03 460.2,426.06 460.45,426.08 460.7,426.09 460.95,426.1 461.2,426.1 461.45,426.1 461.7,426.09 461.95,426.07 462.2,426.03 462.45,425.96 462.7,425.8 462.95,425.57 463.2,425.63 463.45,425.86 463.7,426 463.95,426.06 464.2,426.09 464.45,426.12 464.7,426.13 464.95,426.14 465.2,426.15 465.45,426.15 465.7,426.16 465.95,426.16 466.2,426.16 466.45,426.17 466.7,426.17 466.95,426.17 467.2,426.17 467.45,426.18 467.7,426.18 467.95,426.18 468.2,426.18 468.45,426.18 468.7,426.18 468.95,426.18 469.2,426.18 469.45,426.18 469.7,426.18 469.95,426.18 470.2,426.19 470.45,426.19 470.7,426.19 470.95,426.19 471.2,426.19 471.45,426.19 471.7,426.19 471.95,426.19 472.2,426.19 472.45,426.19 472.7,426.19 472.95,426.19 473.2,426.19 473.45,426.19 473.7,426.19 473.95,426.19 474.2,426.19 474.45,426.19 474.7,426.19 474.95,426.19 475.2,426.19 475.45,426.19 475.7,426.19 475.95,426.19 476.2,426.19 476.45,426.19 476.7,426.19 476.95,426.19 477.2,426.19 477.45,426.19 477.7,426.19 477.95,426.19 478.2,426.19 478.45,426.19 478.7,426.19 478.95,426.19 479.2,426.19 479.45,426.19 479.7,426.19 479.95,426.19 480.2,426.19 480.45,426.19 480.7,426.19 480.95,426.19 481.2,426.18 481.45,426.18 481.7,426.18 481.95,426.18 482.2,426.18 482.45,426.18 482.7,426.18 482.95,426.17 483.2,426.17 483.45,426.17 483.7,426.16 483.95,426.15 484.2,426.14 484.45,426.13 484.7,426.11 484.95,426.07 485.2,425.98 485.45,425.81 485.7,425.67 485.95,425.83 486.2,425.99 486.45,426.07 486.7,426.11 486.95,426.13 487.2,426.15 487.45,426.16 487.7,426.16 487.95,426.17 488.2,426.17 488.45,426.17 488.7,426.18 488.95,426.18 489.2,426.18 489.45,426.18 489.7,426.18 489.95,426.18 490.2,426.19 490.45,426.19 490.7,426.19 490.95,426.19 491.2,426.19 491.45,426.19 491.7,426.19 491.95,426.19 492.2,426.19 492.45,426.19 492.7,426.19 492.95,426.19 493.2,426.19 493.45,426.19 493.7,426.19 493.95,426.19 494.2,426.19 494.45,426.19 494.7,426.19 494.95,426.19 495.2,426.19 495.45,426.19 495.7,426.19 495.95,426.19 496.2,426.19 496.45,426.19 496.7,426.19 496.95,426.19 497.2,426.19 497.45,426.19 497.7,426.19 497.95,426.19 498.2,426.19 498.45,426.19 498.7,426.19 498.95,426.19 499.2,426.19 499.45,426.19 499.7,426.19 499.95,426.19 500.2,426.18 500.45,426.18 500.7,426.18 500.95,426.18 501.2,426.18 501.45,426.17 501.7,426.17 501.95,426.16 502.2,426.16 502.45,426.15 502.7,426.13 502.95,426.1 503.2,426.03 503.45,425.9 503.7,425.78 503.95,425.89 504.2,426.02 504.45,426.09 504.7,426.13 504.95,426.15 505.2,426.16 505.45,426.16 505.7,426.17 505.95,426.17 506.2,426.18 506.45,426.18 506.7,426.18 506.95,426.18 507.2,426.19 507.45,426.19 507.7,426.19 507.95,426.19 508.2,426.19 508.45,426.19 508.7,426.19 508.95,426.19 509.2,426.19 509.45,426.19 509.7,426.19 509.95,426.19 510.2,426.19 510.45,426.19 510.7,426.19 510.95,426.19 511.2,426.19 511.45,426.19 511.7,426.19 511.95,426.19 512.2,426.2 512.45,426.2 512.7,426.2 512.95,426.2 513.2,426.2 513.45,426.2 513.7,426.2 513.95,426.2 514.2,426.2 514.45,426.2 514.7,426.2 514.95,426.2 515.2,426.2 515.45,426.2 515.7,426.2 515.95,426.2 516.2,426.2 516.45,426.2 516.7,426.2 516.95,426.2 517.2,426.2 517.45,426.2 517.7,426.2 517.95,426.2 518.2,426.2 518.45,426.2 518.7,426.2 518.95,426.2 519.2,426.2 519.45,426.2 519.7,426.2 519.95,426.2 520.2,426.2 520.45,426.2 520.7,426.2 520.95,426.2 521.2,426.2 521.45,426.2 521.7,426.2 521.95,426.2 522.2,426.2 522.45,426.2 522.7,426.2 522.95,426.2 523.2,426.2 523.45,426.2 523.7,426.2 523.95,426.2 524.2,426.2 524.45,426.2 524.7,426.2 524.95,426.2 525.2,426.2 525.45,426.2 525.7,426.2 525.95,426.2 526.2,426.2 526.45,426.2 526.7,426.2 526.95,426.2 527.2,426.2 527.45,426.2 527.7,426.2 527.95,426.2" fill="none" stroke="#4a4a4a" stroke-width="1" stroke-linejoin="round" stroke-linecap="round"/>
<rect x="297.1" y="264.6" width="231.3" height="171.4" fill="none" stroke="#3a3a3a" stroke-width="1.05"/>
<line x1="322.5" y1="436" x2="322.5" y2="439.2" stroke="#3a3a3a" stroke-width="1"/>
<text x="322.5" y="446.2" font-family='"Liberation Serif", "Times New Roman", serif' font-size="6.8" font-weight="normal" fill="#2a2a2a" text-anchor="middle">10</text>
<line x1="373.98" y1="436" x2="373.98" y2="439.2" stroke="#3a3a3a" stroke-width="1"/>
<text x="373.98" y="446.2" font-family='"Liberation Serif", "Times New Roman", serif' font-size="6.8" font-weight="normal" fill="#2a2a2a" text-anchor="middle">20</text>
<line x1="425.46" y1="436" x2="425.46" y2="439.2" stroke="#3a3a3a" stroke-width="1"/>
<text x="425.46" y="446.2" font-family='"Liberation Serif", "Times New Roman", serif' font-size="6.8" font-weight="normal" fill="#2a2a2a" text-anchor="middle">30</text>
<line x1="476.94" y1="436" x2="476.94" y2="439.2" stroke="#3a3a3a" stroke-width="1"/>
<text x="476.94" y="446.2" font-family='"Liberation Serif", "Times New Roman", serif' font-size="6.8" font-weight="normal" fill="#2a2a2a" text-anchor="middle">40</text>
<line x1="528.42" y1="436" x2="528.42" y2="439.2" stroke="#3a3a3a" stroke-width="1"/>
<text x="528.42" y="446.2" font-family='"Liberation Serif", "Times New Roman", serif' font-size="6.8" font-weight="normal" fill="#2a2a2a" text-anchor="middle">50</text>
<line x1="296.76" y1="436" x2="296.76" y2="437.8" stroke="#3a3a3a" stroke-width="0.8"/>
<line x1="348.24" y1="436" x2="348.24" y2="437.8" stroke="#3a3a3a" stroke-width="0.8"/>
<line x1="399.72" y1="436" x2="399.72" y2="437.8" stroke="#3a3a3a" stroke-width="0.8"/>
<line x1="451.2" y1="436" x2="451.2" y2="437.8" stroke="#3a3a3a" stroke-width="0.8"/>
<line x1="502.68" y1="436" x2="502.68" y2="437.8" stroke="#3a3a3a" stroke-width="0.8"/>
<text x="413.2" y="458.3" font-family='"Liberation Sans", Arial, sans-serif' font-size="12.2" font-weight="normal" fill="#2a2a2a" text-anchor="middle">2θ(degree)</text>
<text x="292.2" y="349.4" font-family='"Liberation Sans", Arial, sans-serif' font-size="12.4" font-weight="normal" fill="#2a2a2a" text-anchor="middle" transform="rotate(-90 292.2 349.4)">Intensity(a.u.)</text>
<line x1="476.4" y1="273.3" x2="495.6" y2="273.3" stroke="#3d79d6" stroke-width="1"/>
<text x="498" y="276.5" font-family='"Liberation Sans", Arial, sans-serif' font-size="9" font-weight="normal" fill="#2a2a2a" text-anchor="start">HAZ</text>
<line x1="476.4" y1="284.4" x2="495.6" y2="284.4" stroke="#e0464a" stroke-width="1"/>
<text x="498" y="287.6" font-family='"Liberation Sans", Arial, sans-serif' font-size="9" font-weight="normal" fill="#2a2a2a" text-anchor="start">AZ</text>
<line x1="476.4" y1="295.2" x2="495.6" y2="295.2" stroke="#4a4a4a" stroke-width="1"/>
<text x="498" y="298.4" font-family='"Liberation Sans", Arial, sans-serif' font-size="9" font-weight="normal" fill="#2a2a2a" text-anchor="start">ZIF-8</text>
<polyline points="569.6,301.37 570.36,313.91 571.12,324.91 571.87,334.54 572.63,342.98 573.39,350.38 574.15,356.86 574.9,362.53 575.66,367.5 576.42,371.86 577.18,375.67 577.94,379 578.69,381.91 579.45,384.45 580.21,386.67 580.97,388.6 581.73,390.27 582.48,391.72 583.24,392.97 584,394.05 584.76,394.96 585.51,395.74 586.27,396.39 587.03,396.93 587.79,397.36 588.55,397.71 589.3,397.96 590.06,398.15 590.82,398.26 591.58,398.3 592.34,398.29 593.09,398.22 593.85,398.1 594.61,397.93 595.37,397.71 596.12,397.44 596.88,397.14 597.64,396.79 598.4,396.4 599.16,395.98 599.91,395.51 600.67,395.02 601.43,394.49 602.19,393.92 602.95,393.32 603.7,392.69 604.46,392.04 605.22,391.35 605.98,390.63 606.74,389.89 607.49,389.12 608.25,388.33 609.01,387.51 609.77,386.68 610.52,385.82 611.28,384.94 612.04,384.05 612.8,383.14 613.56,382.22 614.31,381.28 615.07,380.34 615.83,379.39 616.59,378.44 617.35,377.48 618.1,376.52 618.86,375.56 619.62,374.61 620.38,373.67 621.13,372.73 621.89,371.81 622.65,370.9 623.41,370.01 624.17,369.13 624.92,368.28 625.68,367.46 626.44,366.66 627.2,365.89 627.96,365.16 628.71,364.46 629.47,363.79 630.23,363.17 630.99,362.59 631.74,362.05 632.5,361.55 633.26,361.1 634.02,360.7 634.78,360.35 635.53,360.05 636.29,359.81 637.05,359.61 637.81,359.47 638.57,359.39 639.32,359.35 640.08,359.38 640.84,359.49 641.6,359.68 642.35,359.95 643.11,360.3 643.87,360.72 644.63,361.23 645.39,361.81 646.14,362.46 646.9,363.18 647.66,363.96 648.42,364.81 649.17,365.71 649.93,366.67 650.69,367.68 651.45,368.73 652.21,369.82 652.96,370.95 653.72,372.11 654.48,373.3 655.24,374.5 656,375.73 656.75,376.97 657.51,378.21 658.27,379.46 659.03,380.71 659.78,381.96 660.54,383.2 661.3,384.42 662.06,385.63 662.82,386.82 663.57,387.99 664.33,389.14 665.09,390.26 665.85,391.35 666.61,392.41 667.36,393.44 668.12,394.43 668.88,395.39 669.64,396.32 670.39,397.21 671.15,398.06 671.91,398.87 672.67,399.65 673.43,400.38 674.18,401.09 674.94,401.75 675.7,402.38 676.46,402.97 677.22,403.53 677.97,404.06 678.73,404.55 679.49,405.01 680.25,405.45 681,405.85 681.76,406.22 682.52,406.57 683.28,406.89 684.04,407.19 684.79,407.47 685.55,407.72 686.31,407.96 687.07,408.17 687.83,408.37 688.58,408.55 689.34,408.71 690.1,408.87 690.86,409 691.62,409.13 692.37,409.24 693.13,409.34 693.89,409.44 694.65,409.52 695.4,409.59 696.16,409.66 696.92,409.72 697.68,409.78 698.44,409.83 699.19,409.87 699.95,409.91 700.71,409.95 701.47,409.98 702.22,410.01 702.98,410.03 703.74,410.06 704.5,410.08 705.26,410.09 706.01,410.11 706.77,410.12 707.53,410.14 708.29,410.15 709.05,410.16 709.8,410.17 710.56,410.17 711.32,410.18 712.08,410.19 712.84,410.19 713.59,410.2 714.35,410.2 715.11,410.21 715.87,410.21 716.62,410.22 717.38,410.22 718.14,410.22 718.9,410.23 719.66,410.23 720.41,410.23 721.17,410.23 721.93,410.23 722.69,410.24 723.44,410.24 724.2,410.24 724.96,410.24 725.72,410.24 726.48,410.25 727.23,410.25 727.99,410.25 728.75,410.25 729.51,410.25 730.27,410.25 731.02,410.25 731.78,410.25 732.54,410.26 733.3,410.26 734.05,410.26 734.81,410.26 735.57,410.26 736.33,410.26 737.09,410.26 737.84,410.26 738.6,410.26 739.36,410.26 740.12,410.27 740.88,410.27 741.63,410.27 742.39,410.27 743.15,410.27 743.91,410.27 744.66,410.27 745.42,410.27 746.18,410.27 746.94,410.27 747.7,410.27 748.45,410.27 749.21,410.27 749.97,410.28 750.73,410.28 751.49,410.28 752.24,410.28 753,410.28 753.76,410.28 754.52,410.28 755.27,410.28 756.03,410.28 756.79,410.28 757.55,410.28 758.31,410.28 759.06,410.28 759.82,410.28 760.58,410.28 761.34,410.28 762.1,410.28 762.85,410.28 763.61,410.28 764.37,410.28 765.13,410.28 765.88,410.29 766.64,410.29 767.4,410.29 768.16,410.29 768.92,410.29 769.67,410.29 770.43,410.29 771.19,410.29 771.95,410.29 772.71,410.29 773.46,410.29 774.22,410.29 774.98,410.29 775.74,410.29 776.49,410.29 777.25,410.29 778.01,410.29 778.77,410.29 779.53,410.29 780.28,410.29 781.04,410.29 781.8,410.29" fill="none" stroke="#333333" stroke-width="1.1" stroke-linejoin="round" stroke-linecap="round"/>
<line x1="569.6" y1="410.3" x2="781.8" y2="410.3" stroke="#f04a48" stroke-width="1.1"/>
<polyline points="569.6,391.3 570.36,392.95 571.12,394.41 571.87,395.7 572.63,396.85 573.39,397.88 574.15,398.79 574.9,399.61 575.66,400.35 576.42,401.01 577.18,401.6 577.94,402.14 578.69,402.63 579.45,403.08 580.21,403.48 580.97,403.86 581.73,404.2 582.48,404.51 583.24,404.8 584,405.06 584.76,405.31 585.51,405.54 586.27,405.75 587.03,405.95 587.79,406.14 588.55,406.31 589.3,406.48 590.06,406.63 590.82,406.77 591.58,406.91 592.34,407.04 593.09,407.16 593.85,407.27 594.61,407.37 595.37,407.47 596.12,407.57 596.88,407.65 597.64,407.73 598.4,407.81 599.16,407.88 599.91,407.94 600.67,408 601.43,408.05 602.19,408.1 602.95,408.14 603.7,408.18 604.46,408.21 605.22,408.23 605.98,408.25 606.74,408.26 607.49,408.27 608.25,408.27 609.01,408.27 609.77,408.26 610.52,408.24 611.28,408.21 612.04,408.18 612.8,408.15 613.56,408.11 614.31,408.06 615.07,408 615.83,407.94 616.59,407.87 617.35,407.8 618.1,407.73 618.86,407.64 619.62,407.56 620.38,407.46 621.13,407.37 621.89,407.27 622.65,407.17 623.41,407.06 624.17,406.95 624.92,406.85 625.68,406.74 626.44,406.63 627.2,406.52 627.96,406.41 628.71,406.3 629.47,406.2 630.23,406.1 630.99,406 631.74,405.91 632.5,405.83 633.26,405.74 634.02,405.67 634.78,405.6 635.53,405.55 636.29,405.5 637.05,405.45 637.81,405.42 638.57,405.4 639.32,405.38 640.08,405.38 640.84,405.39 641.6,405.4 642.35,405.43 643.11,405.47 643.87,405.51 644.63,405.57 645.39,405.63 646.14,405.7 646.9,405.79 647.66,405.88 648.42,405.97 649.17,406.08 649.93,406.19 650.69,406.31 651.45,406.43 652.21,406.55 652.96,406.68 653.72,406.81 654.48,406.95 655.24,407.09 656,407.22 656.75,407.36 657.51,407.5 658.27,407.64 659.03,407.77 659.78,407.91 660.54,408.04 661.3,408.17 662.06,408.29 662.82,408.42 663.57,408.53 664.33,408.65 665.09,408.76 665.85,408.87 666.61,408.97 667.36,409.06 668.12,409.16 668.88,409.24 669.64,409.32 670.39,409.4 671.15,409.48 671.91,409.54 672.67,409.61 673.43,409.67 674.18,409.72 674.94,409.77 675.7,409.82 676.46,409.87 677.22,409.91 677.97,409.94 678.73,409.98 679.49,410.01 680.25,410.04 681,410.06 681.76,410.09 682.52,410.11 683.28,410.13 684.04,410.14 684.79,410.16 685.55,410.17 686.31,410.19 687.07,410.2 687.83,410.21 688.58,410.22 689.34,410.22 690.1,410.23 690.86,410.24 691.62,410.24 692.37,410.25 693.13,410.25 693.89,410.26 694.65,410.26 695.4,410.26 696.16,410.27 696.92,410.27 697.68,410.27 698.44,410.27 699.19,410.27 699.95,410.28 700.71,410.28 701.47,410.28 702.22,410.28 702.98,410.28 703.74,410.28 704.5,410.28 705.26,410.28 706.01,410.28 706.77,410.29 707.53,410.29 708.29,410.29 709.05,410.29 709.8,410.29 710.56,410.29 711.32,410.29 712.08,410.29 712.84,410.29 713.59,410.29 714.35,410.29 715.11,410.29 715.87,410.29 716.62,410.29 717.38,410.29 718.14,410.29 718.9,410.29 719.66,410.29 720.41,410.29 721.17,410.29 721.93,410.29 722.69,410.29 723.44,410.29 724.2,410.29 724.96,410.29 725.72,410.29 726.48,410.29 727.23,410.29 727.99,410.29 728.75,410.3 729.51,410.3 730.27,410.3 731.02,410.3 731.78,410.3 732.54,410.3 733.3,410.3 734.05,410.3 734.81,410.3 735.57,410.3 736.33,410.3 737.09,410.3 737.84,410.3 738.6,410.3 739.36,410.3 740.12,410.3 740.88,410.3 741.63,410.3 742.39,410.3 743.15,410.3 743.91,410.3 744.66,410.3 745.42,410.3 746.18,410.3 746.94,410.3 747.7,410.3 748.45,410.3 749.21,410.3 749.97,410.3 750.73,410.3 751.49,410.3 752.24,410.3 753,410.3 753.76,410.3 754.52,410.3 755.27,410.3 756.03,410.3 756.79,410.3 757.55,410.3 758.31,410.3 759.06,410.3 759.82,410.3 760.58,410.3 761.34,410.3 762.1,410.3 762.85,410.3 763.61,410.3 764.37,410.3 765.13,410.3 765.88,410.3 766.64,410.3 767.4,410.3 768.16,410.3 768.92,410.3 769.67,410.3 770.43,410.3 771.19,410.3 771.95,410.3 772.71,410.3 773.46,410.3 774.22,410.3 774.98,410.3 775.74,410.3 776.49,410.3 777.25,410.3 778.01,410.3 778.77,410.3 779.53,410.3 780.28,410.3 781.04,410.3 781.8,410.3" fill="none" stroke="#3ed44a" stroke-width="1" stroke-linejoin="round" stroke-linecap="round"/>
<polyline points="569.6,380.3 570.36,382.92 571.12,385.24 571.87,387.3 572.63,389.13 573.39,390.76 574.15,392.21 574.9,393.51 575.66,394.68 576.42,395.72 577.18,396.67 577.94,397.52 578.69,398.3 579.45,399 580.21,399.64 580.97,400.23 581.73,400.76 582.48,401.26 583.24,401.71 584,402.13 584.76,402.52 585.51,402.88 586.27,403.22 587.03,403.53 587.79,403.83 588.55,404.1 589.3,404.36 590.06,404.6 590.82,404.83 591.58,405.04 592.34,405.25 593.09,405.44 593.85,405.62 594.61,405.79 595.37,405.95 596.12,406.1 596.88,406.24 597.64,406.37 598.4,406.5 599.16,406.61 599.91,406.72 600.67,406.82 601.43,406.91 602.19,406.99 602.95,407.07 603.7,407.13 604.46,407.19 605.22,407.24 605.98,407.28 606.74,407.31 607.49,407.34 608.25,407.35 609.01,407.35 609.77,407.34 610.52,407.33 611.28,407.3 612.04,407.26 612.8,407.22 613.56,407.16 614.31,407.09 615.07,407.01 615.83,406.92 616.59,406.82 617.35,406.71 618.1,406.59 618.86,406.46 619.62,406.32 620.38,406.17 621.13,406.01 621.89,405.84 622.65,405.67 623.41,405.49 624.17,405.31 624.92,405.12 625.68,404.92 626.44,404.73 627.2,404.53 627.96,404.34 628.71,404.14 629.47,403.95 630.23,403.76 630.99,403.58 631.74,403.4 632.5,403.23 633.26,403.07 634.02,402.92 634.78,402.78 635.53,402.66 636.29,402.55 637.05,402.45 637.81,402.37 638.57,402.31 639.32,402.26 640.08,402.23 640.84,402.22 641.6,402.23 642.35,402.26 643.11,402.3 643.87,402.36 644.63,402.44 645.39,402.54 646.14,402.65 646.9,402.79 647.66,402.93 648.42,403.09 649.17,403.26 649.93,403.45 650.69,403.65 651.45,403.85 652.21,404.07 652.96,404.29 653.72,404.52 654.48,404.75 655.24,404.98 656,405.22 656.75,405.46 657.51,405.7 658.27,405.94 659.03,406.17 659.78,406.4 660.54,406.63 661.3,406.85 662.06,407.07 662.82,407.27 663.57,407.48 664.33,407.67 665.09,407.86 665.85,408.04 666.61,408.21 667.36,408.37 668.12,408.52 668.88,408.67 669.64,408.8 670.39,408.93 671.15,409.05 671.91,409.16 672.67,409.26 673.43,409.36 674.18,409.45 674.94,409.53 675.7,409.6 676.46,409.67 677.22,409.73 677.97,409.79 678.73,409.84 679.49,409.89 680.25,409.93 681,409.97 681.76,410 682.52,410.03 683.28,410.06 684.04,410.09 684.79,410.11 685.55,410.13 686.31,410.14 687.07,410.16 687.83,410.17 688.58,410.19 689.34,410.2 690.1,410.21 690.86,410.22 691.62,410.22 692.37,410.23 693.13,410.24 693.89,410.24 694.65,410.24 695.4,410.25 696.16,410.25 696.92,410.26 697.68,410.26 698.44,410.26 699.19,410.26 699.95,410.27 700.71,410.27 701.47,410.27 702.22,410.27 702.98,410.27 703.74,410.27 704.5,410.27 705.26,410.28 706.01,410.28 706.77,410.28 707.53,410.28 708.29,410.28 709.05,410.28 709.8,410.28 710.56,410.28 711.32,410.28 712.08,410.28 712.84,410.28 713.59,410.28 714.35,410.28 715.11,410.29 715.87,410.29 716.62,410.29 717.38,410.29 718.14,410.29 718.9,410.29 719.66,410.29 720.41,410.29 721.17,410.29 721.93,410.29 722.69,410.29 723.44,410.29 724.2,410.29 724.96,410.29 725.72,410.29 726.48,410.29 727.23,410.29 727.99,410.29 728.75,410.29 729.51,410.29 730.27,410.29 731.02,410.29 731.78,410.29 732.54,410.29 733.3,410.29 734.05,410.29 734.81,410.29 735.57,410.29 736.33,410.29 737.09,410.29 737.84,410.29 738.6,410.3 739.36,410.3 740.12,410.3 740.88,410.3 741.63,410.3 742.39,410.3 743.15,410.3 743.91,410.3 744.66,410.3 745.42,410.3 746.18,410.3 746.94,410.3 747.7,410.3 748.45,410.3 749.21,410.3 749.97,410.3 750.73,410.3 751.49,410.3 752.24,410.3 753,410.3 753.76,410.3 754.52,410.3 755.27,410.3 756.03,410.3 756.79,410.3 757.55,410.3 758.31,410.3 759.06,410.3 759.82,410.3 760.58,410.3 761.34,410.3 762.1,410.3 762.85,410.3 763.61,410.3 764.37,410.3 765.13,410.3 765.88,410.3 766.64,410.3 767.4,410.3 768.16,410.3 768.92,410.3 769.67,410.3 770.43,410.3 771.19,410.3 771.95,410.3 772.71,410.3 773.46,410.3 774.22,410.3 774.98,410.3 775.74,410.3 776.49,410.3 777.25,410.3 778.01,410.3 778.77,410.3 779.53,410.3 780.28,410.3 781.04,410.3 781.8,410.3" fill="none" stroke="#3a3af0" stroke-width="1" stroke-linejoin="round" stroke-linecap="round"/>
<rect x="569.6" y="264.6" width="212.2" height="170.9" fill="none" stroke="#3a3a3a" stroke-width="1.05"/>
<line x1="592.34" y1="435.5" x2="592.34" y2="438.7" stroke="#3a3a3a" stroke-width="1"/>
<text x="592.34" y="446" font-family='"Liberation Serif", "Times New Roman", serif' font-size="6.8" font-weight="normal" fill="#2a2a2a" text-anchor="middle">300</text>
<line x1="630.23" y1="435.5" x2="630.23" y2="438.7" stroke="#3a3a3a" stroke-width="1"/>
<text x="630.23" y="446" font-family='"Liberation Serif", "Times New Roman", serif' font-size="6.8" font-weight="normal" fill="#2a2a2a" text-anchor="middle">350</text>
<line x1="668.12" y1="435.5" x2="668.12" y2="438.7" stroke="#3a3a3a" stroke-width="1"/>
<text x="668.12" y="446" font-family='"Liberation Serif", "Times New Roman", serif' font-size="6.8" font-weight="normal" fill="#2a2a2a" text-anchor="middle">400</text>
<line x1="706.01" y1="435.5" x2="706.01" y2="438.7" stroke="#3a3a3a" stroke-width="1"/>
<text x="706.01" y="446" font-family='"Liberation Serif", "Times New Roman", serif' font-size="6.8" font-weight="normal" fill="#2a2a2a" text-anchor="middle">450</text>
<line x1="743.91" y1="435.5" x2="743.91" y2="438.7" stroke="#3a3a3a" stroke-width="1"/>
<text x="743.91" y="446" font-family='"Liberation Serif", "Times New Roman", serif' font-size="6.8" font-weight="normal" fill="#2a2a2a" text-anchor="middle">500</text>
<line x1="781.8" y1="435.5" x2="781.8" y2="438.7" stroke="#3a3a3a" stroke-width="1"/>
<text x="781.8" y="446" font-family='"Liberation Serif", "Times New Roman", serif' font-size="6.8" font-weight="normal" fill="#2a2a2a" text-anchor="middle">550</text>
<line x1="573.39" y1="435.5" x2="573.39" y2="437.3" stroke="#3a3a3a" stroke-width="0.8"/>
<line x1="611.28" y1="435.5" x2="611.28" y2="437.3" stroke="#3a3a3a" stroke-width="0.8"/>
<line x1="649.17" y1="435.5" x2="649.17" y2="437.3" stroke="#3a3a3a" stroke-width="0.8"/>
<line x1="687.07" y1="435.5" x2="687.07" y2="437.3" stroke="#3a3a3a" stroke-width="0.8"/>
<line x1="724.96" y1="435.5" x2="724.96" y2="437.3" stroke="#3a3a3a" stroke-width="0.8"/>
<line x1="762.85" y1="435.5" x2="762.85" y2="437.3" stroke="#3a3a3a" stroke-width="0.8"/>
<text x="675.5" y="459" font-family='"Liberation Sans", Arial, sans-serif' font-size="11.4" font-weight="normal" fill="#2a2a2a" text-anchor="middle">Wavelength(nm)</text>
<text x="562.8" y="346" font-family='"Liberation Sans", Arial, sans-serif' font-size="11.3" font-weight="normal" fill="#2a2a2a" text-anchor="middle" transform="rotate(-90 562.8 346)">Absorbance(a.u.)</text>
<line x1="732.5" y1="277" x2="752.3" y2="277" stroke="#444" stroke-width="1"/>
<text x="754.7" y="280.2" font-family='"Liberation Sans", Arial, sans-serif' font-size="9" font-weight="normal" fill="#2a2a2a" text-anchor="start">AIPH</text>
<line x1="732.5" y1="287.6" x2="752.3" y2="287.6" stroke="#f04a48" stroke-width="1"/>
<text x="754.7" y="290.8" font-family='"Liberation Sans", Arial, sans-serif' font-size="9" font-weight="normal" fill="#2a2a2a" text-anchor="start">ZIF-8</text>
<line x1="732.5" y1="298.6" x2="752.3" y2="298.6" stroke="#3ed44a" stroke-width="1"/>
<text x="754.7" y="301.8" font-family='"Liberation Sans", Arial, sans-serif' font-size="9" font-weight="normal" fill="#2a2a2a" text-anchor="start">HAZ</text>
<line x1="732.5" y1="309.7" x2="752.3" y2="309.7" stroke="#3a3af0" stroke-width="1"/>
<text x="754.7" y="312.9" font-family='"Liberation Sans", Arial, sans-serif' font-size="9" font-weight="normal" fill="#2a2a2a" text-anchor="start">AZ</text>
<line x1="156" y1="523.6" x2="156" y2="695" stroke="#3f9a4a" stroke-width="0.9" stroke-dasharray="1.2 2.5"/>
<line x1="186.8" y1="523.6" x2="186.8" y2="695" stroke="#f3c9a0" stroke-width="0.9" stroke-dasharray="1.2 2.5"/>
<line x1="276.9" y1="523.6" x2="276.9" y2="695" stroke="#3a55c8" stroke-width="0.9" stroke-dasharray="1.2 2.5"/>
<path d="M47.9 533.83 C49.69 533.8 56.25 533.72 59.82 533.63 C63.39 533.54 68.74 533.05 71.71 533.23 C74.68 533.41 77.41 533.99 79.64 534.82 C81.86 535.65 84.73 537 86.57 538.78 C88.41 540.56 90.58 545.01 91.92 546.71 C93.26 548.4 94.36 549.54 95.49 550.08 C96.62 550.61 98.41 549.74 99.45 550.28 C100.49 550.81 101.53 551.86 102.43 553.64 C103.32 555.43 104.51 562.31 105.4 562.17 C106.29 562.02 107.48 554.97 108.37 552.65 C109.26 550.33 110.45 547.75 111.34 546.71 C112.24 545.67 113.28 545.48 114.32 545.72 C115.36 545.96 117.09 546.96 118.28 548.29 C119.47 549.63 121.14 552.29 122.24 554.64 C123.34 556.98 124.72 562.76 125.61 563.95 C126.5 565.14 127.36 562.18 128.19 562.56 C129.02 562.95 130.42 566.67 131.16 566.53 C131.9 566.38 132.4 563.65 133.14 561.57 C133.89 559.49 135.22 554.29 136.12 552.65 C137.01 551.02 138.2 551.86 139.09 550.67 C139.98 549.48 141.17 545.98 142.06 544.73 C142.95 543.48 144.35 541.16 145.03 542.35 C145.72 543.54 146.17 549.62 146.62 552.65 C147.07 555.69 147.59 562.41 148.01 562.56 C148.42 562.71 148.95 556.02 149.39 553.64 C149.84 551.27 150.5 547.45 150.98 546.71 C151.45 545.97 152.12 549.58 152.56 548.69 C153.01 547.8 153.45 541.8 153.95 540.76 C154.46 539.72 155.43 542.05 155.93 541.75 C156.44 541.46 156.71 539.23 157.32 538.78 C157.93 538.34 159.3 538.34 160 538.78 C160.7 539.23 161.39 540.42 161.98 541.75 C162.58 543.09 163.37 545.92 163.96 547.7 C164.56 549.48 165.41 553.5 165.95 553.64 C166.48 553.79 167.08 548.54 167.53 548.69 C167.98 548.84 168.56 553 168.92 554.64 C169.27 556.27 169.55 557.81 169.91 559.59 C170.27 561.37 170.76 567.27 171.3 566.53 C171.83 565.78 172.85 557.31 173.48 554.64 C174.1 551.96 174.66 550.18 175.46 548.69 C176.26 547.2 177.88 545.62 178.83 544.73 C179.78 543.83 180.91 542.74 181.8 542.74 C182.69 542.74 183.88 543.83 184.77 544.73 C185.66 545.62 187 548.24 187.74 548.69 C188.49 549.14 189.19 546.81 189.73 547.7 C190.26 548.59 190.81 552.76 191.31 554.64 C191.82 556.51 192.53 561.08 193.1 560.18 C193.66 559.29 194.45 551.9 195.08 548.69 C195.7 545.48 196.72 539.97 197.26 538.78 C197.79 537.59 198.14 541.21 198.64 540.76 C199.15 540.32 199.73 536.79 200.63 535.81 C201.52 534.83 202.95 534.37 204.59 534.22 C206.22 534.07 209.45 534.49 211.53 534.82 C213.61 535.14 216.83 535.66 218.46 536.4 C220.1 537.15 221.53 537.93 222.43 539.77 C223.32 541.62 223.81 545.87 224.41 548.69 C225 551.51 225.85 556.58 226.39 558.6 C226.92 560.62 227.47 562.31 227.97 562.17 C228.48 562.02 229.19 560.08 229.76 557.61 C230.32 555.14 231.2 548.1 231.74 545.72 C232.28 543.34 232.85 541.9 233.33 541.75 C233.8 541.61 234.46 543.24 234.91 544.73 C235.36 546.21 235.94 549.97 236.3 551.66 C236.65 553.36 236.9 556.47 237.29 556.02 C237.68 555.58 238.34 551.28 238.87 548.69 C239.41 546.1 240.05 540.71 240.86 538.78 C241.66 536.85 242.68 536.4 244.23 535.81 C245.77 535.21 248.93 534.88 251.16 534.82 C253.39 534.76 257.45 535.06 259.09 535.41 C260.72 535.77 261.17 537.37 262.06 537.2 C262.95 537.02 263.99 534.82 265.03 534.22 C266.07 533.63 267.81 533.14 269 533.23 C270.19 533.32 272.07 533.69 272.96 534.82 C273.85 535.95 274.44 537.79 274.94 540.76 C275.45 543.74 275.97 551.37 276.33 554.64 C276.69 557.91 277.02 563.16 277.32 562.56 C277.62 561.97 278.01 554.54 278.31 550.67 C278.61 546.81 279.15 538.88 279.3 536.8" fill="none" stroke="#3fa874" stroke-width="1.05" stroke-linejoin="round" stroke-linecap="round"/>
<path d="M47.9 571.48 C49.69 571.42 56.54 571.2 59.82 571.08 C63.09 570.97 66.75 570.54 69.73 570.69 C72.7 570.84 77.11 571.36 79.64 572.07 C82.16 572.79 84.73 574.2 86.57 575.44 C88.41 576.69 90.58 579.51 91.92 580.4 C93.26 581.29 94.36 580.94 95.49 581.39 C96.62 581.84 98.41 581.88 99.45 583.37 C100.49 584.86 101.53 588.27 102.43 591.3 C103.32 594.33 104.51 603.29 105.4 603.59 C106.29 603.88 107.48 596.31 108.37 593.28 C109.26 590.25 110.45 584.95 111.34 583.37 C112.24 581.8 113.28 582.18 114.32 582.78 C115.36 583.37 117.09 585.61 118.28 587.33 C119.47 589.06 121.14 592.04 122.24 594.27 C123.34 596.5 124.72 601.25 125.61 602.2 C126.5 603.15 127.36 600.4 128.19 600.61 C129.02 600.82 130.36 603.94 131.16 603.59 C131.96 603.23 132.8 600.37 133.54 598.23 C134.28 596.09 135.43 590.51 136.12 589.32 C136.8 588.13 137.5 591.2 138.1 590.31 C138.69 589.42 139.57 583.97 140.08 583.37 C140.58 582.78 141.02 586.64 141.47 586.34 C141.91 586.05 142.52 581.84 143.05 581.39 C143.59 580.94 144.5 581.74 145.03 583.37 C145.57 585.01 146.17 589.91 146.62 592.29 C147.07 594.67 147.59 599.52 148.01 599.23 C148.42 598.93 148.95 591.05 149.39 590.31 C149.84 589.56 150.5 595.16 150.98 594.27 C151.45 593.38 152.12 586 152.56 584.36 C153.01 582.73 153.54 582.63 153.95 583.37 C154.37 584.11 154.89 589.46 155.34 589.32 C155.78 589.17 156.39 583.72 156.92 582.38 C157.46 581.04 158.44 580.4 158.91 580.4 C159.37 580.4 159.54 581.49 160 582.38 C160.46 583.27 161.39 585.01 161.98 586.34 C162.58 587.68 163.43 589.96 163.96 591.3 C164.5 592.64 165.04 595.71 165.55 595.26 C166.05 594.82 166.83 588.62 167.33 588.33 C167.84 588.03 168.53 591.94 168.92 593.28 C169.3 594.62 169.55 595.61 169.91 597.24 C170.27 598.88 170.76 604.92 171.3 604.18 C171.83 603.44 172.85 595.56 173.48 592.29 C174.1 589.02 174.66 584.61 175.46 582.38 C176.26 580.15 177.88 578.47 178.83 577.43 C179.78 576.39 180.91 575.3 181.8 575.44 C182.69 575.59 184.03 577.08 184.77 578.42 C185.52 579.75 186.22 583.62 186.75 584.36 C187.29 585.11 187.89 583.22 188.34 583.37 C188.79 583.52 189.28 583.87 189.73 585.35 C190.17 586.84 190.81 591.05 191.31 593.28 C191.82 595.51 192.53 600.96 193.1 600.22 C193.66 599.47 194.48 591.6 195.08 588.33 C195.67 585.06 196.58 579.61 197.06 578.42 C197.53 577.23 197.86 580.99 198.25 580.4 C198.63 579.8 199.22 575.79 199.64 574.45 C200.05 573.12 200.67 571.63 201.02 571.48 C201.38 571.33 201.48 573.31 202.01 573.46 C202.55 573.61 203.16 572.32 204.59 572.47 C206.02 572.62 209.59 573.86 211.53 574.45 C213.46 575.05 215.98 575.69 217.47 576.43 C218.96 577.18 220.48 577.62 221.43 579.41 C222.39 581.19 223.16 585.65 223.81 588.33 C224.47 591 225.2 595.22 225.79 597.24 C226.39 599.26 227.18 602.1 227.78 601.8 C228.37 601.5 229.22 598.03 229.76 595.26 C230.29 592.5 230.9 585.9 231.34 583.37 C231.79 580.84 232.28 578.42 232.73 578.42 C233.18 578.42 233.93 582.18 234.32 583.37 C234.7 584.56 235.01 585.01 235.31 586.34 C235.6 587.68 236 590.8 236.3 592.29 C236.6 593.78 236.93 596.85 237.29 596.25 C237.65 595.66 238.17 591.15 238.68 588.33 C239.18 585.5 239.97 579.66 240.66 577.43 C241.34 575.2 241.96 574.26 243.23 573.46 C244.51 572.66 247.4 572.43 249.18 572.07 C250.96 571.72 253.64 571.11 255.12 571.08 C256.61 571.05 258.2 571.52 259.09 571.88 C259.98 572.23 260.56 572.42 261.07 573.46 C261.58 574.5 262.04 578.66 262.46 578.81 C262.87 578.96 263.16 575.32 263.84 574.45 C264.53 573.59 266.09 573.13 267.02 573.07 C267.94 573.01 269.1 573.25 269.99 574.06 C270.88 574.86 272.22 576.28 272.96 578.42 C273.7 580.56 274.44 585.35 274.94 588.33 C275.45 591.3 275.97 596 276.33 598.23 C276.69 600.46 277.02 603.78 277.32 603.19 C277.62 602.59 278.01 597.39 278.31 594.27 C278.61 591.15 279.15 584.16 279.3 582.38" fill="none" stroke="#3a66d8" stroke-width="1.05" stroke-linejoin="round" stroke-linecap="round"/>
<path d="M47.9 610.72 C49.69 610.66 56.54 610.44 59.82 610.32 C63.09 610.2 66.75 609.96 69.73 609.93 C72.7 609.9 76.96 609.8 79.64 610.12 C82.31 610.45 85.18 611.51 87.56 612.11 C89.94 612.7 93.41 613.35 95.49 614.09 C97.57 614.83 99.95 615.72 101.43 617.06 C102.92 618.4 104.36 621.67 105.4 623.01 C106.44 624.34 107.48 626.72 108.37 625.98 C109.26 625.24 110.54 619.48 111.34 618.05 C112.15 616.63 112.83 616.02 113.72 616.47 C114.61 616.91 116.16 619 117.29 621.02 C118.42 623.05 120.06 627.12 121.25 629.94 C122.44 632.77 124.18 638.07 125.22 639.85 C126.26 641.63 127.3 641.24 128.19 641.83 C129.08 642.43 130.36 644.26 131.16 643.81 C131.96 643.37 132.8 641.09 133.54 638.86 C134.28 636.63 135.52 630.29 136.12 628.95 C136.71 627.61 137.06 630.54 137.5 629.94 C137.95 629.35 138.55 626.18 139.09 624.99 C139.62 623.8 140.33 622.61 141.07 622.02 C141.81 621.42 143.3 619.84 144.04 621.02 C144.79 622.21 145.43 626.91 146.02 629.94 C146.62 632.97 147.47 641.24 148.01 641.24 C148.54 641.24 149.15 633.42 149.59 629.94 C150.04 626.46 150.47 621.02 150.98 618.05 C151.48 615.08 152.07 611.61 152.96 610.12 C153.85 608.64 155.87 607.85 156.92 608.14 C157.98 608.44 159.24 610.92 160 612.11 C160.76 613.3 161.39 614.44 161.98 616.07 C162.58 617.71 163.37 620.33 163.96 623.01 C164.56 625.68 165.44 633.16 165.95 633.91 C166.45 634.65 166.98 629.45 167.33 627.96 C167.69 626.47 167.94 622.51 168.32 624 C168.71 625.48 169.46 634.96 169.91 637.87 C170.35 640.78 170.85 644.01 171.3 643.42 C171.74 642.82 172.35 637.41 172.88 633.91 C173.42 630.4 174.12 623.01 174.86 620.03 C175.61 617.06 176.94 615.28 177.84 614.09 C178.73 612.9 179.92 612.11 180.81 612.11 C181.7 612.11 182.89 612.9 183.78 614.09 C184.67 615.28 185.86 617.66 186.75 620.03 C187.65 622.41 188.98 627.42 189.73 629.94 C190.47 632.47 191.17 635.39 191.71 636.88 C192.24 638.37 192.76 640.89 193.29 639.85 C193.83 638.81 194.71 633.21 195.28 629.94 C195.84 626.67 196.61 620.28 197.06 618.05 C197.5 615.82 197.86 615.23 198.25 615.08 C198.63 614.93 199.22 617.51 199.64 617.06 C200.05 616.62 200.28 613.15 201.02 612.11 C201.77 611.07 203.01 610.21 204.59 610.12 C206.17 610.04 209.59 611.13 211.53 611.51 C213.46 611.9 216.13 612.7 217.47 612.7 C218.81 612.7 219.55 611.3 220.44 611.51 C221.34 611.72 222.67 611.92 223.42 614.09 C224.16 616.26 224.86 622.56 225.4 625.98 C225.93 629.4 226.54 634.71 226.98 636.88 C227.43 639.05 227.93 640.74 228.37 640.45 C228.82 640.15 229.45 638.26 229.96 634.9 C230.46 631.54 231.23 621.47 231.74 618.05 C232.25 614.63 232.88 613.15 233.33 612.11 C233.77 611.07 234.33 609.93 234.71 611.12 C235.1 612.3 235.52 616.62 235.9 620.03 C236.29 623.45 236.99 631.68 237.29 633.91 C237.59 636.14 237.59 636.38 237.88 634.9 C238.18 633.41 238.82 627.27 239.27 624 C239.72 620.73 240.26 615.24 240.86 613.1 C241.45 610.96 241.99 610.41 243.23 609.73 C244.48 609.04 247.4 608.54 249.18 608.54 C250.96 608.54 253.34 609.25 255.12 609.73 C256.91 610.2 259.29 611.59 261.07 611.71 C262.85 611.83 265.53 610.55 267.02 610.52 C268.5 610.49 270.03 610.68 270.98 611.51 C271.93 612.34 272.76 613.9 273.36 616.07 C273.95 618.24 274.5 622.71 274.94 625.98 C275.39 629.25 275.97 635.64 276.33 637.87 C276.69 640.1 277.02 642.03 277.32 640.84 C277.62 639.65 278.01 633.06 278.31 629.94 C278.61 626.82 279.15 621.52 279.3 620.03" fill="none" stroke="#e4474c" stroke-width="1.05" stroke-linejoin="round" stroke-linecap="round"/>
<path d="M47.9 652.14 C48.5 651.99 50.7 651.36 51.89 651.15 C53.08 650.94 54.67 651.11 55.85 650.75 C57.04 650.39 58.33 649.22 59.82 648.77 C61.3 648.32 64.28 648.02 65.76 647.78 C67.25 647.54 68.24 646.95 69.73 647.18 C71.21 647.42 73.89 648.62 75.67 649.36 C77.46 650.11 79.83 650.89 81.62 652.14 C83.4 653.39 86.08 655.81 87.56 657.69 C89.05 659.56 90.63 663.29 91.53 664.62 C92.42 665.96 92.76 667.2 93.51 666.61 C94.25 666.01 95.68 661.76 96.48 660.66 C97.28 659.56 98.17 658.23 98.86 659.27 C99.54 660.31 100.35 664.42 101.04 667.6 C101.72 670.78 102.76 677.8 103.42 680.48 C104.07 683.15 104.74 685.58 105.4 685.43 C106.05 685.28 107.03 682.16 107.78 679.49 C108.52 676.81 109.52 670.12 110.35 667.6 C111.19 665.07 112.28 663.24 113.33 662.64 C114.37 662.05 116.1 662.74 117.29 663.63 C118.48 664.52 120.06 666.95 121.25 668.59 C122.44 670.22 124.18 674.09 125.22 674.53 C126.26 674.98 127.3 671.11 128.19 671.56 C129.08 672.01 130.42 676.38 131.16 677.5 C131.9 678.63 132.55 679.39 133.14 679.09 C133.74 678.79 134.53 676.36 135.12 675.52 C135.72 674.69 136.6 672.65 137.11 673.54 C137.61 674.43 138.05 681.02 138.49 681.47 C138.94 681.91 139.63 677.7 140.08 676.51 C140.53 675.33 141.02 673.24 141.47 673.54 C141.91 673.84 142.52 679.09 143.05 678.5 C143.59 677.9 144.29 671.96 145.03 669.58 C145.78 667.2 147.26 662.05 148.01 662.64 C148.75 663.24 149.39 670.42 149.99 673.54 C150.58 676.66 151.46 682.71 151.97 683.45 C152.48 684.19 152.91 679.54 153.36 678.5 C153.8 677.46 154.47 676.22 154.94 676.51 C155.42 676.81 156.02 680.92 156.53 680.48 C157.03 680.03 157.79 675.18 158.31 673.54 C158.83 671.91 159.51 669.58 160 669.58 C160.49 669.58 161.05 672.11 161.59 673.54 C162.12 674.97 163.06 678.14 163.57 679.09 C164.07 680.04 164.51 680.42 164.95 679.88 C165.4 679.35 165.95 677.66 166.54 675.52 C167.13 673.38 167.97 667.84 168.92 665.61 C169.87 663.38 171.54 661.79 172.88 660.66 C174.22 659.53 176.5 658.59 177.84 658.08 C179.17 657.58 180.76 657.2 181.8 657.29 C182.84 657.38 184.12 657.43 184.77 658.68 C185.43 659.93 185.77 663.24 186.16 665.61 C186.55 667.99 187.02 674.24 187.35 674.53 C187.68 674.83 188.04 670.27 188.34 667.6 C188.64 664.92 189.03 658.42 189.33 656.7 C189.63 654.97 190.02 654.76 190.32 656.1 C190.62 657.44 190.96 663 191.31 665.61 C191.67 668.23 192.34 673.39 192.7 673.54 C193.06 673.69 193.33 668.98 193.69 666.61 C194.05 664.23 194.48 659.47 195.08 657.69 C195.67 655.9 196.82 655.01 197.65 654.71 C198.49 654.42 200.03 654.81 200.63 655.71 C201.22 656.6 201.32 659.47 201.62 660.66 C201.91 661.85 202.31 664.08 202.61 663.63 C202.91 663.19 203.15 659.17 203.6 657.69 C204.04 656.2 204.69 654.17 205.58 653.72 C206.47 653.28 208.36 654.27 209.54 654.71 C210.73 655.16 212.32 656.1 213.51 656.7 C214.7 657.29 216.28 657.34 217.47 658.68 C218.66 660.02 220.48 663.38 221.43 665.61 C222.39 667.84 223.16 671.61 223.81 673.54 C224.47 675.47 225.2 678.79 225.79 678.5 C226.39 678.2 227.18 673.34 227.78 671.56 C228.37 669.78 229.22 666.61 229.76 666.61 C230.29 666.61 230.81 669.78 231.34 671.56 C231.88 673.34 232.82 677.07 233.33 678.5 C233.83 679.92 234.27 681.52 234.71 681.07 C235.16 680.63 235.7 677.84 236.3 675.52 C236.89 673.2 237.78 668.29 238.68 665.61 C239.57 662.94 240.97 659.47 242.24 657.69 C243.52 655.9 245.56 654.91 247.2 653.72 C248.83 652.53 251.51 650.65 253.14 649.76 C254.78 648.87 256.97 647.48 258.1 647.78 C259.23 648.08 260.14 649.66 260.67 651.74 C261.21 653.82 261.37 659.36 261.66 661.65 C261.96 663.94 262.36 667.6 262.66 667 C262.95 666.41 263.29 660.27 263.65 657.69 C264 655.1 264.38 651.19 265.03 649.76 C265.69 648.33 267.11 648.47 268.01 648.17 C268.9 647.88 270.24 647.54 270.98 647.78 C271.72 648.02 272.43 649.17 272.96 649.76 C273.5 650.35 274.1 651.74 274.55 651.74 C274.99 651.74 275.52 649.76 275.93 649.76 C276.35 649.76 276.93 650.55 277.32 651.74 C277.71 652.93 278.21 655.61 278.51 657.69 C278.81 659.77 279.18 664.43 279.3 665.61" fill="none" stroke="#4c4c4c" stroke-width="1.05" stroke-linejoin="round" stroke-linecap="round"/>
<rect x="47.4" y="523.6" width="232.2" height="171.4" fill="none" stroke="#3a3a3a" stroke-width="1.05"/>
<line x1="47.4" y1="695" x2="47.4" y2="698" stroke="#3a3a3a" stroke-width="1"/>
<text x="47.4" y="706.2" font-family='"Liberation Sans", Arial, sans-serif' font-size="8.1" font-weight="normal" fill="#2a2a2a" text-anchor="middle">2000</text>
<line x1="76.43" y1="695" x2="76.43" y2="698" stroke="#3a3a3a" stroke-width="1"/>
<text x="76.43" y="706.2" font-family='"Liberation Sans", Arial, sans-serif' font-size="8.1" font-weight="normal" fill="#2a2a2a" text-anchor="middle">1800</text>
<line x1="105.45" y1="695" x2="105.45" y2="698" stroke="#3a3a3a" stroke-width="1"/>
<text x="105.45" y="706.2" font-family='"Liberation Sans", Arial, sans-serif' font-size="8.1" font-weight="normal" fill="#2a2a2a" text-anchor="middle">1600</text>
<line x1="134.48" y1="695" x2="134.48" y2="698" stroke="#3a3a3a" stroke-width="1"/>
<text x="134.48" y="706.2" font-family='"Liberation Sans", Arial, sans-serif' font-size="8.1" font-weight="normal" fill="#2a2a2a" text-anchor="middle">1400</text>
<line x1="163.5" y1="695" x2="163.5" y2="698" stroke="#3a3a3a" stroke-width="1"/>
<text x="163.5" y="706.2" font-family='"Liberation Sans", Arial, sans-serif' font-size="8.1" font-weight="normal" fill="#2a2a2a" text-anchor="middle">1200</text>
<line x1="192.53" y1="695" x2="192.53" y2="698" stroke="#3a3a3a" stroke-width="1"/>
<text x="192.53" y="706.2" font-family='"Liberation Sans", Arial, sans-serif' font-size="8.1" font-weight="normal" fill="#2a2a2a" text-anchor="middle">1000</text>
<line x1="221.56" y1="695" x2="221.56" y2="698" stroke="#3a3a3a" stroke-width="1"/>
<text x="221.56" y="706.2" font-family='"Liberation Sans", Arial, sans-serif' font-size="8.1" font-weight="normal" fill="#2a2a2a" text-anchor="middle">800</text>
<line x1="250.58" y1="695" x2="250.58" y2="698" stroke="#3a3a3a" stroke-width="1"/>
<text x="250.58" y="706.2" font-family='"Liberation Sans", Arial, sans-serif' font-size="8.1" font-weight="normal" fill="#2a2a2a" text-anchor="middle">600</text>
<line x1="279.61" y1="695" x2="279.61" y2="698" stroke="#3a3a3a" stroke-width="1"/>
<text x="279.61" y="706.2" font-family='"Liberation Sans", Arial, sans-serif' font-size="8.1" font-weight="normal" fill="#2a2a2a" text-anchor="middle">400</text>
<line x1="61.91" y1="695" x2="61.91" y2="696.7" stroke="#3a3a3a" stroke-width="0.8"/>
<line x1="90.94" y1="695" x2="90.94" y2="696.7" stroke="#3a3a3a" stroke-width="0.8"/>
<line x1="119.97" y1="695" x2="119.97" y2="696.7" stroke="#3a3a3a" stroke-width="0.8"/>
<line x1="148.99" y1="695" x2="148.99" y2="696.7" stroke="#3a3a3a" stroke-width="0.8"/>
<line x1="178.02" y1="695" x2="178.02" y2="696.7" stroke="#3a3a3a" stroke-width="0.8"/>
<line x1="207.04" y1="695" x2="207.04" y2="696.7" stroke="#3a3a3a" stroke-width="0.8"/>
<line x1="236.07" y1="695" x2="236.07" y2="696.7" stroke="#3a3a3a" stroke-width="0.8"/>
<line x1="265.1" y1="695" x2="265.1" y2="696.7" stroke="#3a3a3a" stroke-width="0.8"/>
<text x="164" y="723" font-family='"Liberation Sans", Arial, sans-serif' font-size="10.1" fill="#2a2a2a" text-anchor="middle">Wavenumber(cm<tspan dy="-4" font-size="7">-1</tspan><tspan dy="4">)</tspan></text>
<text x="37" y="609" font-family='"Liberation Sans", Arial, sans-serif' font-size="9.6" font-weight="normal" fill="#2a2a2a" text-anchor="middle" transform="rotate(-90 37 609)">Transmittance(%)</text>
<line x1="2.1" y1="530" x2="19.3" y2="530" stroke="#3fa874" stroke-width="1"/>
<text x="21.4" y="533" font-family='"Liberation Sans", Arial, sans-serif' font-size="8.6" font-weight="normal" fill="#2a2a2a" text-anchor="start">HAZ</text>
<line x1="2.1" y1="540.3" x2="19.3" y2="540.3" stroke="#3a66d8" stroke-width="1"/>
<text x="21.4" y="543.3" font-family='"Liberation Sans", Arial, sans-serif' font-size="8.6" font-weight="normal" fill="#2a2a2a" text-anchor="start">AZ</text>
<line x1="2.1" y1="551" x2="19.3" y2="551" stroke="#e4474c" stroke-width="1"/>
<text x="21.4" y="554" font-family='"Liberation Sans", Arial, sans-serif' font-size="8.6" font-weight="normal" fill="#2a2a2a" text-anchor="start">ZIF-8</text>
<line x1="2.1" y1="561.2" x2="19.3" y2="561.2" stroke="#4c4c4c" stroke-width="1"/>
<text x="21.4" y="564.2" font-family='"Liberation Sans", Arial, sans-serif' font-size="8.6" font-weight="normal" fill="#2a2a2a" text-anchor="start">AIPH</text>
<text x="202" y="642" font-family='"Liberation Serif", "Times New Roman", serif' font-size="8.2" font-weight="normal" fill="#222" text-anchor="start">C-N</text>
<text x="245" y="639.5" font-family='"Liberation Serif", "Times New Roman", serif' font-size="8.2" font-weight="normal" fill="#222" text-anchor="start">Zn-N</text>
<text x="168" y="691.5" font-family='"Liberation Serif", "Times New Roman", serif' font-size="8.2" font-weight="normal" fill="#222" text-anchor="start">C-C</text>
<line x1="201.5" y1="641.5" x2="192.5" y2="650.5" stroke="#222" stroke-width="0.8"/>
<path d="M192.5 650.5 L193.64 647.51 L195.49 649.36 Z" fill="#222"/>
<line x1="269.8" y1="637.2" x2="274.8" y2="641.2" stroke="#222" stroke-width="0.8"/>
<path d="M274.8 641.2 L271.7 640.39 L273.33 638.36 Z" fill="#222"/>
<line x1="167.5" y1="688.5" x2="160.8" y2="684.2" stroke="#222" stroke-width="0.8"/>
<path d="M160.8 684.2 L163.96 684.68 L162.55 686.88 Z" fill="#222"/>
<path d="M328.2 660.28 L328.7 660.21 L329.2 660.14 L329.7 660.06 L330.2 659.98 L330.7 659.88 L331.2 659.77 L331.7 659.65 L332.2 659.61 L332.7 659.62 L333.2 659.59 L333.7 659.53 L334.2 659.42 L334.7 659.26 L335.2 659.03 L335.7 658.71 L336.2 658.28 L336.7 657.72 L337.2 657.01 L337.7 656.12 L338.2 655.01 L338.7 653.67 L339.2 652.05 L339.7 650.22 L340.2 648.09 L340.7 645.64 L341.2 642.85 L341.7 639.75 L342.2 636.34 L342.7 632.67 L343.2 628.79 L343.7 624.77 L344.2 620.69 L344.7 616.67 L345.2 612.82 L345.7 609.3 L346.2 606.25 L346.7 603.82 L347.2 602.08 L347.7 601.21 L348.2 601.28 L348.7 602.3 L349.2 604.22 L349.7 606.92 L350.2 610.28 L350.7 614.14 L351.2 618.35 L351.7 622.77 L352.2 627.26 L352.7 631.72 L353.2 636.05 L353.7 640.19 L354.2 644.05 L354.7 647.51 L355.2 650.66 L355.7 653.48 L356.2 655.98 L356.7 658.15 L357.2 660.03 L357.7 661.64 L358.2 663 L358.7 664.15 L359.2 665.1 L359.7 665.9 L360.2 666.56 L360.7 667.12 L361.2 667.58 L361.7 667.96 L362.2 668.29 L362.7 668.57 L363.2 668.81 L363.7 669.03 L364.2 669.22 L364.7 669.39 L365.2 669.55 L365.7 669.7 L366.2 669.83 L366.7 669.96 L367.2 670.08 L367.7 670.2 L368.2 670.31 L368.7 670.42 L369.2 670.52 L369.7 670.62 L369.7 671.73 L369.2 671.68 L368.7 671.63 L368.2 671.59 L367.7 671.54 L367.2 671.49 L366.7 671.44 L366.2 671.39 L365.7 671.34 L365.2 671.29 L364.7 671.24 L364.2 671.19 L363.7 671.14 L363.2 671.09 L362.7 671.05 L362.2 671 L361.7 670.95 L361.2 670.9 L360.7 670.85 L360.2 670.8 L359.7 670.75 L359.2 670.7 L358.7 670.65 L358.2 670.6 L357.7 670.55 L357.2 670.5 L356.7 670.46 L356.2 670.41 L355.7 670.36 L355.2 670.31 L354.7 670.26 L354.2 670.21 L353.7 670.06 L353.2 669.9 L352.7 669.73 L352.2 669.56 L351.7 669.39 L351.2 669.22 L350.7 669.05 L350.2 668.88 L349.7 668.71 L349.2 668.54 L348.7 668.38 L348.2 668.21 L347.7 668.04 L347.2 667.87 L346.7 667.7 L346.2 667.45 L345.7 667.2 L345.2 666.95 L344.7 666.7 L344.2 666.45 L343.7 666.2 L343.2 665.95 L342.7 665.7 L342.2 665.45 L341.7 665.2 L341.2 664.95 L340.7 664.7 L340.2 664.45 L339.7 664.2 L339.2 663.97 L338.7 663.81 L338.2 663.64 L337.7 663.48 L337.2 663.32 L336.7 663.16 L336.2 662.99 L335.7 662.83 L335.2 662.67 L334.7 662.51 L334.2 662.35 L333.7 662.18 L333.2 662.02 L332.7 661.86 L332.2 661.7 L331.7 661.6 L331.2 661.6 L330.7 661.6 L330.2 661.6 L329.7 661.6 L329.2 661.6 L328.7 661.6 L328.2 661.6Z" fill="url(#fillP)" stroke="none"/>
<polyline points="328.2,660.28 328.7,660.21 329.2,660.14 329.7,660.06 330.2,659.98 330.7,659.88 331.2,659.77 331.7,659.65 332.2,659.61 332.7,659.62 333.2,659.59 333.7,659.53 334.2,659.42 334.7,659.26 335.2,659.03 335.7,658.71 336.2,658.28 336.7,657.72 337.2,657.01 337.7,656.12 338.2,655.01 338.7,653.67 339.2,652.05 339.7,650.22 340.2,648.09 340.7,645.64 341.2,642.85 341.7,639.75 342.2,636.34 342.7,632.67 343.2,628.79 343.7,624.77 344.2,620.69 344.7,616.67 345.2,612.82 345.7,609.3 346.2,606.25 346.7,603.82 347.2,602.08 347.7,601.21 348.2,601.28 348.7,602.3 349.2,604.22 349.7,606.92 350.2,610.28 350.7,614.14 351.2,618.35 351.7,622.77 352.2,627.26 352.7,631.72 353.2,636.05 353.7,640.19 354.2,644.05 354.7,647.51 355.2,650.66 355.7,653.48 356.2,655.98 356.7,658.15 357.2,660.03 357.7,661.64 358.2,663 358.7,664.15 359.2,665.1 359.7,665.9 360.2,666.56 360.7,667.12 361.2,667.58 361.7,667.96 362.2,668.29 362.7,668.57 363.2,668.81 363.7,669.03 364.2,669.22 364.7,669.39 365.2,669.55 365.7,669.7 366.2,669.83 366.7,669.96 367.2,670.08 367.7,670.2 368.2,670.31 368.7,670.42 369.2,670.52 369.7,670.62" fill="none" stroke="#9a8fe6" stroke-width="1" stroke-linejoin="round" stroke-linecap="round"/>
<path d="M460.2 675.08 L460.7 675.04 L461.2 675 L461.7 674.96 L462.2 674.91 L462.7 674.85 L463.2 674.79 L463.7 674.72 L464.2 674.64 L464.7 674.55 L465.2 674.45 L465.7 674.33 L466.2 674.2 L466.7 674.03 L467.2 673.84 L467.7 673.61 L468.2 673.33 L468.7 672.99 L469.2 672.58 L469.7 672.07 L470.2 671.45 L470.7 670.69 L471.2 669.78 L471.7 668.66 L472.2 667.32 L472.7 665.72 L473.2 663.81 L473.7 661.56 L474.2 658.92 L474.7 655.85 L475.2 652.33 L475.7 648.32 L476.2 643.8 L476.7 638.76 L477.2 633.2 L477.7 627.13 L478.2 620.58 L478.7 613.61 L479.2 606.29 L479.7 598.7 L480.2 590.95 L480.7 583.17 L481.2 575.5 L481.7 568.11 L482.2 561.17 L482.7 554.87 L483.2 549.39 L483.7 544.9 L484.2 541.57 L484.7 539.53 L485.2 538.85 L485.7 539.58 L486.2 541.67 L486.7 545.04 L487.2 549.57 L487.7 555.1 L488.2 561.45 L488.7 568.44 L489.2 575.88 L489.7 583.59 L490.2 591.42 L490.7 599.21 L491.2 606.85 L491.7 614.22 L492.2 621.24 L492.7 627.83 L493.2 633.95 L493.7 639.56 L494.2 644.65 L494.7 649.21 L495.2 653.27 L495.7 656.84 L496.2 659.95 L496.7 662.63 L497.2 664.94 L497.7 666.89 L498.2 668.54 L498.7 669.93 L499.2 671.09 L499.7 672.06 L500.2 672.86 L500.7 673.52 L501.2 674.08 L501.7 674.54 L502.2 674.93 L502.7 675.25 L503.2 675.53 L503.7 675.77 L504.2 675.98 L504.7 676.17 L505.2 676.33 L505.7 676.48 L506.2 676.62 L506.7 676.74 L507.2 676.86 L507.7 676.97 L508.2 677.07 L508.7 677.17 L509.2 677.26 L509.7 677.35 L510.2 677.43 L510.7 677.51 L511.2 677.59 L511.7 677.66 L511.7 679.06 L511.2 679.04 L510.7 679.02 L510.2 678.99 L509.7 678.97 L509.2 678.95 L508.7 678.93 L508.2 678.9 L507.7 678.88 L507.2 678.86 L506.7 678.83 L506.2 678.81 L505.7 678.79 L505.2 678.77 L504.7 678.74 L504.2 678.72 L503.7 678.7 L503.2 678.67 L502.7 678.65 L502.2 678.63 L501.7 678.61 L501.2 678.58 L500.7 678.56 L500.2 678.54 L499.7 678.52 L499.2 678.49 L498.7 678.47 L498.2 678.45 L497.7 678.42 L497.2 678.4 L496.7 678.38 L496.2 678.36 L495.7 678.33 L495.2 678.31 L494.7 678.29 L494.2 678.26 L493.7 678.24 L493.2 678.22 L492.7 678.2 L492.2 678.17 L491.7 678.15 L491.2 678.13 L490.7 678.11 L490.2 678.08 L489.7 678.06 L489.2 678.04 L488.7 678.01 L488.2 677.99 L487.7 677.97 L487.2 677.95 L486.7 677.92 L486.2 677.9 L485.7 677.88 L485.2 677.85 L484.7 677.83 L484.2 677.81 L483.7 677.79 L483.2 677.76 L482.7 677.74 L482.2 677.71 L481.7 677.69 L481.2 677.66 L480.7 677.64 L480.2 677.62 L479.7 677.59 L479.2 677.57 L478.7 677.54 L478.2 677.52 L477.7 677.49 L477.2 677.47 L476.7 677.45 L476.2 677.42 L475.7 677.4 L475.2 677.37 L474.7 677.35 L474.2 677.32 L473.7 677.3 L473.2 677.28 L472.7 677.25 L472.2 677.23 L471.7 677.2 L471.2 677.18 L470.7 677.15 L470.2 677.13 L469.7 677.11 L469.2 677.08 L468.7 677.06 L468.2 677.03 L467.7 677.01 L467.2 676.98 L466.7 676.96 L466.2 676.94 L465.7 676.91 L465.2 676.89 L464.7 676.86 L464.2 676.84 L463.7 676.81 L463.2 676.79 L462.7 676.77 L462.2 676.74 L461.7 676.72 L461.2 676.69 L460.7 676.67 L460.2 676.64Z" fill="url(#fillB)" stroke="none"/>
<polyline points="460.2,675.08 460.7,675.04 461.2,675 461.7,674.96 462.2,674.91 462.7,674.85 463.2,674.79 463.7,674.72 464.2,674.64 464.7,674.55 465.2,674.45 465.7,674.33 466.2,674.2 466.7,674.03 467.2,673.84 467.7,673.61 468.2,673.33 468.7,672.99 469.2,672.58 469.7,672.07 470.2,671.45 470.7,670.69 471.2,669.78 471.7,668.66 472.2,667.32 472.7,665.72 473.2,663.81 473.7,661.56 474.2,658.92 474.7,655.85 475.2,652.33 475.7,648.32 476.2,643.8 476.7,638.76 477.2,633.2 477.7,627.13 478.2,620.58 478.7,613.61 479.2,606.29 479.7,598.7 480.2,590.95 480.7,583.17 481.2,575.5 481.7,568.11 482.2,561.17 482.7,554.87 483.2,549.39 483.7,544.9 484.2,541.57 484.7,539.53 485.2,538.85 485.7,539.58 486.2,541.67 486.7,545.04 487.2,549.57 487.7,555.1 488.2,561.45 488.7,568.44 489.2,575.88 489.7,583.59 490.2,591.42 490.7,599.21 491.2,606.85 491.7,614.22 492.2,621.24 492.7,627.83 493.2,633.95 493.7,639.56 494.2,644.65 494.7,649.21 495.2,653.27 495.7,656.84 496.2,659.95 496.7,662.63 497.2,664.94 497.7,666.89 498.2,668.54 498.7,669.93 499.2,671.09 499.7,672.06 500.2,672.86 500.7,673.52 501.2,674.08 501.7,674.54 502.2,674.93 502.7,675.25 503.2,675.53 503.7,675.77 504.2,675.98 504.7,676.17 505.2,676.33 505.7,676.48 506.2,676.62 506.7,676.74 507.2,676.86 507.7,676.97 508.2,677.07 508.7,677.17 509.2,677.26 509.7,677.35 510.2,677.43 510.7,677.51 511.2,677.59 511.7,677.66" fill="none" stroke="#9fdcf5" stroke-width="1" stroke-linejoin="round" stroke-linecap="round"/>
<polyline points="310.2,661.6 310.7,661.6 311.2,661.6 311.7,661.6 312.2,661.6 312.7,661.6 313.2,661.6 313.7,661.6 314.2,661.6 314.7,661.6 315.2,661.6 315.7,661.6 316.2,661.6 316.7,661.6 317.2,661.6 317.7,661.6 318.2,661.6 318.7,661.6 319.2,661.6 319.7,661.6 320.2,661.6 320.7,661.6 321.2,661.6 321.7,661.6 322.2,661.6 322.7,661.6 323.2,661.6 323.7,661.6 324.2,661.6 324.7,661.6 325.2,661.6 325.7,661.6 326.2,661.6 326.7,661.6 327.2,661.6 327.7,661.6 328.2,661.6 328.7,661.6 329.2,661.6 329.7,661.6 330.2,661.6 330.7,661.6 331.2,661.6 331.7,661.6 332.2,661.7 332.7,661.86 333.2,662.02 333.7,662.18 334.2,662.35 334.7,662.51 335.2,662.67 335.7,662.83 336.2,662.99 336.7,663.16 337.2,663.32 337.7,663.48 338.2,663.64 338.7,663.81 339.2,663.97 339.7,664.2 340.2,664.45 340.7,664.7 341.2,664.95 341.7,665.2 342.2,665.45 342.7,665.7 343.2,665.95 343.7,666.2 344.2,666.45 344.7,666.7 345.2,666.95 345.7,667.2 346.2,667.45 346.7,667.7 347.2,667.87 347.7,668.04 348.2,668.21 348.7,668.38 349.2,668.54 349.7,668.71 350.2,668.88 350.7,669.05 351.2,669.22 351.7,669.39 352.2,669.56 352.7,669.73 353.2,669.9 353.7,670.06 354.2,670.21 354.7,670.26 355.2,670.31 355.7,670.36 356.2,670.41 356.7,670.46 357.2,670.5 357.7,670.55 358.2,670.6 358.7,670.65 359.2,670.7 359.7,670.75 360.2,670.8 360.7,670.85 361.2,670.9 361.7,670.95 362.2,671 362.7,671.05 363.2,671.09 363.7,671.14 364.2,671.19 364.7,671.24 365.2,671.29 365.7,671.34 366.2,671.39 366.7,671.44 367.2,671.49 367.7,671.54 368.2,671.59 368.7,671.63 369.2,671.68 369.7,671.73 370.2,671.78 370.7,671.83 371.2,671.88 371.7,671.92 372.2,671.95 372.7,671.98 373.2,672.01 373.7,672.05 374.2,672.08 374.7,672.11 375.2,672.14 375.7,672.17 376.2,672.21 376.7,672.24 377.2,672.27 377.7,672.3 378.2,672.33 378.7,672.37 379.2,672.4 379.7,672.43 380.2,672.46 380.7,672.49 381.2,672.53 381.7,672.56 382.2,672.59 382.7,672.62 383.2,672.65 383.7,672.68 384.2,672.72 384.7,672.75 385.2,672.78 385.7,672.81 386.2,672.84 386.7,672.88 387.2,672.91 387.7,672.94 388.2,672.97 388.7,673 389.2,673.04 389.7,673.07 390.2,673.1 390.7,673.13 391.2,673.16 391.7,673.19 392.2,673.23 392.7,673.26 393.2,673.29 393.7,673.32 394.2,673.35 394.7,673.39 395.2,673.42 395.7,673.45 396.2,673.48 396.7,673.51 397.2,673.55 397.7,673.58 398.2,673.61 398.7,673.64 399.2,673.67 399.7,673.71 400.2,673.74 400.7,673.77 401.2,673.8 401.7,673.83 402.2,673.86 402.7,673.9 403.2,673.93 403.7,673.96 404.2,673.99 404.7,674.02 405.2,674.06 405.7,674.09 406.2,674.12 406.7,674.15 407.2,674.18 407.7,674.22 408.2,674.25 408.7,674.28 409.2,674.31 409.7,674.34 410.2,674.37 410.7,674.41 411.2,674.44 411.7,674.47 412.2,674.5 412.7,674.53 413.2,674.57 413.7,674.6 414.2,674.63 414.7,674.66 415.2,674.69 415.7,674.73 416.2,674.76 416.7,674.79 417.2,674.82 417.7,674.85 418.2,674.89 418.7,674.92 419.2,674.95 419.7,674.98 420.2,675.01 420.7,675.03 421.2,675.05 421.7,675.07 422.2,675.09 422.7,675.11 423.2,675.13 423.7,675.15 424.2,675.17 424.7,675.19 425.2,675.21 425.7,675.23 426.2,675.25 426.7,675.27 427.2,675.29 427.7,675.31 428.2,675.33 428.7,675.35 429.2,675.37 429.7,675.39 430.2,675.42 430.7,675.44 431.2,675.46 431.7,675.48 432.2,675.5 432.7,675.52 433.2,675.54 433.7,675.56 434.2,675.58 434.7,675.6 435.2,675.62 435.7,675.64 436.2,675.66 436.7,675.68 437.2,675.7 437.7,675.72 438.2,675.74 438.7,675.76 439.2,675.78 439.7,675.8 440.2,675.82 440.7,675.84 441.2,675.86 441.7,675.88 442.2,675.9 442.7,675.92 443.2,675.94 443.7,675.96 444.2,675.99 444.7,676.01 445.2,676.03 445.7,676.05 446.2,676.07 446.7,676.09 447.2,676.11 447.7,676.13 448.2,676.15 448.7,676.17 449.2,676.19 449.7,676.21 450.2,676.23 450.7,676.25 451.2,676.27 451.7,676.29 452.2,676.31 452.7,676.33 453.2,676.35 453.7,676.37 454.2,676.39 454.7,676.41 455.2,676.43 455.7,676.45 456.2,676.47 456.7,676.49 457.2,676.51 457.7,676.53 458.2,676.56 458.7,676.58 459.2,676.6 459.7,676.62 460.2,676.64 460.7,676.67 461.2,676.69 461.7,676.72 462.2,676.74 462.7,676.77 463.2,676.79 463.7,676.81 464.2,676.84 464.7,676.86 465.2,676.89 465.7,676.91 466.2,676.94 466.7,676.96 467.2,676.98 467.7,677.01 468.2,677.03 468.7,677.06 469.2,677.08 469.7,677.11 470.2,677.13 470.7,677.15 471.2,677.18 471.7,677.2 472.2,677.23 472.7,677.25 473.2,677.28 473.7,677.3 474.2,677.32 474.7,677.35 475.2,677.37 475.7,677.4 476.2,677.42 476.7,677.45 477.2,677.47 477.7,677.49 478.2,677.52 478.7,677.54 479.2,677.57 479.7,677.59 480.2,677.62 480.7,677.64 481.2,677.66 481.7,677.69 482.2,677.71 482.7,677.74 483.2,677.76 483.7,677.79 484.2,677.81 484.7,677.83 485.2,677.85 485.7,677.88 486.2,677.9 486.7,677.92 487.2,677.95 487.7,677.97 488.2,677.99 488.7,678.01 489.2,678.04 489.7,678.06 490.2,678.08 490.7,678.11 491.2,678.13 491.7,678.15 492.2,678.17 492.7,678.2 493.2,678.22 493.7,678.24 494.2,678.26 494.7,678.29 495.2,678.31 495.7,678.33 496.2,678.36 496.7,678.38 497.2,678.4 497.7,678.42 498.2,678.45 498.7,678.47 499.2,678.49 499.7,678.52 500.2,678.54 500.7,678.56 501.2,678.58 501.7,678.61 502.2,678.63 502.7,678.65 503.2,678.67 503.7,678.7 504.2,678.72 504.7,678.74 505.2,678.77 505.7,678.79 506.2,678.81 506.7,678.83 507.2,678.86 507.7,678.88 508.2,678.9 508.7,678.93 509.2,678.95 509.7,678.97 510.2,678.99 510.7,679.02 511.2,679.04 511.7,679.06 512.2,679.09 512.7,679.11 513.2,679.13 513.7,679.15 514.2,679.18 514.7,679.2 515.2,679.22 515.7,679.24 516.2,679.27 516.7,679.29 517.2,679.31 517.7,679.34 518.2,679.36 518.7,679.38 519.2,679.4 519.7,679.43 520.2,679.45 520.7,679.47 521.2,679.5 521.7,679.52 522.2,679.54 522.7,679.56" fill="none" stroke="#f4f08c" stroke-width="1.1" stroke-linejoin="round" stroke-linecap="round"/>
<polyline points="310.2,659.5 310.7,659.49 311.2,659.48 311.7,659.47 312.2,659.46 312.7,659.44 313.2,659.43 313.7,659.42 314.2,659.41 314.7,659.39 315.2,659.38 315.7,659.36 316.2,659.35 316.7,659.33 317.2,659.31 317.7,659.3 318.2,659.28 318.7,659.26 319.2,659.24 319.7,659.21 320.2,659.19 320.7,659.17 321.2,659.14 321.7,659.11 322.2,659.09 322.7,659.06 323.2,659.02 323.7,658.99 324.2,658.96 324.7,658.92 325.2,658.88 325.7,658.84 326.2,658.79 326.7,658.74 327.2,658.69 327.7,658.64 328.2,658.58 328.7,658.51 329.2,658.44 329.7,658.37 330.2,658.28 330.7,658.19 331.2,658.09 331.7,657.97 332.2,657.93 332.7,657.94 333.2,657.92 333.7,657.86 334.2,657.77 334.7,657.61 335.2,657.39 335.7,657.08 336.2,656.67 336.7,656.14 337.2,655.45 337.7,654.59 338.2,653.52 338.7,652.22 339.2,650.66 339.7,648.89 340.2,646.83 340.7,644.46 341.2,641.77 341.7,638.76 342.2,632.86 342.7,629.31 343.2,625.55 343.7,621.66 344.2,617.71 344.7,613.82 345.2,610.1 345.7,606.69 346.2,603.73 346.7,601.38 347.2,599.7 347.7,598.86 348.2,599.04 348.7,600.04 349.2,601.9 349.7,604.53 350.2,607.8 350.7,611.55 351.2,615.64 351.7,619.93 352.2,624.3 352.7,628.63 353.2,632.84 353.7,636.86 354.2,640.61 354.7,643.98 355.2,647.04 355.7,649.77 356.2,652.2 356.7,654.31 357.2,656.14 357.7,657.7 358.2,657.73 358.7,658.84 359.2,659.78 359.7,660.55 360.2,661.2 360.7,661.74 361.2,662.19 361.7,662.57 362.2,661.99 362.7,662.24 363.2,662.46 363.7,662.65 364.2,662.82 364.7,662.97 365.2,663.1 365.7,663.23 366.2,663.34 366.7,663.45 367.2,663.55 367.7,663.64 368.2,663.73 368.7,663.81 369.2,663.89 369.7,663.97 370.2,664.04 370.7,664.11 371.2,664.18 371.7,664.24 372.2,664.28 372.7,664.33 373.2,664.37 373.7,664.41 374.2,664.45 374.7,664.49 375.2,664.52 375.7,664.56 376.2,664.59 376.7,664.63 377.2,664.66 377.7,664.69 378.2,664.72 378.7,664.75 379.2,664.78 379.7,664.81 380.2,664.84 380.7,664.86 381.2,664.89 381.7,664.92 382.2,664.94 382.7,664.97 383.2,665 383.7,665.02 384.2,665.05 384.7,665.08 385.2,665.1 385.7,665.13 386.2,665.16 386.7,665.18 387.2,665.21 387.7,665.23 388.2,665.26 388.7,665.29 389.2,665.32 389.7,665.34 390.2,665.37 390.7,665.4 391.2,665.43 391.7,665.46 392.2,665.49 392.7,665.52 393.2,665.55 393.7,665.58 394.2,665.61 394.7,665.64 395.2,665.67 395.7,665.7 396.2,665.73 396.7,665.77 397.2,665.8 397.7,665.84 398.2,665.87 398.7,665.91 399.2,665.94 399.7,665.98 400.2,666.01 400.7,666.05 401.2,666.09 401.7,666.13 402.2,666.17 402.7,666.21 403.2,666.25 403.7,666.29 404.2,666.33 404.7,666.37 405.2,666.41 405.7,666.46 406.2,666.5 406.7,666.55 407.2,666.59 407.7,666.64 408.2,666.68 408.7,666.73 409.2,666.77 409.7,666.82 410.2,666.87 410.7,666.92 411.2,666.97 411.7,667.01 412.2,667.06 412.7,667.11 413.2,667.16 413.7,667.21 414.2,667.27 414.7,667.32 415.2,667.37 415.7,667.42 416.2,667.47 416.7,667.52 417.2,667.58 417.7,667.63 418.2,667.68 418.7,667.74 419.2,667.79 419.7,667.85 420.2,667.89 420.7,667.94 421.2,667.98 421.7,668.02 422.2,668.07 422.7,668.11 423.2,668.15 423.7,668.2 424.2,668.24 424.7,668.28 425.2,668.32 425.7,668.36 426.2,668.41 426.7,668.44 427.2,668.48 427.7,668.51 428.2,668.54 428.7,668.57 429.2,668.59 429.7,668.6 430.2,668.59 430.7,668.58 431.2,668.55 431.7,668.51 432.2,668.45 432.7,668.37 433.2,668.28 433.7,668.18 434.2,668.07 434.7,667.95 435.2,667.84 435.7,667.74 436.2,667.65 436.7,667.59 437.2,667.55 437.7,667.55 438.2,667.58 438.7,667.65 439.2,667.75 439.7,667.88 440.2,668.03 440.7,668.21 441.2,668.39 441.7,668.57 442.2,668.76 442.7,668.93 443.2,669.1 443.7,669.24 444.2,669.38 444.7,669.49 445.2,669.59 445.7,669.67 446.2,669.74 446.7,669.8 447.2,669.85 447.7,669.89 448.2,669.93 448.7,669.96 449.2,669.99 449.7,670.01 450.2,670.03 450.7,670.05 451.2,670.08 451.7,670.1 452.2,670.13 452.7,670.16 453.2,670.2 453.7,670.25 454.2,670.3 454.7,670.37 455.2,670.46 455.7,670.56 456.2,670.68 456.7,670.82 457.2,670.97 457.7,671.14 458.2,671.31 458.7,671.49 459.2,671.65 459.7,671.81 460.2,671.94 460.7,672.04 461.2,672.1 461.7,672.11 462.2,672.08 462.7,672 463.2,671.87 463.7,671.69 464.2,671.48 464.7,671.23 465.2,670.96 465.7,670.67 466.2,670.35 466.7,670.03 467.2,669.68 467.7,669.32 468.2,668.92 468.7,668.49 469.2,668 469.7,667.44 470.2,668.02 470.7,667.33 471.2,666.48 471.7,665.44 472.2,664.17 472.7,662.64 473.2,660.81 473.7,658.65 474.2,656.1 474.7,653.14 475.2,649.72 475.7,645.82 476.2,641.43 476.7,636.51 477.2,631.08 477.7,625.16 478.2,618.77 478.7,611.95 479.2,604.79 479.7,597.37 480.2,589.79 480.7,582.18 481.2,574.68 481.7,567.46 482.2,560.67 482.7,554.52 483.2,549.17 483.7,544.8 484.2,541.58 484.7,539.62 485.2,539.01 485.7,539.77 486.2,541.88 486.7,545.26 487.2,549.78 487.7,555.28 488.2,561.59 488.7,568.52 489.2,575.9 489.7,583.55 490.2,591.31 490.7,599.04 491.2,606.62 491.7,613.93 492.2,620.9 492.7,627.44 493.2,633.52 493.7,639.1 494.2,644.17 494.7,648.72 495.2,652.77 495.7,656.34 496.2,659.45 496.7,662.15 497.2,664.47 497.7,666.45 498.2,668.13 498.7,669.55 499.2,670.74 499.7,671.75 500.2,672.84 500.7,674.11 501.2,675.1 501.7,675.73 502.2,675.99 502.7,675.91 503.2,675.6 503.7,675.16 504.2,674.76 504.7,674.51 505.2,674.5 505.7,674.77 506.2,675.31 506.7,676.03 507.2,676.81 507.7,677.53 508.2,678.06 508.7,678.32 509.2,678.28 509.7,677.96 510.2,677.45 510.7,676.86 511.2,676.33 511.7,675.97 512.2,675.89 512.7,676.09 513.2,676.57 513.7,677.23 514.2,677.96 514.7,678.63 515.2,679.11 515.7,679.32 516.2,679.23 516.7,678.87 517.2,678.32 517.7,677.7 518.2,677.15 518.7,676.78 519.2,676.68 519.7,676.88 520.2,677.34 520.7,677.99 521.2,678.71 521.7,679.35 522.2,679.81 522.7,679.99" fill="none" stroke="#b2b2b2" stroke-width="2.5" stroke-linejoin="round" stroke-linecap="round" stroke-dasharray="3.2 1.2"/>
<polyline points="310.2,656.89 310.7,656.88 311.2,656.86 311.7,656.85 312.2,656.84 312.7,656.83 313.2,656.82 313.7,656.8 314.2,656.79 314.7,656.78 315.2,656.76 315.7,656.75 316.2,656.73 316.7,656.71 317.2,656.7 317.7,656.68 318.2,656.66 318.7,656.64 319.2,656.62 319.7,656.59 320.2,656.57 320.7,656.54 321.2,656.52 321.7,656.49 322.2,656.46 322.7,656.43 323.2,656.4 323.7,656.36 324.2,656.33 324.7,656.29 325.2,656.25 325.7,656.2 326.2,656.16 326.7,656.11 327.2,656.05 327.7,656 328.2,655.94 328.7,655.87 329.2,655.8 329.7,655.72 330.2,655.63 330.7,655.54 331.2,655.43 331.7,655.31 332.2,655.27 332.7,655.27 333.2,655.24 333.7,655.18 334.2,655.08 334.7,654.91 335.2,654.68 335.7,654.36 336.2,653.93 336.7,653.38 337.2,652.66 337.7,651.77 338.2,650.66 338.7,649.32 339.2,647.71 339.7,645.87 340.2,643.74 340.7,641.29 341.2,638.5 341.7,635.4 342.2,631.99 342.7,628.32 343.2,624.44 343.7,620.41 344.2,616.34 344.7,612.31 345.2,608.47 345.7,604.95 346.2,601.89 346.7,599.47 347.2,597.72 347.7,596.86 348.2,597.03 348.7,598.05 349.2,599.97 349.7,602.68 350.2,606.04 350.7,609.9 351.2,614.11 351.7,618.53 352.2,623.03 352.7,627.49 353.2,631.83 353.7,635.97 354.2,639.82 354.7,643.29 355.2,646.44 355.7,649.27 356.2,651.76 356.7,653.94 357.2,655.83 357.7,657.44 358.2,658.8 358.7,659.95 359.2,660.91 359.7,661.71 360.2,662.37 360.7,662.93 361.2,663.39 361.7,663.78 362.2,664.11 362.7,664.39 363.2,664.64 363.7,664.85 364.2,665.05 364.7,665.22 365.2,665.38 365.7,665.53 366.2,665.67 366.7,665.8 367.2,665.93 367.7,666.04 368.2,666.16 368.7,666.27 369.2,666.37 369.7,666.47 370.2,666.57 370.7,666.67 371.2,666.76 371.7,666.84 372.2,666.91 372.7,666.98 373.2,667.05 373.7,667.11 374.2,667.18 374.7,667.24 375.2,667.3 375.7,667.36 376.2,667.42 376.7,667.47 377.2,667.53 377.7,667.58 378.2,667.64 378.7,667.69 379.2,667.74 379.7,667.79 380.2,667.84 380.7,667.89 381.2,667.94 381.7,667.99 382.2,668.03 382.7,668.08 383.2,668.13 383.7,668.17 384.2,668.22 384.7,668.26 385.2,668.31 385.7,668.35 386.2,668.4 386.7,668.44 387.2,668.48 387.7,668.52 388.2,668.57 388.7,668.61 389.2,668.65 389.7,668.69 390.2,668.73 390.7,668.77 391.2,668.81 391.7,668.85 392.2,668.89 392.7,668.93 393.2,668.97 393.7,669.01 394.2,669.05 394.7,669.09 395.2,669.13 395.7,669.17 396.2,669.21 396.7,669.24 397.2,669.28 397.7,669.32 398.2,669.36 398.7,669.39 399.2,669.43 399.7,669.47 400.2,669.51 400.7,669.54 401.2,669.58 401.7,669.62 402.2,669.65 402.7,669.69 403.2,669.73 403.7,669.76 404.2,669.8 404.7,669.83 405.2,669.87 405.7,669.91 406.2,669.94 406.7,669.98 407.2,670.01 407.7,670.05 408.2,670.08 408.7,670.12 409.2,670.15 409.7,670.19 410.2,670.22 410.7,670.26 411.2,670.29 411.7,670.33 412.2,670.36 412.7,670.4 413.2,670.43 413.7,670.46 414.2,670.5 414.7,670.53 415.2,670.57 415.7,670.6 416.2,670.63 416.7,670.67 417.2,670.7 417.7,670.73 418.2,670.77 418.7,670.8 419.2,670.83 419.7,670.86 420.2,670.89 420.7,670.91 421.2,670.93 421.7,670.96 422.2,670.98 422.7,671 423.2,671.02 423.7,671.04 424.2,671.06 424.7,671.08 425.2,671.1 425.7,671.12 426.2,671.14 426.7,671.16 427.2,671.18 427.7,671.2 428.2,671.21 428.7,671.23 429.2,671.25 429.7,671.27 430.2,671.29 430.7,671.31 431.2,671.33 431.7,671.34 432.2,671.36 432.7,671.38 433.2,671.4 433.7,671.41 434.2,671.43 434.7,671.45 435.2,671.46 435.7,671.48 436.2,671.49 436.7,671.51 437.2,671.52 437.7,671.54 438.2,671.55 438.7,671.57 439.2,671.58 439.7,671.6 440.2,671.61 440.7,671.62 441.2,671.63 441.7,671.65 442.2,671.66 442.7,671.67 443.2,671.68 443.7,671.69 444.2,671.7 444.7,671.71 445.2,671.72 445.7,671.73 446.2,671.73 446.7,671.74 447.2,671.75 447.7,671.75 448.2,671.76 448.7,671.76 449.2,671.77 449.7,671.77 450.2,671.77 450.7,671.77 451.2,671.77 451.7,671.77 452.2,671.77 452.7,671.76 453.2,671.76 453.7,671.75 454.2,671.74 454.7,671.74 455.2,671.72 455.7,671.71 456.2,671.7 456.7,671.68 457.2,671.66 457.7,671.64 458.2,671.62 458.7,671.6 459.2,671.57 459.7,671.54 460.2,671.51 460.7,671.48 461.2,671.44 461.7,671.4 462.2,671.35 462.7,671.3 463.2,671.24 463.7,671.17 464.2,671.1 464.7,671.01 465.2,670.92 465.7,670.8 466.2,670.67 466.7,670.51 467.2,670.32 467.7,670.09 468.2,669.81 468.7,669.48 469.2,669.06 469.7,668.56 470.2,667.93 470.7,667.23 471.2,666.37 471.7,665.31 472.2,664.02 472.7,662.47 473.2,660.61 473.7,658.41 474.2,655.82 474.7,652.81 475.2,649.34 475.7,645.39 476.2,640.92 476.7,635.93 477.2,630.42 477.7,624.4 478.2,617.91 478.7,610.99 479.2,603.72 479.7,596.18 480.2,588.49 480.7,580.76 481.2,573.15 481.7,565.81 482.2,558.93 482.7,552.67 483.2,547.24 483.7,542.81 484.2,539.54 484.7,537.54 485.2,536.92 485.7,537.7 486.2,539.84 486.7,543.26 487.2,547.85 487.7,553.43 488.2,559.84 488.7,566.87 489.2,574.36 489.7,582.13 490.2,590.01 490.7,597.86 491.2,605.55 491.7,612.97 492.2,620.04 492.7,626.69 493.2,632.86 493.7,638.52 494.2,643.66 494.7,648.28 495.2,652.39 495.7,656.01 496.2,659.17 496.7,661.91 497.2,664.27 497.7,666.28 498.2,667.98 498.7,669.42 499.2,670.63 499.7,671.65 500.2,672.48 500.7,673.15 501.2,673.7 501.7,674.17 502.2,674.55 502.7,674.88 503.2,675.16 503.7,675.4 504.2,675.61 504.7,675.79 505.2,675.96 505.7,676.11 506.2,676.24 506.7,676.37 507.2,676.49 507.7,676.6 508.2,676.7 508.7,676.8 509.2,676.89 509.7,676.98 510.2,677.06 510.7,677.14 511.2,677.22 511.7,677.29 512.2,677.36 512.7,677.43 513.2,677.5 513.7,677.57 514.2,677.63 514.7,677.69 515.2,677.75 515.7,677.81 516.2,677.86 516.7,677.92 517.2,677.97 517.7,678.02 518.2,678.07 518.7,678.12 519.2,678.17 519.7,678.22 520.2,678.26 520.7,678.31 521.2,678.35 521.7,678.39 522.2,678.44 522.7,678.48" fill="none" stroke="#4fd85c" stroke-width="1.05" stroke-linejoin="round" stroke-linecap="round"/>
<rect x="309.7" y="523" width="213.8" height="171.9" fill="none" stroke="#3a3a3a" stroke-width="1.05"/>
<line x1="314.7" y1="694.9" x2="314.7" y2="698.1" stroke="#3a3a3a" stroke-width="1"/>
<text x="314.7" y="706.5" font-family='"Liberation Serif", "Times New Roman", serif' font-size="7" font-weight="normal" fill="#2a2a2a" text-anchor="middle">1050</text>
<line x1="344.53" y1="694.9" x2="344.53" y2="698.1" stroke="#3a3a3a" stroke-width="1"/>
<text x="344.53" y="706.5" font-family='"Liberation Serif", "Times New Roman", serif' font-size="7" font-weight="normal" fill="#2a2a2a" text-anchor="middle">1045</text>
<line x1="374.36" y1="694.9" x2="374.36" y2="698.1" stroke="#3a3a3a" stroke-width="1"/>
<text x="374.36" y="706.5" font-family='"Liberation Serif", "Times New Roman", serif' font-size="7" font-weight="normal" fill="#2a2a2a" text-anchor="middle">1040</text>
<line x1="404.19" y1="694.9" x2="404.19" y2="698.1" stroke="#3a3a3a" stroke-width="1"/>
<text x="404.19" y="706.5" font-family='"Liberation Serif", "Times New Roman", serif' font-size="7" font-weight="normal" fill="#2a2a2a" text-anchor="middle">1035</text>
<line x1="434.02" y1="694.9" x2="434.02" y2="698.1" stroke="#3a3a3a" stroke-width="1"/>
<text x="434.02" y="706.5" font-family='"Liberation Serif", "Times New Roman", serif' font-size="7" font-weight="normal" fill="#2a2a2a" text-anchor="middle">1030</text>
<line x1="463.85" y1="694.9" x2="463.85" y2="698.1" stroke="#3a3a3a" stroke-width="1"/>
<text x="463.85" y="706.5" font-family='"Liberation Serif", "Times New Roman", serif' font-size="7" font-weight="normal" fill="#2a2a2a" text-anchor="middle">1025</text>
<line x1="493.68" y1="694.9" x2="493.68" y2="698.1" stroke="#3a3a3a" stroke-width="1"/>
<text x="493.68" y="706.5" font-family='"Liberation Serif", "Times New Roman", serif' font-size="7" font-weight="normal" fill="#2a2a2a" text-anchor="middle">1020</text>
<line x1="523.5" y1="694.9" x2="523.5" y2="698.1" stroke="#3a3a3a" stroke-width="1"/>
<text x="523.5" y="706.5" font-family='"Liberation Serif", "Times New Roman", serif' font-size="7" font-weight="normal" fill="#2a2a2a" text-anchor="middle">1015</text>
<line x1="329.62" y1="694.9" x2="329.62" y2="696.7" stroke="#3a3a3a" stroke-width="0.8"/>
<line x1="359.44" y1="694.9" x2="359.44" y2="696.7" stroke="#3a3a3a" stroke-width="0.8"/>
<line x1="389.27" y1="694.9" x2="389.27" y2="696.7" stroke="#3a3a3a" stroke-width="0.8"/>
<line x1="419.11" y1="694.9" x2="419.11" y2="696.7" stroke="#3a3a3a" stroke-width="0.8"/>
<line x1="448.94" y1="694.9" x2="448.94" y2="696.7" stroke="#3a3a3a" stroke-width="0.8"/>
<line x1="478.76" y1="694.9" x2="478.76" y2="696.7" stroke="#3a3a3a" stroke-width="0.8"/>
<line x1="508.6" y1="694.9" x2="508.6" y2="696.7" stroke="#3a3a3a" stroke-width="0.8"/>
<text x="416" y="721" font-family='"Liberation Sans", Arial, sans-serif' font-size="11.3" font-weight="normal" fill="#2a2a2a" text-anchor="middle">Binding energy(eV)</text>
<text x="304.3" y="605.5" font-family='"Liberation Sans", Arial, sans-serif' font-size="11.2" font-weight="normal" fill="#2a2a2a" text-anchor="middle" transform="rotate(-90 304.3 605.5)">Intensity(a.u.)</text>
<text x="314.5" y="542.6" font-family='"Liberation Sans", Arial, sans-serif' font-size="21" font-weight="bold" fill="#111" text-anchor="start">(a)</text>
<text x="333.4" y="575.2" font-family='"Liberation Serif", "Times New Roman", serif' font-size="9.3" fill="#333">Zn 2p<tspan dy="1.8" font-size="5.8">1/2</tspan></text>
<text x="470.2" y="534.0" font-family='"Liberation Serif", "Times New Roman", serif' font-size="9.0" fill="#333">Zn 2p<tspan dy="1.8" font-size="5.6">3/2</tspan></text>
<polyline points="563.68,629.38 564.67,634.19 565.49,634.66 566.31,634.38 567.13,634.83 567.96,634.83 568.78,634.74 569.6,635.18 570.53,634.73 571.45,634.88 572.38,634.5 573.3,634.4 574.23,634.44 575.15,634.54 576.08,633.86 577,633.75 577.82,633.78 578.64,633.76 579.47,633.26 580.45,634.98 581.44,637.24 582.43,636.83 583.41,637.65 584.4,637.49 585.33,637.08 586.25,636.76 587.18,636.58 588.1,636.63 589.21,637.3 590.32,638.63 591.06,609.77 591.8,640.66 592.91,643.17 594.02,645.54 595.5,585.1 596.73,649.15 597.56,650.09 598.38,650.57 599.2,651.39 600.02,651.47 600.85,651.77 601.67,651.57 602.49,651.46 603.31,651.62 604.13,651.5 604.96,651.37 605.78,651.69 606.6,651.59 607.42,651.22 608.25,651.4 609.07,651.31 609.89,651.5 610.71,651.34 611.53,650.98 612.36,651.41 613.18,650.75 614,650.9 614.82,651.06 615.65,650.55 616.47,650.71 617.29,650.31 618.11,650.67 618.93,650.65 619.76,650.44 620.58,650.57 621.4,650.09 622.22,650.28 623.05,650.12 623.87,650.03 624.69,649.86 625.51,650.05 626.33,650.04 627.16,649.6 627.98,649.61 628.8,649.08 629.62,649.41 630.45,649.26 631.27,649.38 632.09,649.15 632.91,648.66 633.73,648.61 634.56,648.7 635.38,648.13 636.2,648.32 637.02,648 637.85,647.85 638.67,647.69 639.49,648.11 640.31,647.58 641.13,647.58 641.96,647.6 642.78,647.85 643.6,647.22 644.42,647.39 645.25,647.38 646.07,647.53 646.89,647.4 647.71,647.35 648.53,646.86 649.36,646.87 650.18,646.75 651,647.04 651.82,647.01 652.65,646.36 653.47,646.3 654.29,646.25 655.11,646.17 655.93,646.26 656.76,646.26 657.58,645.94 658.4,645.68 659.22,645.56 660.05,645.11 660.87,644.84 661.69,646.18 662.51,647.07 663.33,648.01 664.16,648.41 664.98,648.78 665.8,648.68 666.62,649.6 667.45,649.84 668.27,650.24 658,645.74 658.99,645.62 659.97,645.79 660.96,645.75 661.76,646.92 662.56,647.33 663.37,648.13 664.17,649.03 664.99,649.29 665.81,649.7 666.63,649.79 667.46,650.04 668.28,650.43 669.1,650.68 670.03,650.43 670.95,649.77 671.88,649.93 672.8,649.32 673.79,647.39 674.77,645.86 675.64,647.9 676.5,649.88 677.43,650.45 678.35,651.7 679.28,652.54 680.2,652.91 681.02,653.58 681.84,653.96 682.67,654.91 683.65,638.63 684.89,655.12 685.87,654.98 686.86,654.62 687.85,654.71 688.83,654.17 690.07,642.58 691.3,657.63 692.16,659.38 693.03,661.88 694.01,655.9 695,662.82 695.82,662.76 696.64,663.24 697.47,663.09 698.29,663.64 699.11,664.16 699.93,664.29 700.81,664.07 701.7,663.66 702.58,663.63 703.46,663.38 704.34,663.7 705.22,663.42 706.1,663.49 707.58,667.74 708.57,618.4 709.55,668.85 710.4,668.69 711.25,669.02 712.1,669.06 712.95,668.89 713.8,668.77 714.65,668.7 715.5,668.56 716.35,668.12 717.2,668.24 718.06,668.03 718.93,667.7 719.79,667.6 720.65,667.68 721.52,667.57 722.38,667.77 723.24,667.86 724.11,667.4 724.97,667.65 725.83,667.58 726.94,669.66 728.05,671.44 729.04,615.44 730.03,673.81 730.89,673.77 731.75,673.83 732.62,673.88 733.48,673.94 734.34,674.3 735.21,674.55 736.07,674.57 736.93,674.38 737.82,674.47 738.7,674.53 739.58,674 740.46,674.37 741.34,674.51 742.22,674.38 743.1,674.32 744.33,672.65 745.57,674.17 746.43,674.57 747.29,674.23 748.16,674.53 749.02,674.63 749.88,674.2 750.75,674.18 751.61,674.54 752.47,674.36 753.34,673.94 754.2,673.89 755.43,670.45 756.67,674.68 757.55,674.65 758.43,674.22 759.31,674.73 760.19,674.87 761.07,674.68 761.95,674.5 762.83,674.64 763.7,671.19 764.56,667.74 765.79,676.4 766.61,676.18 767.42,676.17 768.23,676.91 769.04,676.76 769.85,676.74 770.66,677.1 771.47,676.82 772.35,677.09 773.23,677.02 774.11,676.55 774.99,676.55 775.87,676.54 776.75,676.47 777.63,676.68 778.87,672.01 779.73,674.83 780.59,677.34 781.09,678.1" fill="none" stroke="#2c22d6" stroke-width="1.25" stroke-linejoin="round" stroke-linecap="round"/>
<rect x="563.7" y="522.7" width="217.6" height="174.6" fill="none" stroke="#3a3a3a" stroke-width="1.05"/>
<line x1="563.7" y1="697.3" x2="563.7" y2="700.5" stroke="#3a3a3a" stroke-width="1"/>
<text x="563.7" y="709.1" font-family='"Liberation Serif", "Times New Roman", serif' font-size="7" font-weight="normal" fill="#2a2a2a" text-anchor="middle">1200</text>
<line x1="599.97" y1="697.3" x2="599.97" y2="700.5" stroke="#3a3a3a" stroke-width="1"/>
<text x="599.97" y="709.1" font-family='"Liberation Serif", "Times New Roman", serif' font-size="7" font-weight="normal" fill="#2a2a2a" text-anchor="middle">1000</text>
<line x1="636.23" y1="697.3" x2="636.23" y2="700.5" stroke="#3a3a3a" stroke-width="1"/>
<text x="636.23" y="709.1" font-family='"Liberation Serif", "Times New Roman", serif' font-size="7" font-weight="normal" fill="#2a2a2a" text-anchor="middle">800</text>
<line x1="672.5" y1="697.3" x2="672.5" y2="700.5" stroke="#3a3a3a" stroke-width="1"/>
<text x="672.5" y="709.1" font-family='"Liberation Serif", "Times New Roman", serif' font-size="7" font-weight="normal" fill="#2a2a2a" text-anchor="middle">600</text>
<line x1="708.77" y1="697.3" x2="708.77" y2="700.5" stroke="#3a3a3a" stroke-width="1"/>
<text x="708.77" y="709.1" font-family='"Liberation Serif", "Times New Roman", serif' font-size="7" font-weight="normal" fill="#2a2a2a" text-anchor="middle">400</text>
<line x1="745.03" y1="697.3" x2="745.03" y2="700.5" stroke="#3a3a3a" stroke-width="1"/>
<text x="745.03" y="709.1" font-family='"Liberation Serif", "Times New Roman", serif' font-size="7" font-weight="normal" fill="#2a2a2a" text-anchor="middle">200</text>
<line x1="781.3" y1="697.3" x2="781.3" y2="700.5" stroke="#3a3a3a" stroke-width="1"/>
<text x="781.3" y="709.1" font-family='"Liberation Serif", "Times New Roman", serif' font-size="7" font-weight="normal" fill="#2a2a2a" text-anchor="middle">0</text>
<line x1="581.83" y1="697.3" x2="581.83" y2="699.1" stroke="#3a3a3a" stroke-width="0.8"/>
<line x1="618.1" y1="697.3" x2="618.1" y2="699.1" stroke="#3a3a3a" stroke-width="0.8"/>
<line x1="654.37" y1="697.3" x2="654.37" y2="699.1" stroke="#3a3a3a" stroke-width="0.8"/>
<line x1="690.63" y1="697.3" x2="690.63" y2="699.1" stroke="#3a3a3a" stroke-width="0.8"/>
<line x1="726.9" y1="697.3" x2="726.9" y2="699.1" stroke="#3a3a3a" stroke-width="0.8"/>
<line x1="763.17" y1="697.3" x2="763.17" y2="699.1" stroke="#3a3a3a" stroke-width="0.8"/>
<text x="670.4" y="723" font-family='"Liberation Sans", Arial, sans-serif' font-size="10.85" font-weight="normal" fill="#2a2a2a" text-anchor="middle">Binding energy(eV)</text>
<text x="556.5" y="610" font-family='"Liberation Sans", Arial, sans-serif' font-size="11.2" font-weight="normal" fill="#2a2a2a" text-anchor="middle" transform="rotate(-90 556.5 610)">Intensity(a.u.)</text>
<text x="567.9" y="543.3" font-family='"Liberation Sans", Arial, sans-serif' font-size="20" font-weight="bold" fill="#111" text-anchor="start">(b)</text>
<line x1="725.3" y1="537.5" x2="748.8" y2="537.5" stroke="#2c22d6" stroke-width="1.1"/>
<text x="752.2" y="541.3" font-family='"Liberation Sans", Arial, sans-serif' font-size="10.6" font-weight="normal" fill="#2a2a2a" text-anchor="start">HAZ</text>
<text x="590.8" y="572" font-family='"Liberation Sans", Arial, sans-serif' font-size="8.2" font-weight="normal" fill="#2a2a2a" text-anchor="start">Zn2p3</text>
<text x="570.9" y="585" font-family='"Liberation Sans", Arial, sans-serif' font-size="8.1" font-weight="normal" fill="#2a2a2a" text-anchor="start">Zn2p1</text>
<text x="682.3" y="623" font-family='"Liberation Sans", Arial, sans-serif' font-size="8.4" font-weight="normal" fill="#2a2a2a" text-anchor="start">O1s</text>
<text x="705" y="613.5" font-family='"Liberation Sans", Arial, sans-serif' font-size="8.4" font-weight="normal" fill="#2a2a2a" text-anchor="start">N1s</text>
<text x="727" y="612" font-family='"Liberation Sans", Arial, sans-serif' font-size="9.2" font-weight="normal" fill="#2a2a2a" text-anchor="start">C1s</text>
<g clip-path="url(#clipH1)">
<rect x="10.6" y="778.4" width="146.3" height="148.6" fill="#212121" stroke="none" stroke-width="1"/>
<rect x="10.6" y="778.4" width="146.3" height="148.6" fill="#808080" stroke="none" stroke-width="1" filter="url(#grain)" opacity="0.07"/>
<path d="M87.6 813 L106 826.2 L124.2 841.6 L125 860 L124.6 878.4 L106 890.4 L87.6 901.2 L66 889.8 L46.6 877.2 L44.6 857 L44 837.2 L64 825.2Z" fill="#f8f8f8" stroke="#f8f8f8" stroke-width="1.5" stroke-linejoin="round" filter="url(#blur25)"/>
<path d="M10.8 778.4 L10.8 927 L7.2 927 L9.6 808.4 Z" fill="url(#stripG)" filter="url(#blur05)"/>
<line x1="12" y1="922.3" x2="69.8" y2="922.3" stroke="#f5f5f5" stroke-width="1.8"/>
</g>
<rect x="12" y="928.3" width="57" height="1.6" fill="#fff" stroke="#777" stroke-width="0.5"/>
<text x="71.5" y="930.6" font-family='"Liberation Sans", Arial, sans-serif' font-size="3.2" font-weight="bold" fill="#444" text-anchor="start">100 nm</text>
<text x="155.5" y="930.6" font-family='"Liberation Sans", Arial, sans-serif' font-size="3.2" font-weight="bold" fill="#444" text-anchor="end">SEI(frame1)</text>
<rect x="174" y="778.4" width="142.1" height="148.6" fill="#010001" stroke="none" stroke-width="1"/>
<rect x="174" y="778.4" width="142.1" height="148.6" fill="url(#dZnBg)" stroke="none" stroke-width="1"/>
<mask id="mZn" maskUnits="userSpaceOnUse" x="174" y="778.4" width="142.1" height="148.6"><path d="M246.5 818.3 L282.01 839.05 L282.01 880.55 L246.5 901.3 L210.99 880.55 L210.99 839.05Z" fill="#fff" stroke="#fff" stroke-width="2" stroke-linejoin="round" filter="url(#blur3b)"/></mask>
<g mask="url(#mZn)">
<rect x="174" y="778.4" width="142.1" height="148.6" fill="#100312" stroke="none" stroke-width="1"/>
<rect x="174" y="778.4" width="142.1" height="148.6" fill="url(#dZn)" stroke="none" stroke-width="1"/>
</g>
<rect x="174" y="778.4" width="3.3" height="99.9" fill="#f01af0" stroke="none" stroke-width="1"/>
<text x="186.4" y="799" font-family='"Liberation Sans", Arial, sans-serif' font-size="18" font-weight="normal" fill="#f4f4f4" text-anchor="start">Zn</text>
<line x1="178.3" y1="923.2" x2="236.1" y2="923.2" stroke="#eeeeee" stroke-width="1.7"/>
<rect x="178.3" y="928.3" width="56.8" height="1.6" fill="#fff" stroke="#777" stroke-width="0.5"/>
<text x="237.6" y="930.6" font-family='"Liberation Sans", Arial, sans-serif' font-size="3.2" font-weight="bold" fill="#444" text-anchor="start">100 nm</text>
<text x="314.1" y="930.6" font-family='"Liberation Sans", Arial, sans-serif' font-size="3.2" font-weight="bold" fill="#444" text-anchor="end">Zn K</text>
<rect x="329.6" y="778.4" width="141.9" height="148.6" fill="#040402" stroke="none" stroke-width="1"/>
<rect x="329.6" y="778.4" width="141.9" height="148.6" fill="url(#dNBg)" stroke="none" stroke-width="1"/>
<mask id="mN" maskUnits="userSpaceOnUse" x="329.6" y="778.4" width="141.9" height="148.6"><path d="M402 820 L437.51 841 L437.51 883 L402 904 L366.49 883 L366.49 841Z" fill="#fff" stroke="#fff" stroke-width="2" stroke-linejoin="round" filter="url(#blur3b)"/></mask>
<g mask="url(#mN)">
<rect x="329.6" y="778.4" width="141.9" height="148.6" fill="#0e0e04" stroke="none" stroke-width="1"/>
<rect x="329.6" y="778.4" width="141.9" height="148.6" fill="url(#dN)" stroke="none" stroke-width="1"/>
<rect x="329.6" y="778.4" width="141.9" height="148.6" fill="url(#dNhi)" stroke="none" stroke-width="1"/>
</g>
<rect x="329.6" y="778.4" width="3.3" height="111.3" fill="#f6f01a" stroke="none" stroke-width="1"/>
<text x="341.6" y="801.2" font-family='"Liberation Sans", Arial, sans-serif' font-size="18" font-weight="normal" fill="#f4f4f4" text-anchor="start">N</text>
<line x1="334" y1="923.2" x2="389.3" y2="923.2" stroke="#eeeeee" stroke-width="1.7"/>
<rect x="334" y="928.3" width="54.3" height="1.6" fill="#fff" stroke="#777" stroke-width="0.5"/>
<text x="390.8" y="930.6" font-family='"Liberation Sans", Arial, sans-serif' font-size="3.2" font-weight="bold" fill="#444" text-anchor="start">100 nm</text>
<text x="469.5" y="930.6" font-family='"Liberation Sans", Arial, sans-serif' font-size="3.2" font-weight="bold" fill="#444" text-anchor="end">N K</text>
<rect x="482.7" y="778.4" width="141.3" height="148.6" fill="#020303" stroke="none" stroke-width="1"/>
<rect x="482.7" y="778.4" width="141.3" height="148.6" fill="url(#dOBg)" stroke="none" stroke-width="1"/>
<mask id="mO" maskUnits="userSpaceOnUse" x="482.7" y="778.4" width="141.3" height="148.6"><path d="M555 817 L592.24 838.5 L592.24 881.5 L555 903 L517.76 881.5 L517.76 838.5Z" fill="#fff" stroke="#fff" stroke-width="2" stroke-linejoin="round" filter="url(#blur3b)"/></mask>
<g mask="url(#mO)">
<rect x="482.7" y="778.4" width="141.3" height="148.6" fill="#060909" stroke="none" stroke-width="1"/>
<rect x="482.7" y="778.4" width="141.3" height="148.6" fill="url(#dO)" stroke="none" stroke-width="1"/>
<rect x="482.7" y="778.4" width="141.3" height="148.6" fill="url(#dOhi)" stroke="none" stroke-width="1"/>
</g>
<rect x="482.7" y="778.4" width="3.3" height="98.6" fill="#22d8ee" stroke="none" stroke-width="1"/>
<text x="486.8" y="799.8" font-family='"Liberation Sans", Arial, sans-serif' font-size="18" font-weight="normal" fill="#f4f4f4" text-anchor="start">O</text>
<line x1="486.5" y1="923.2" x2="543" y2="923.2" stroke="#eeeeee" stroke-width="1.7"/>
<rect x="486.5" y="928.3" width="55.5" height="1.6" fill="#fff" stroke="#777" stroke-width="0.5"/>
<text x="544.5" y="930.6" font-family='"Liberation Sans", Arial, sans-serif' font-size="3.2" font-weight="bold" fill="#444" text-anchor="start">100 nm</text>
<text x="622" y="930.6" font-family='"Liberation Sans", Arial, sans-serif' font-size="3.2" font-weight="bold" fill="#444" text-anchor="end">O K</text>
<g clip-path="url(#clipH5)">
<rect x="639.2" y="778.4" width="141.2" height="148.6" fill="#0c3110" stroke="none" stroke-width="1"/>
<path d="M709.2 817 L747.31 838.25 L747.31 880.75 L709.2 902 L671.09 880.75 L671.09 838.25Z" fill="#2b9036" stroke="#2b9036" stroke-width="2" stroke-linejoin="round" filter="url(#blur3b)"/>
<ellipse cx="759" cy="850" rx="10" ry="38" fill="#000" opacity="0.25" filter="url(#blur3)"/>
<g filter="url(#blur04)">
<rect x="639.2" y="778.4" width="141.2" height="148.6" fill="url(#dCk)" stroke="none" stroke-width="1" opacity="0.55"/>
<rect x="639.2" y="778.4" width="141.2" height="148.6" fill="url(#dChi)" stroke="none" stroke-width="1" opacity="0.36"/>
</g>
<rect x="639.2" y="897.4" width="6.5" height="29.6" fill="#000" stroke="none" stroke-width="1" opacity="0.7"/>
<rect x="639.2" y="778.4" width="3.3" height="119" fill="#22e622" stroke="none" stroke-width="1"/>
<text x="644.2" y="800" font-family='"Liberation Sans", Arial, sans-serif' font-size="18" font-weight="normal" fill="#f4f4f4" text-anchor="start">C</text>
<line x1="642.4" y1="923" x2="698.9" y2="923" stroke="#eeeeee" stroke-width="1.7"/>
<text x="709.6" y="927.6" font-family='"Liberation Sans", Arial, sans-serif' font-size="11.6" font-weight="normal" fill="#e9e9e9" text-anchor="start">100nm</text>
</g>
<rect x="642.4" y="928.3" width="55.6" height="1.6" fill="#fff" stroke="#777" stroke-width="0.5"/>
<text x="700.5" y="930.6" font-family='"Liberation Sans", Arial, sans-serif' font-size="3.2" font-weight="bold" fill="#444" text-anchor="start">100 nm</text>
<text x="778.5" y="930.6" font-family='"Liberation Sans", Arial, sans-serif' font-size="3.2" font-weight="bold" fill="#444" text-anchor="end">C K</text>
<text x="20.2" y="764.45" font-family='"Liberation Sans", Arial, sans-serif' font-size="20.8" font-weight="bold" fill="#000" text-anchor="middle">H</text>
<text x="9" y="21.95" font-family='"Liberation Sans", Arial, sans-serif' font-size="20.8" font-weight="bold" fill="#000" text-anchor="middle">A</text>
<text x="535.5" y="15.95" font-family='"Liberation Sans", Arial, sans-serif' font-size="20.8" font-weight="bold" fill="#000" text-anchor="middle">B</text>
<text x="16.1" y="255.15" font-family='"Liberation Sans", Arial, sans-serif' font-size="20.8" font-weight="bold" fill="#000" text-anchor="middle">C</text>
<text x="298.1" y="254.75" font-family='"Liberation Sans", Arial, sans-serif' font-size="20.8" font-weight="bold" fill="#000" text-anchor="middle">D</text>
<text x="546.9" y="255.75" font-family='"Liberation Sans", Arial, sans-serif' font-size="20.8" font-weight="bold" fill="#000" text-anchor="middle">E</text>
<text x="23.8" y="500.45" font-family='"Liberation Sans", Arial, sans-serif' font-size="20.8" font-weight="bold" fill="#000" text-anchor="middle">F</text>
<text x="277.9" y="500.15" font-family='"Liberation Sans", Arial, sans-serif' font-size="20.8" font-weight="bold" fill="#000" text-anchor="middle">G</text>
</svg></body></html>
